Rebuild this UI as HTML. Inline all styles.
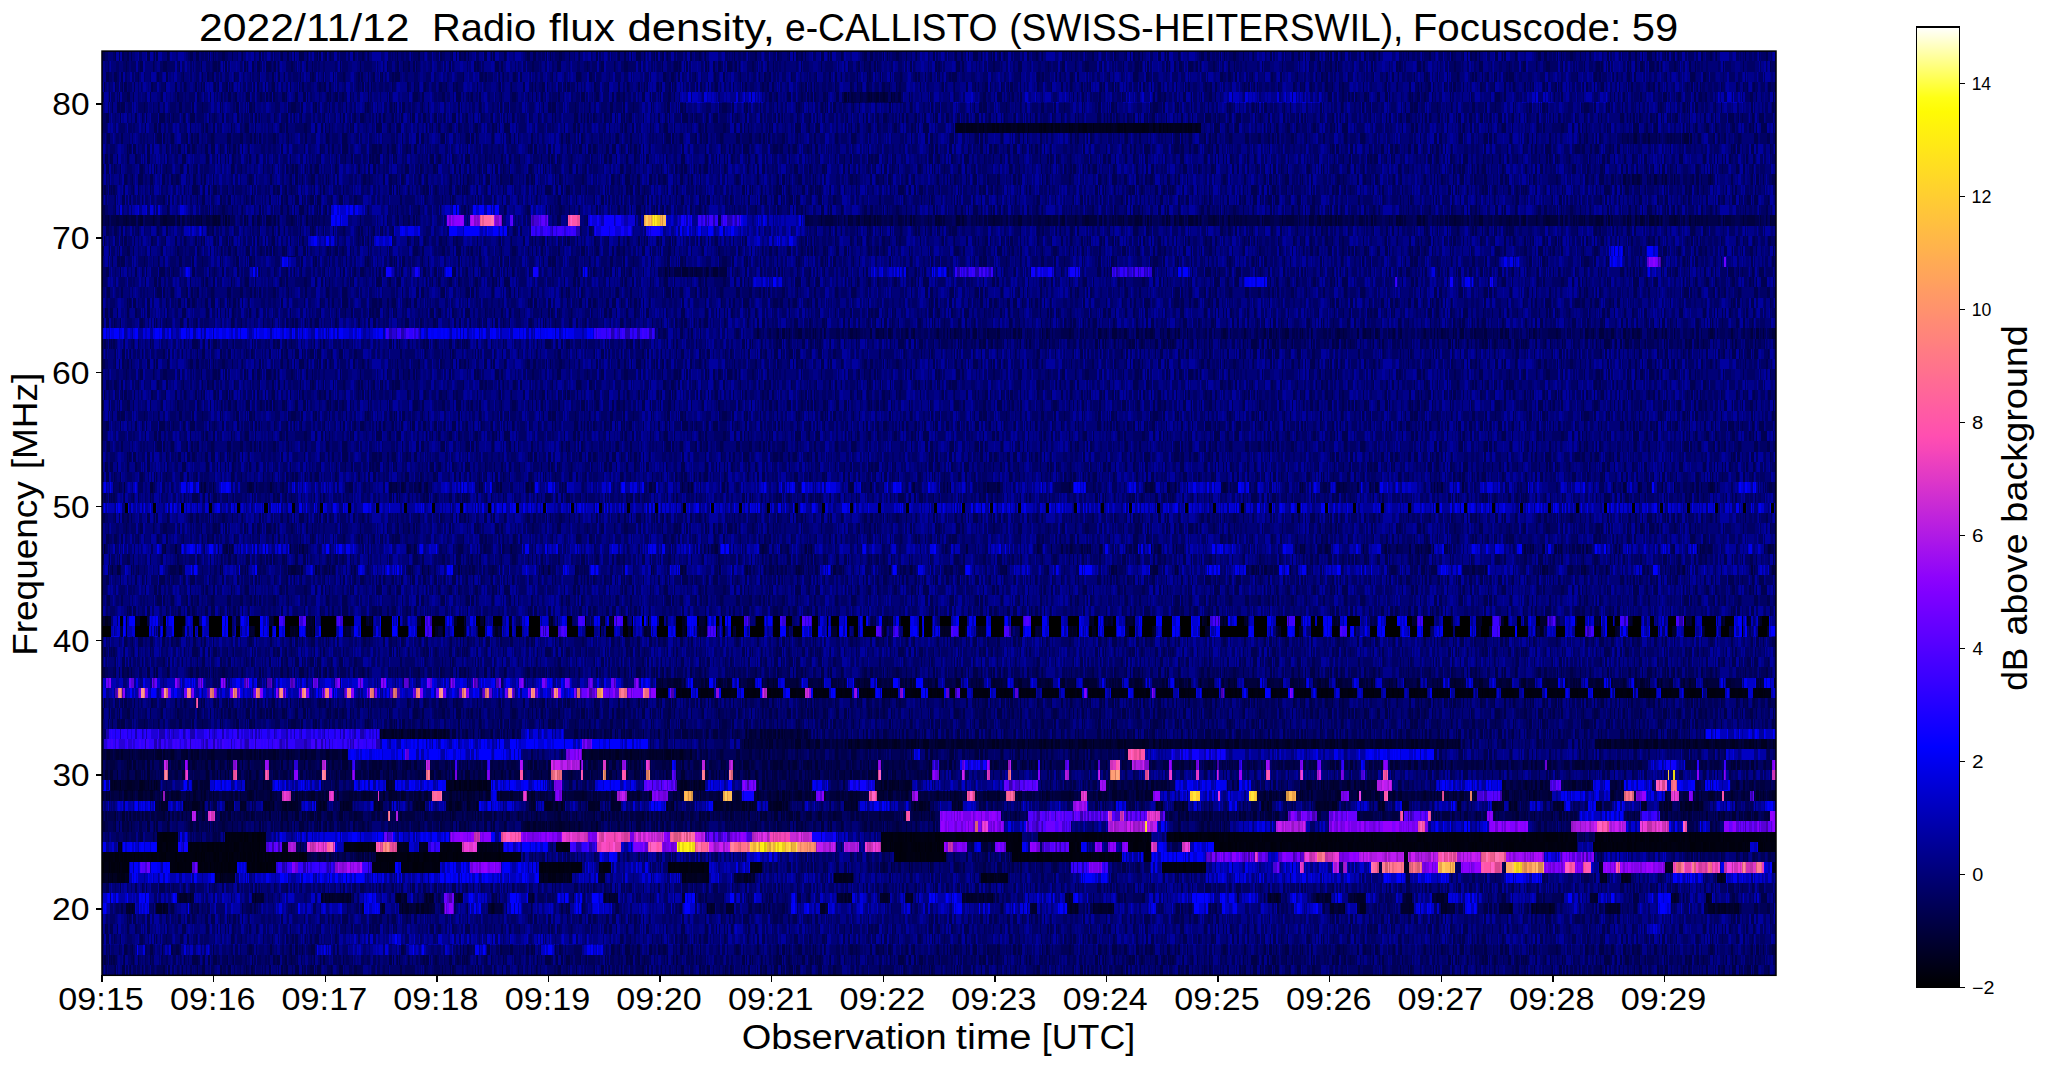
<!DOCTYPE html><html><head><meta charset="utf-8"><style>html,body{margin:0;padding:0;background:#fff;overflow:hidden}svg{display:block}text{font-family:"Liberation Sans",sans-serif}</style></head><body><svg width="2047" height="1067" viewBox="0 0 2047 1067" shape-rendering="crispEdges"><rect x="0" y="0" width="2047" height="1067" fill="#fff"/><defs><pattern id="d0" patternUnits="userSpaceOnUse" x="0" y="0" width="337" height="1067"><path fill="#000" fill-opacity="0.32" d="M16 0h2v1067h-2zM25 0h2v1067h-2zM31 0h1v1067h-1zM60 0h1v1067h-1zM81 0h2v1067h-2zM103 0h1v1067h-1zM104 0h1v1067h-1zM115 0h1v1067h-1zM119 0h1v1067h-1zM122 0h2v1067h-2zM127 0h2v1067h-2zM131 0h1v1067h-1zM147 0h3v1067h-3zM154 0h1v1067h-1zM156 0h2v1067h-2zM167 0h2v1067h-2zM190 0h1v1067h-1zM191 0h2v1067h-2zM196 0h2v1067h-2zM198 0h1v1067h-1zM209 0h1v1067h-1zM213 0h1v1067h-1zM222 0h3v1067h-3zM232 0h1v1067h-1zM242 0h1v1067h-1zM259 0h2v1067h-2zM281 0h2v1067h-2zM287 0h2v1067h-2zM294 0h1v1067h-1zM299 0h1v1067h-1zM300 0h2v1067h-2zM302 0h2v1067h-2zM307 0h1v1067h-1zM317 0h1v1067h-1zM319 0h2v1067h-2zM325 0h2v1067h-2zM330 0h1v1067h-1z"/><path fill="#000" fill-opacity="0.16" d="M0 0h2v1067h-2zM3 0h2v1067h-2zM5 0h2v1067h-2zM7 0h2v1067h-2zM11 0h2v1067h-2zM21 0h3v1067h-3zM24 0h1v1067h-1zM27 0h1v1067h-1zM30 0h1v1067h-1zM51 0h1v1067h-1zM52 0h1v1067h-1zM53 0h1v1067h-1zM55 0h1v1067h-1zM58 0h1v1067h-1zM64 0h2v1067h-2zM66 0h1v1067h-1zM69 0h1v1067h-1zM70 0h2v1067h-2zM74 0h1v1067h-1zM76 0h2v1067h-2zM78 0h3v1067h-3zM86 0h1v1067h-1zM91 0h1v1067h-1zM92 0h2v1067h-2zM94 0h1v1067h-1zM99 0h3v1067h-3zM105 0h1v1067h-1zM106 0h2v1067h-2zM113 0h1v1067h-1zM114 0h1v1067h-1zM124 0h2v1067h-2zM126 0h1v1067h-1zM139 0h3v1067h-3zM169 0h1v1067h-1zM188 0h2v1067h-2zM201 0h3v1067h-3zM205 0h3v1067h-3zM215 0h1v1067h-1zM218 0h3v1067h-3zM221 0h1v1067h-1zM225 0h3v1067h-3zM237 0h1v1067h-1zM241 0h1v1067h-1zM254 0h1v1067h-1zM262 0h2v1067h-2zM271 0h2v1067h-2zM274 0h1v1067h-1zM280 0h1v1067h-1zM291 0h1v1067h-1zM314 0h3v1067h-3zM323 0h2v1067h-2zM329 0h1v1067h-1zM331 0h3v1067h-3z"/></pattern><pattern id="l0" patternUnits="userSpaceOnUse" x="0" y="0" width="337" height="1067"><path fill="#212121" d="M2 0h1v1067h-1zM9 0h2v1067h-2zM20 0h1v1067h-1zM29 0h1v1067h-1zM47 0h1v1067h-1zM72 0h1v1067h-1zM87 0h1v1067h-1zM135 0h3v1067h-3zM142 0h2v1067h-2zM144 0h1v1067h-1zM145 0h1v1067h-1zM155 0h1v1067h-1zM172 0h3v1067h-3zM175 0h1v1067h-1zM184 0h2v1067h-2zM208 0h1v1067h-1zM238 0h2v1067h-2zM240 0h1v1067h-1zM248 0h3v1067h-3zM256 0h3v1067h-3zM264 0h1v1067h-1zM270 0h1v1067h-1zM279 0h1v1067h-1zM296 0h3v1067h-3zM318 0h1v1067h-1zM328 0h1v1067h-1z"/><path fill="#404040" d="M13 0h3v1067h-3zM35 0h3v1067h-3zM38 0h2v1067h-2zM40 0h2v1067h-2zM42 0h2v1067h-2zM48 0h3v1067h-3zM73 0h1v1067h-1zM88 0h2v1067h-2zM95 0h1v1067h-1zM102 0h1v1067h-1zM116 0h1v1067h-1zM117 0h1v1067h-1zM118 0h1v1067h-1zM120 0h2v1067h-2zM138 0h1v1067h-1zM146 0h1v1067h-1zM150 0h3v1067h-3zM158 0h1v1067h-1zM159 0h3v1067h-3zM170 0h2v1067h-2zM178 0h1v1067h-1zM179 0h1v1067h-1zM180 0h2v1067h-2zM182 0h2v1067h-2zM210 0h1v1067h-1zM246 0h2v1067h-2zM251 0h3v1067h-3zM261 0h1v1067h-1zM267 0h3v1067h-3zM273 0h1v1067h-1zM292 0h2v1067h-2zM295 0h1v1067h-1zM309 0h1v1067h-1zM312 0h2v1067h-2zM321 0h1v1067h-1zM322 0h1v1067h-1zM327 0h1v1067h-1zM334 0h3v1067h-3z"/></pattern><pattern id="d1" patternUnits="userSpaceOnUse" x="0" y="0" width="353" height="1067"><path fill="#000" fill-opacity="0.32" d="M36 0h2v1067h-2zM38 0h1v1067h-1zM40 0h1v1067h-1zM44 0h1v1067h-1zM46 0h1v1067h-1zM55 0h1v1067h-1zM70 0h2v1067h-2zM73 0h3v1067h-3zM82 0h2v1067h-2zM96 0h1v1067h-1zM97 0h2v1067h-2zM104 0h2v1067h-2zM109 0h1v1067h-1zM111 0h1v1067h-1zM113 0h2v1067h-2zM124 0h1v1067h-1zM133 0h1v1067h-1zM138 0h1v1067h-1zM150 0h1v1067h-1zM184 0h1v1067h-1zM192 0h3v1067h-3zM195 0h3v1067h-3zM203 0h2v1067h-2zM208 0h2v1067h-2zM213 0h2v1067h-2zM215 0h2v1067h-2zM227 0h1v1067h-1zM233 0h1v1067h-1zM252 0h1v1067h-1zM273 0h2v1067h-2zM277 0h3v1067h-3zM285 0h2v1067h-2zM291 0h1v1067h-1zM314 0h1v1067h-1zM320 0h1v1067h-1zM323 0h2v1067h-2zM343 0h1v1067h-1z"/><path fill="#000" fill-opacity="0.16" d="M8 0h2v1067h-2zM10 0h1v1067h-1zM14 0h1v1067h-1zM15 0h2v1067h-2zM20 0h1v1067h-1zM21 0h2v1067h-2zM25 0h1v1067h-1zM26 0h1v1067h-1zM43 0h1v1067h-1zM56 0h1v1067h-1zM59 0h1v1067h-1zM63 0h2v1067h-2zM67 0h3v1067h-3zM72 0h1v1067h-1zM77 0h1v1067h-1zM80 0h2v1067h-2zM84 0h2v1067h-2zM91 0h1v1067h-1zM102 0h2v1067h-2zM106 0h2v1067h-2zM110 0h1v1067h-1zM112 0h1v1067h-1zM115 0h2v1067h-2zM123 0h1v1067h-1zM131 0h2v1067h-2zM145 0h1v1067h-1zM152 0h2v1067h-2zM161 0h2v1067h-2zM166 0h2v1067h-2zM173 0h2v1067h-2zM175 0h1v1067h-1zM180 0h1v1067h-1zM188 0h1v1067h-1zM198 0h2v1067h-2zM218 0h2v1067h-2zM222 0h2v1067h-2zM224 0h3v1067h-3zM232 0h1v1067h-1zM235 0h2v1067h-2zM237 0h3v1067h-3zM240 0h1v1067h-1zM241 0h1v1067h-1zM245 0h2v1067h-2zM254 0h2v1067h-2zM257 0h2v1067h-2zM259 0h2v1067h-2zM265 0h2v1067h-2zM268 0h2v1067h-2zM275 0h1v1067h-1zM276 0h1v1067h-1zM282 0h3v1067h-3zM289 0h2v1067h-2zM292 0h2v1067h-2zM294 0h2v1067h-2zM297 0h1v1067h-1zM301 0h1v1067h-1zM311 0h1v1067h-1zM333 0h2v1067h-2zM335 0h2v1067h-2zM338 0h2v1067h-2zM340 0h1v1067h-1zM346 0h1v1067h-1zM347 0h2v1067h-2zM352 0h1v1067h-1z"/></pattern><pattern id="l1" patternUnits="userSpaceOnUse" x="0" y="0" width="353" height="1067"><path fill="#212121" d="M2 0h1v1067h-1zM4 0h2v1067h-2zM17 0h1v1067h-1zM23 0h2v1067h-2zM27 0h3v1067h-3zM34 0h2v1067h-2zM45 0h1v1067h-1zM50 0h2v1067h-2zM53 0h1v1067h-1zM57 0h2v1067h-2zM60 0h3v1067h-3zM66 0h1v1067h-1zM79 0h1v1067h-1zM86 0h1v1067h-1zM90 0h1v1067h-1zM99 0h2v1067h-2zM108 0h1v1067h-1zM117 0h1v1067h-1zM120 0h2v1067h-2zM141 0h1v1067h-1zM143 0h2v1067h-2zM148 0h2v1067h-2zM168 0h3v1067h-3zM172 0h1v1067h-1zM179 0h1v1067h-1zM183 0h1v1067h-1zM187 0h1v1067h-1zM189 0h2v1067h-2zM191 0h1v1067h-1zM220 0h2v1067h-2zM228 0h1v1067h-1zM234 0h1v1067h-1zM247 0h1v1067h-1zM253 0h1v1067h-1zM270 0h3v1067h-3zM287 0h1v1067h-1zM302 0h2v1067h-2zM312 0h1v1067h-1zM322 0h1v1067h-1zM330 0h2v1067h-2zM341 0h1v1067h-1zM342 0h1v1067h-1z"/><path fill="#404040" d="M0 0h1v1067h-1zM3 0h1v1067h-1zM6 0h2v1067h-2zM18 0h2v1067h-2zM39 0h1v1067h-1zM41 0h2v1067h-2zM52 0h1v1067h-1zM76 0h1v1067h-1zM78 0h1v1067h-1zM101 0h1v1067h-1zM118 0h2v1067h-2zM122 0h1v1067h-1zM125 0h3v1067h-3zM135 0h3v1067h-3zM154 0h2v1067h-2zM156 0h3v1067h-3zM160 0h1v1067h-1zM171 0h1v1067h-1zM176 0h2v1067h-2zM182 0h1v1067h-1zM200 0h2v1067h-2zM205 0h1v1067h-1zM206 0h2v1067h-2zM210 0h1v1067h-1zM250 0h2v1067h-2zM256 0h1v1067h-1zM280 0h2v1067h-2zM298 0h3v1067h-3zM305 0h3v1067h-3zM315 0h3v1067h-3zM329 0h1v1067h-1zM332 0h1v1067h-1z"/></pattern><pattern id="d2" patternUnits="userSpaceOnUse" x="0" y="0" width="389" height="1067"><path fill="#000" fill-opacity="0.32" d="M16 0h2v1067h-2zM18 0h2v1067h-2zM31 0h2v1067h-2zM44 0h3v1067h-3zM48 0h1v1067h-1zM65 0h2v1067h-2zM70 0h2v1067h-2zM81 0h1v1067h-1zM90 0h1v1067h-1zM97 0h1v1067h-1zM103 0h1v1067h-1zM106 0h3v1067h-3zM114 0h1v1067h-1zM120 0h1v1067h-1zM140 0h3v1067h-3zM154 0h1v1067h-1zM156 0h1v1067h-1zM166 0h1v1067h-1zM180 0h3v1067h-3zM187 0h1v1067h-1zM188 0h1v1067h-1zM196 0h1v1067h-1zM231 0h2v1067h-2zM233 0h1v1067h-1zM241 0h1v1067h-1zM263 0h1v1067h-1zM272 0h1v1067h-1zM286 0h2v1067h-2zM292 0h2v1067h-2zM295 0h2v1067h-2zM297 0h1v1067h-1zM305 0h1v1067h-1zM310 0h2v1067h-2zM315 0h2v1067h-2zM317 0h2v1067h-2zM335 0h2v1067h-2zM358 0h2v1067h-2zM368 0h2v1067h-2zM373 0h3v1067h-3z"/><path fill="#000" fill-opacity="0.16" d="M8 0h1v1067h-1zM12 0h2v1067h-2zM26 0h1v1067h-1zM27 0h1v1067h-1zM28 0h2v1067h-2zM33 0h2v1067h-2zM38 0h2v1067h-2zM47 0h1v1067h-1zM59 0h2v1067h-2zM75 0h3v1067h-3zM80 0h1v1067h-1zM88 0h1v1067h-1zM89 0h1v1067h-1zM91 0h1v1067h-1zM92 0h1v1067h-1zM94 0h2v1067h-2zM96 0h1v1067h-1zM111 0h2v1067h-2zM115 0h2v1067h-2zM127 0h3v1067h-3zM130 0h2v1067h-2zM139 0h1v1067h-1zM143 0h2v1067h-2zM148 0h1v1067h-1zM151 0h1v1067h-1zM160 0h1v1067h-1zM163 0h3v1067h-3zM167 0h1v1067h-1zM168 0h2v1067h-2zM170 0h2v1067h-2zM193 0h3v1067h-3zM197 0h1v1067h-1zM200 0h1v1067h-1zM201 0h2v1067h-2zM204 0h3v1067h-3zM207 0h2v1067h-2zM214 0h1v1067h-1zM221 0h1v1067h-1zM234 0h1v1067h-1zM237 0h2v1067h-2zM239 0h2v1067h-2zM245 0h2v1067h-2zM254 0h1v1067h-1zM267 0h2v1067h-2zM269 0h1v1067h-1zM278 0h1v1067h-1zM282 0h2v1067h-2zM288 0h1v1067h-1zM290 0h2v1067h-2zM307 0h1v1067h-1zM314 0h1v1067h-1zM321 0h1v1067h-1zM324 0h1v1067h-1zM330 0h1v1067h-1zM337 0h2v1067h-2zM364 0h1v1067h-1zM378 0h2v1067h-2zM383 0h2v1067h-2zM386 0h3v1067h-3z"/></pattern><pattern id="l2" patternUnits="userSpaceOnUse" x="0" y="0" width="389" height="1067"><path fill="#212121" d="M1 0h1v1067h-1zM20 0h2v1067h-2zM30 0h1v1067h-1zM35 0h1v1067h-1zM61 0h2v1067h-2zM67 0h3v1067h-3zM73 0h2v1067h-2zM82 0h2v1067h-2zM87 0h1v1067h-1zM101 0h2v1067h-2zM122 0h1v1067h-1zM123 0h2v1067h-2zM135 0h2v1067h-2zM137 0h1v1067h-1zM145 0h2v1067h-2zM147 0h1v1067h-1zM155 0h1v1067h-1zM158 0h2v1067h-2zM172 0h1v1067h-1zM189 0h2v1067h-2zM192 0h1v1067h-1zM199 0h1v1067h-1zM217 0h1v1067h-1zM218 0h2v1067h-2zM226 0h1v1067h-1zM228 0h3v1067h-3zM235 0h2v1067h-2zM247 0h2v1067h-2zM251 0h1v1067h-1zM252 0h2v1067h-2zM260 0h3v1067h-3zM308 0h1v1067h-1zM319 0h2v1067h-2zM322 0h2v1067h-2zM349 0h2v1067h-2zM362 0h2v1067h-2zM376 0h2v1067h-2z"/><path fill="#404040" d="M0 0h1v1067h-1zM3 0h1v1067h-1zM4 0h2v1067h-2zM6 0h2v1067h-2zM25 0h1v1067h-1zM49 0h1v1067h-1zM50 0h1v1067h-1zM51 0h2v1067h-2zM63 0h2v1067h-2zM72 0h1v1067h-1zM78 0h2v1067h-2zM93 0h1v1067h-1zM98 0h2v1067h-2zM100 0h1v1067h-1zM104 0h2v1067h-2zM109 0h2v1067h-2zM121 0h1v1067h-1zM138 0h1v1067h-1zM149 0h2v1067h-2zM152 0h2v1067h-2zM161 0h1v1067h-1zM173 0h2v1067h-2zM184 0h3v1067h-3zM198 0h1v1067h-1zM215 0h2v1067h-2zM222 0h2v1067h-2zM227 0h1v1067h-1zM258 0h2v1067h-2zM275 0h3v1067h-3zM279 0h1v1067h-1zM285 0h1v1067h-1zM301 0h1v1067h-1zM303 0h1v1067h-1zM331 0h1v1067h-1zM339 0h1v1067h-1zM340 0h3v1067h-3zM346 0h3v1067h-3zM354 0h2v1067h-2zM366 0h2v1067h-2zM370 0h3v1067h-3z"/></pattern><pattern id="d3" patternUnits="userSpaceOnUse" x="0" y="0" width="401" height="1067"><path fill="#000" fill-opacity="0.32" d="M5 0h2v1067h-2zM9 0h1v1067h-1zM13 0h3v1067h-3zM66 0h1v1067h-1zM127 0h1v1067h-1zM129 0h2v1067h-2zM133 0h1v1067h-1zM134 0h2v1067h-2zM147 0h3v1067h-3zM166 0h1v1067h-1zM178 0h3v1067h-3zM187 0h1v1067h-1zM188 0h2v1067h-2zM192 0h3v1067h-3zM205 0h3v1067h-3zM211 0h3v1067h-3zM214 0h1v1067h-1zM220 0h1v1067h-1zM227 0h1v1067h-1zM229 0h1v1067h-1zM233 0h1v1067h-1zM234 0h2v1067h-2zM238 0h1v1067h-1zM242 0h1v1067h-1zM248 0h1v1067h-1zM281 0h2v1067h-2zM304 0h1v1067h-1zM320 0h1v1067h-1zM328 0h1v1067h-1zM332 0h2v1067h-2zM342 0h1v1067h-1zM343 0h3v1067h-3zM346 0h2v1067h-2zM372 0h2v1067h-2zM374 0h3v1067h-3zM379 0h3v1067h-3zM387 0h2v1067h-2zM392 0h1v1067h-1zM393 0h2v1067h-2zM395 0h1v1067h-1z"/><path fill="#000" fill-opacity="0.16" d="M1 0h3v1067h-3zM4 0h1v1067h-1zM7 0h1v1067h-1zM8 0h1v1067h-1zM19 0h1v1067h-1zM24 0h1v1067h-1zM26 0h1v1067h-1zM29 0h1v1067h-1zM34 0h1v1067h-1zM35 0h1v1067h-1zM36 0h1v1067h-1zM37 0h1v1067h-1zM44 0h1v1067h-1zM45 0h2v1067h-2zM50 0h2v1067h-2zM58 0h1v1067h-1zM75 0h2v1067h-2zM78 0h1v1067h-1zM79 0h1v1067h-1zM82 0h1v1067h-1zM83 0h3v1067h-3zM86 0h1v1067h-1zM90 0h2v1067h-2zM97 0h2v1067h-2zM101 0h1v1067h-1zM102 0h1v1067h-1zM106 0h2v1067h-2zM110 0h3v1067h-3zM113 0h1v1067h-1zM114 0h1v1067h-1zM128 0h1v1067h-1zM131 0h1v1067h-1zM138 0h1v1067h-1zM142 0h2v1067h-2zM144 0h1v1067h-1zM152 0h2v1067h-2zM160 0h2v1067h-2zM167 0h1v1067h-1zM168 0h1v1067h-1zM171 0h1v1067h-1zM172 0h2v1067h-2zM175 0h1v1067h-1zM184 0h1v1067h-1zM195 0h2v1067h-2zM201 0h1v1067h-1zM221 0h3v1067h-3zM230 0h1v1067h-1zM239 0h1v1067h-1zM249 0h1v1067h-1zM261 0h1v1067h-1zM262 0h3v1067h-3zM268 0h2v1067h-2zM270 0h1v1067h-1zM273 0h3v1067h-3zM287 0h2v1067h-2zM293 0h1v1067h-1zM294 0h1v1067h-1zM295 0h3v1067h-3zM308 0h3v1067h-3zM321 0h2v1067h-2zM323 0h1v1067h-1zM324 0h1v1067h-1zM329 0h1v1067h-1zM338 0h2v1067h-2zM350 0h3v1067h-3zM361 0h3v1067h-3zM364 0h2v1067h-2zM369 0h3v1067h-3zM377 0h1v1067h-1zM378 0h1v1067h-1zM391 0h1v1067h-1z"/></pattern><pattern id="l3" patternUnits="userSpaceOnUse" x="0" y="0" width="401" height="1067"><path fill="#212121" d="M10 0h3v1067h-3zM16 0h3v1067h-3zM25 0h1v1067h-1zM30 0h1v1067h-1zM38 0h1v1067h-1zM39 0h3v1067h-3zM42 0h2v1067h-2zM47 0h1v1067h-1zM54 0h1v1067h-1zM63 0h1v1067h-1zM65 0h1v1067h-1zM72 0h1v1067h-1zM81 0h1v1067h-1zM105 0h1v1067h-1zM117 0h1v1067h-1zM121 0h3v1067h-3zM136 0h2v1067h-2zM162 0h1v1067h-1zM163 0h1v1067h-1zM164 0h2v1067h-2zM181 0h3v1067h-3zM197 0h1v1067h-1zM208 0h3v1067h-3zM245 0h1v1067h-1zM246 0h1v1067h-1zM251 0h3v1067h-3zM286 0h1v1067h-1zM305 0h1v1067h-1zM315 0h2v1067h-2zM319 0h1v1067h-1zM325 0h3v1067h-3zM330 0h1v1067h-1zM349 0h1v1067h-1zM354 0h1v1067h-1zM358 0h3v1067h-3z"/><path fill="#404040" d="M0 0h1v1067h-1zM23 0h1v1067h-1zM49 0h1v1067h-1zM55 0h3v1067h-3zM60 0h1v1067h-1zM67 0h2v1067h-2zM80 0h1v1067h-1zM103 0h2v1067h-2zM118 0h3v1067h-3zM132 0h1v1067h-1zM145 0h2v1067h-2zM150 0h2v1067h-2zM154 0h3v1067h-3zM157 0h2v1067h-2zM170 0h1v1067h-1zM185 0h1v1067h-1zM186 0h1v1067h-1zM215 0h1v1067h-1zM216 0h2v1067h-2zM225 0h2v1067h-2zM240 0h2v1067h-2zM243 0h2v1067h-2zM250 0h1v1067h-1zM280 0h1v1067h-1zM283 0h3v1067h-3zM289 0h3v1067h-3zM306 0h2v1067h-2zM317 0h2v1067h-2zM341 0h1v1067h-1zM355 0h3v1067h-3zM367 0h2v1067h-2zM398 0h2v1067h-2z"/></pattern><pattern id="d4" patternUnits="userSpaceOnUse" x="0" y="0" width="419" height="1067"><path fill="#000" fill-opacity="0.32" d="M7 0h1v1067h-1zM13 0h1v1067h-1zM19 0h2v1067h-2zM30 0h3v1067h-3zM39 0h2v1067h-2zM56 0h3v1067h-3zM73 0h2v1067h-2zM77 0h1v1067h-1zM80 0h1v1067h-1zM85 0h2v1067h-2zM87 0h3v1067h-3zM90 0h1v1067h-1zM145 0h1v1067h-1zM154 0h3v1067h-3zM159 0h2v1067h-2zM190 0h1v1067h-1zM203 0h1v1067h-1zM206 0h2v1067h-2zM213 0h2v1067h-2zM231 0h1v1067h-1zM245 0h1v1067h-1zM246 0h3v1067h-3zM255 0h1v1067h-1zM280 0h2v1067h-2zM286 0h1v1067h-1zM287 0h1v1067h-1zM304 0h3v1067h-3zM315 0h2v1067h-2zM321 0h2v1067h-2zM325 0h1v1067h-1zM329 0h1v1067h-1zM350 0h1v1067h-1zM353 0h1v1067h-1zM376 0h1v1067h-1zM377 0h3v1067h-3zM380 0h2v1067h-2zM389 0h2v1067h-2zM397 0h3v1067h-3zM400 0h1v1067h-1z"/><path fill="#000" fill-opacity="0.16" d="M10 0h1v1067h-1zM11 0h1v1067h-1zM17 0h1v1067h-1zM21 0h1v1067h-1zM28 0h2v1067h-2zM41 0h2v1067h-2zM45 0h3v1067h-3zM48 0h2v1067h-2zM54 0h1v1067h-1zM55 0h1v1067h-1zM60 0h2v1067h-2zM68 0h1v1067h-1zM69 0h2v1067h-2zM75 0h2v1067h-2zM97 0h1v1067h-1zM100 0h1v1067h-1zM101 0h3v1067h-3zM104 0h3v1067h-3zM115 0h1v1067h-1zM119 0h3v1067h-3zM122 0h1v1067h-1zM123 0h2v1067h-2zM128 0h3v1067h-3zM131 0h1v1067h-1zM133 0h2v1067h-2zM158 0h1v1067h-1zM164 0h2v1067h-2zM168 0h1v1067h-1zM169 0h3v1067h-3zM180 0h1v1067h-1zM184 0h3v1067h-3zM201 0h2v1067h-2zM205 0h1v1067h-1zM217 0h2v1067h-2zM220 0h2v1067h-2zM234 0h1v1067h-1zM240 0h2v1067h-2zM244 0h1v1067h-1zM268 0h1v1067h-1zM272 0h1v1067h-1zM279 0h1v1067h-1zM282 0h3v1067h-3zM295 0h2v1067h-2zM297 0h2v1067h-2zM299 0h3v1067h-3zM302 0h2v1067h-2zM307 0h3v1067h-3zM310 0h1v1067h-1zM332 0h1v1067h-1zM342 0h2v1067h-2zM347 0h2v1067h-2zM351 0h2v1067h-2zM358 0h1v1067h-1zM366 0h1v1067h-1zM372 0h1v1067h-1zM387 0h1v1067h-1zM388 0h1v1067h-1zM396 0h1v1067h-1zM406 0h1v1067h-1zM417 0h2v1067h-2z"/></pattern><pattern id="l4" patternUnits="userSpaceOnUse" x="0" y="0" width="419" height="1067"><path fill="#212121" d="M0 0h3v1067h-3zM6 0h1v1067h-1zM14 0h3v1067h-3zM22 0h1v1067h-1zM23 0h2v1067h-2zM35 0h1v1067h-1zM38 0h1v1067h-1zM50 0h1v1067h-1zM52 0h2v1067h-2zM62 0h1v1067h-1zM78 0h2v1067h-2zM83 0h2v1067h-2zM93 0h2v1067h-2zM98 0h1v1067h-1zM110 0h1v1067h-1zM143 0h2v1067h-2zM157 0h1v1067h-1zM161 0h3v1067h-3zM166 0h2v1067h-2zM175 0h1v1067h-1zM176 0h1v1067h-1zM191 0h2v1067h-2zM193 0h2v1067h-2zM196 0h2v1067h-2zM199 0h2v1067h-2zM204 0h1v1067h-1zM211 0h2v1067h-2zM224 0h3v1067h-3zM227 0h1v1067h-1zM229 0h2v1067h-2zM235 0h2v1067h-2zM249 0h2v1067h-2zM256 0h2v1067h-2zM258 0h3v1067h-3zM263 0h1v1067h-1zM266 0h2v1067h-2zM273 0h2v1067h-2zM277 0h2v1067h-2zM285 0h1v1067h-1zM317 0h1v1067h-1zM323 0h1v1067h-1zM335 0h2v1067h-2zM344 0h2v1067h-2zM349 0h1v1067h-1zM360 0h3v1067h-3zM369 0h1v1067h-1zM370 0h2v1067h-2zM383 0h2v1067h-2zM385 0h2v1067h-2zM415 0h2v1067h-2z"/><path fill="#404040" d="M5 0h1v1067h-1zM9 0h1v1067h-1zM36 0h1v1067h-1zM63 0h2v1067h-2zM66 0h1v1067h-1zM67 0h1v1067h-1zM81 0h2v1067h-2zM91 0h2v1067h-2zM95 0h2v1067h-2zM108 0h2v1067h-2zM111 0h2v1067h-2zM116 0h2v1067h-2zM127 0h1v1067h-1zM139 0h2v1067h-2zM146 0h3v1067h-3zM173 0h1v1067h-1zM174 0h1v1067h-1zM177 0h2v1067h-2zM187 0h3v1067h-3zM215 0h2v1067h-2zM222 0h2v1067h-2zM237 0h1v1067h-1zM238 0h2v1067h-2zM254 0h1v1067h-1zM275 0h2v1067h-2zM311 0h1v1067h-1zM312 0h3v1067h-3zM318 0h3v1067h-3zM324 0h1v1067h-1zM354 0h1v1067h-1zM355 0h2v1067h-2zM375 0h1v1067h-1zM382 0h1v1067h-1zM395 0h1v1067h-1zM401 0h3v1067h-3zM411 0h2v1067h-2z"/></pattern><pattern id="d5" patternUnits="userSpaceOnUse" x="0" y="0" width="431" height="1067"><path fill="#000" fill-opacity="0.32" d="M27 0h2v1067h-2zM48 0h2v1067h-2zM69 0h2v1067h-2zM77 0h1v1067h-1zM112 0h1v1067h-1zM117 0h3v1067h-3zM121 0h1v1067h-1zM122 0h3v1067h-3zM144 0h1v1067h-1zM158 0h1v1067h-1zM179 0h1v1067h-1zM180 0h2v1067h-2zM192 0h2v1067h-2zM202 0h1v1067h-1zM220 0h1v1067h-1zM236 0h3v1067h-3zM249 0h3v1067h-3zM254 0h1v1067h-1zM288 0h1v1067h-1zM291 0h2v1067h-2zM293 0h3v1067h-3zM301 0h2v1067h-2zM313 0h1v1067h-1zM315 0h2v1067h-2zM329 0h1v1067h-1zM346 0h1v1067h-1zM365 0h1v1067h-1zM367 0h2v1067h-2zM390 0h2v1067h-2zM394 0h1v1067h-1zM396 0h1v1067h-1zM402 0h3v1067h-3zM422 0h1v1067h-1zM428 0h1v1067h-1z"/><path fill="#000" fill-opacity="0.16" d="M13 0h2v1067h-2zM30 0h1v1067h-1zM38 0h1v1067h-1zM41 0h3v1067h-3zM50 0h1v1067h-1zM61 0h2v1067h-2zM66 0h2v1067h-2zM73 0h2v1067h-2zM75 0h1v1067h-1zM76 0h1v1067h-1zM79 0h1v1067h-1zM80 0h2v1067h-2zM82 0h1v1067h-1zM83 0h2v1067h-2zM88 0h3v1067h-3zM98 0h1v1067h-1zM99 0h2v1067h-2zM101 0h2v1067h-2zM108 0h1v1067h-1zM120 0h1v1067h-1zM128 0h2v1067h-2zM130 0h1v1067h-1zM131 0h1v1067h-1zM138 0h2v1067h-2zM140 0h2v1067h-2zM142 0h2v1067h-2zM145 0h3v1067h-3zM153 0h1v1067h-1zM159 0h1v1067h-1zM163 0h2v1067h-2zM170 0h1v1067h-1zM171 0h1v1067h-1zM172 0h2v1067h-2zM174 0h2v1067h-2zM185 0h3v1067h-3zM188 0h3v1067h-3zM197 0h2v1067h-2zM199 0h2v1067h-2zM201 0h1v1067h-1zM203 0h2v1067h-2zM205 0h3v1067h-3zM222 0h1v1067h-1zM233 0h2v1067h-2zM245 0h1v1067h-1zM247 0h1v1067h-1zM252 0h1v1067h-1zM253 0h1v1067h-1zM275 0h3v1067h-3zM278 0h2v1067h-2zM289 0h2v1067h-2zM296 0h3v1067h-3zM299 0h1v1067h-1zM314 0h1v1067h-1zM318 0h1v1067h-1zM319 0h1v1067h-1zM324 0h3v1067h-3zM332 0h3v1067h-3zM338 0h1v1067h-1zM339 0h2v1067h-2zM342 0h1v1067h-1zM350 0h2v1067h-2zM354 0h2v1067h-2zM366 0h1v1067h-1zM369 0h2v1067h-2zM372 0h1v1067h-1zM377 0h1v1067h-1zM384 0h2v1067h-2zM386 0h1v1067h-1zM389 0h1v1067h-1zM392 0h1v1067h-1zM399 0h1v1067h-1zM400 0h1v1067h-1zM408 0h3v1067h-3zM412 0h3v1067h-3zM420 0h2v1067h-2z"/></pattern><pattern id="l5" patternUnits="userSpaceOnUse" x="0" y="0" width="431" height="1067"><path fill="#212121" d="M7 0h1v1067h-1zM15 0h3v1067h-3zM20 0h2v1067h-2zM25 0h2v1067h-2zM31 0h3v1067h-3zM36 0h2v1067h-2zM40 0h1v1067h-1zM44 0h2v1067h-2zM46 0h1v1067h-1zM51 0h1v1067h-1zM104 0h1v1067h-1zM113 0h1v1067h-1zM114 0h3v1067h-3zM125 0h1v1067h-1zM137 0h1v1067h-1zM148 0h1v1067h-1zM152 0h1v1067h-1zM160 0h3v1067h-3zM191 0h1v1067h-1zM196 0h1v1067h-1zM221 0h1v1067h-1zM223 0h2v1067h-2zM227 0h3v1067h-3zM243 0h2v1067h-2zM255 0h1v1067h-1zM256 0h1v1067h-1zM261 0h2v1067h-2zM269 0h2v1067h-2zM280 0h2v1067h-2zM282 0h2v1067h-2zM300 0h1v1067h-1zM310 0h1v1067h-1zM312 0h1v1067h-1zM317 0h1v1067h-1zM328 0h1v1067h-1zM330 0h2v1067h-2zM335 0h3v1067h-3zM343 0h3v1067h-3zM347 0h2v1067h-2zM352 0h2v1067h-2zM357 0h3v1067h-3zM362 0h1v1067h-1zM363 0h1v1067h-1zM375 0h1v1067h-1zM378 0h3v1067h-3zM387 0h2v1067h-2zM411 0h1v1067h-1zM417 0h3v1067h-3zM425 0h2v1067h-2zM427 0h1v1067h-1zM429 0h2v1067h-2z"/><path fill="#404040" d="M0 0h3v1067h-3zM9 0h2v1067h-2zM11 0h2v1067h-2zM18 0h1v1067h-1zM29 0h1v1067h-1zM54 0h1v1067h-1zM55 0h2v1067h-2zM68 0h1v1067h-1zM72 0h1v1067h-1zM78 0h1v1067h-1zM91 0h3v1067h-3zM95 0h1v1067h-1zM105 0h3v1067h-3zM109 0h1v1067h-1zM132 0h1v1067h-1zM134 0h2v1067h-2zM165 0h3v1067h-3zM194 0h1v1067h-1zM195 0h1v1067h-1zM211 0h1v1067h-1zM212 0h2v1067h-2zM217 0h3v1067h-3zM225 0h2v1067h-2zM239 0h1v1067h-1zM246 0h1v1067h-1zM248 0h1v1067h-1zM266 0h3v1067h-3zM287 0h1v1067h-1zM303 0h3v1067h-3zM311 0h1v1067h-1zM320 0h2v1067h-2zM356 0h1v1067h-1zM360 0h2v1067h-2zM373 0h2v1067h-2zM376 0h1v1067h-1zM382 0h2v1067h-2zM397 0h2v1067h-2zM401 0h1v1067h-1z"/></pattern><pattern id="d6" patternUnits="userSpaceOnUse" x="0" y="0" width="443" height="1067"><path fill="#000" fill-opacity="0.32" d="M3 0h1v1067h-1zM10 0h1v1067h-1zM13 0h2v1067h-2zM34 0h1v1067h-1zM56 0h2v1067h-2zM68 0h1v1067h-1zM80 0h2v1067h-2zM89 0h1v1067h-1zM92 0h1v1067h-1zM99 0h3v1067h-3zM104 0h1v1067h-1zM115 0h1v1067h-1zM122 0h1v1067h-1zM124 0h1v1067h-1zM125 0h2v1067h-2zM134 0h1v1067h-1zM151 0h2v1067h-2zM165 0h1v1067h-1zM175 0h2v1067h-2zM184 0h2v1067h-2zM195 0h1v1067h-1zM196 0h1v1067h-1zM201 0h1v1067h-1zM204 0h1v1067h-1zM214 0h2v1067h-2zM218 0h1v1067h-1zM226 0h1v1067h-1zM227 0h1v1067h-1zM229 0h1v1067h-1zM232 0h1v1067h-1zM254 0h1v1067h-1zM257 0h2v1067h-2zM265 0h1v1067h-1zM272 0h3v1067h-3zM290 0h1v1067h-1zM299 0h1v1067h-1zM302 0h2v1067h-2zM319 0h2v1067h-2zM324 0h2v1067h-2zM329 0h2v1067h-2zM358 0h1v1067h-1zM362 0h2v1067h-2zM368 0h1v1067h-1zM371 0h1v1067h-1zM392 0h1v1067h-1zM407 0h2v1067h-2zM414 0h1v1067h-1zM418 0h1v1067h-1zM424 0h2v1067h-2zM439 0h3v1067h-3z"/><path fill="#000" fill-opacity="0.16" d="M0 0h3v1067h-3zM11 0h2v1067h-2zM15 0h2v1067h-2zM17 0h3v1067h-3zM41 0h2v1067h-2zM55 0h1v1067h-1zM59 0h2v1067h-2zM67 0h1v1067h-1zM86 0h3v1067h-3zM96 0h2v1067h-2zM98 0h1v1067h-1zM109 0h1v1067h-1zM116 0h3v1067h-3zM120 0h2v1067h-2zM128 0h2v1067h-2zM130 0h2v1067h-2zM138 0h1v1067h-1zM141 0h1v1067h-1zM153 0h2v1067h-2zM155 0h2v1067h-2zM161 0h2v1067h-2zM163 0h1v1067h-1zM164 0h1v1067h-1zM180 0h2v1067h-2zM186 0h1v1067h-1zM198 0h1v1067h-1zM203 0h1v1067h-1zM213 0h1v1067h-1zM217 0h1v1067h-1zM222 0h2v1067h-2zM224 0h2v1067h-2zM231 0h1v1067h-1zM240 0h1v1067h-1zM243 0h1v1067h-1zM244 0h1v1067h-1zM245 0h1v1067h-1zM248 0h3v1067h-3zM251 0h1v1067h-1zM253 0h1v1067h-1zM261 0h1v1067h-1zM268 0h2v1067h-2zM271 0h1v1067h-1zM277 0h1v1067h-1zM281 0h2v1067h-2zM286 0h1v1067h-1zM287 0h1v1067h-1zM297 0h1v1067h-1zM307 0h2v1067h-2zM309 0h2v1067h-2zM317 0h2v1067h-2zM321 0h3v1067h-3zM337 0h1v1067h-1zM338 0h1v1067h-1zM344 0h2v1067h-2zM356 0h2v1067h-2zM359 0h2v1067h-2zM365 0h1v1067h-1zM367 0h1v1067h-1zM373 0h1v1067h-1zM374 0h2v1067h-2zM379 0h3v1067h-3zM382 0h1v1067h-1zM385 0h1v1067h-1zM386 0h1v1067h-1zM387 0h2v1067h-2zM393 0h3v1067h-3zM409 0h2v1067h-2zM415 0h1v1067h-1zM416 0h2v1067h-2zM423 0h1v1067h-1zM426 0h2v1067h-2zM428 0h1v1067h-1zM432 0h2v1067h-2zM434 0h2v1067h-2zM442 0h1v1067h-1z"/></pattern><pattern id="l6" patternUnits="userSpaceOnUse" x="0" y="0" width="443" height="1067"><path fill="#212121" d="M6 0h1v1067h-1zM7 0h3v1067h-3zM20 0h1v1067h-1zM24 0h3v1067h-3zM32 0h2v1067h-2zM35 0h2v1067h-2zM48 0h3v1067h-3zM51 0h2v1067h-2zM62 0h2v1067h-2zM64 0h3v1067h-3zM74 0h3v1067h-3zM77 0h2v1067h-2zM79 0h1v1067h-1zM107 0h1v1067h-1zM123 0h1v1067h-1zM132 0h2v1067h-2zM135 0h3v1067h-3zM139 0h2v1067h-2zM146 0h2v1067h-2zM149 0h2v1067h-2zM170 0h1v1067h-1zM171 0h2v1067h-2zM173 0h2v1067h-2zM177 0h3v1067h-3zM182 0h1v1067h-1zM190 0h3v1067h-3zM197 0h1v1067h-1zM206 0h1v1067h-1zM209 0h1v1067h-1zM241 0h2v1067h-2zM275 0h2v1067h-2zM278 0h1v1067h-1zM283 0h3v1067h-3zM291 0h3v1067h-3zM314 0h3v1067h-3zM326 0h2v1067h-2zM328 0h1v1067h-1zM339 0h3v1067h-3zM369 0h2v1067h-2zM391 0h1v1067h-1zM396 0h1v1067h-1zM400 0h3v1067h-3zM403 0h1v1067h-1zM404 0h1v1067h-1zM405 0h2v1067h-2zM411 0h3v1067h-3zM419 0h1v1067h-1zM429 0h1v1067h-1zM430 0h1v1067h-1zM436 0h2v1067h-2z"/><path fill="#404040" d="M21 0h1v1067h-1zM22 0h2v1067h-2zM27 0h2v1067h-2zM39 0h1v1067h-1zM58 0h1v1067h-1zM82 0h3v1067h-3zM85 0h1v1067h-1zM102 0h2v1067h-2zM113 0h2v1067h-2zM119 0h1v1067h-1zM143 0h1v1067h-1zM144 0h2v1067h-2zM157 0h2v1067h-2zM166 0h2v1067h-2zM168 0h2v1067h-2zM205 0h1v1067h-1zM207 0h2v1067h-2zM210 0h3v1067h-3zM219 0h3v1067h-3zM228 0h1v1067h-1zM234 0h1v1067h-1zM235 0h1v1067h-1zM236 0h1v1067h-1zM238 0h2v1067h-2zM246 0h1v1067h-1zM252 0h1v1067h-1zM255 0h1v1067h-1zM256 0h1v1067h-1zM263 0h2v1067h-2zM266 0h2v1067h-2zM279 0h2v1067h-2zM288 0h2v1067h-2zM298 0h1v1067h-1zM334 0h1v1067h-1zM336 0h1v1067h-1zM346 0h1v1067h-1zM347 0h3v1067h-3zM353 0h1v1067h-1zM364 0h1v1067h-1zM397 0h3v1067h-3zM420 0h3v1067h-3z"/></pattern><pattern id="d7" patternUnits="userSpaceOnUse" x="0" y="0" width="461" height="1067"><path fill="#000" fill-opacity="0.32" d="M13 0h2v1067h-2zM16 0h2v1067h-2zM34 0h3v1067h-3zM37 0h1v1067h-1zM40 0h2v1067h-2zM71 0h2v1067h-2zM96 0h1v1067h-1zM97 0h3v1067h-3zM126 0h1v1067h-1zM140 0h3v1067h-3zM153 0h1v1067h-1zM163 0h2v1067h-2zM165 0h2v1067h-2zM179 0h1v1067h-1zM201 0h1v1067h-1zM213 0h3v1067h-3zM216 0h1v1067h-1zM218 0h2v1067h-2zM225 0h1v1067h-1zM226 0h1v1067h-1zM244 0h2v1067h-2zM247 0h1v1067h-1zM252 0h2v1067h-2zM257 0h2v1067h-2zM259 0h1v1067h-1zM266 0h3v1067h-3zM269 0h2v1067h-2zM274 0h2v1067h-2zM278 0h1v1067h-1zM291 0h2v1067h-2zM306 0h2v1067h-2zM312 0h1v1067h-1zM340 0h1v1067h-1zM360 0h1v1067h-1zM387 0h1v1067h-1zM397 0h2v1067h-2zM403 0h1v1067h-1zM408 0h2v1067h-2zM413 0h2v1067h-2zM416 0h1v1067h-1zM449 0h1v1067h-1zM450 0h1v1067h-1z"/><path fill="#000" fill-opacity="0.16" d="M6 0h1v1067h-1zM15 0h1v1067h-1zM18 0h2v1067h-2zM21 0h2v1067h-2zM54 0h1v1067h-1zM57 0h1v1067h-1zM62 0h3v1067h-3zM66 0h1v1067h-1zM67 0h3v1067h-3zM70 0h1v1067h-1zM73 0h3v1067h-3zM76 0h2v1067h-2zM79 0h1v1067h-1zM84 0h2v1067h-2zM91 0h1v1067h-1zM92 0h1v1067h-1zM108 0h1v1067h-1zM116 0h2v1067h-2zM118 0h1v1067h-1zM123 0h3v1067h-3zM127 0h2v1067h-2zM131 0h2v1067h-2zM133 0h3v1067h-3zM138 0h2v1067h-2zM154 0h1v1067h-1zM160 0h3v1067h-3zM167 0h1v1067h-1zM168 0h2v1067h-2zM170 0h2v1067h-2zM172 0h3v1067h-3zM177 0h1v1067h-1zM178 0h1v1067h-1zM182 0h1v1067h-1zM183 0h1v1067h-1zM190 0h2v1067h-2zM193 0h1v1067h-1zM196 0h3v1067h-3zM199 0h1v1067h-1zM206 0h1v1067h-1zM207 0h1v1067h-1zM208 0h1v1067h-1zM209 0h1v1067h-1zM212 0h1v1067h-1zM217 0h1v1067h-1zM223 0h1v1067h-1zM228 0h1v1067h-1zM229 0h1v1067h-1zM240 0h2v1067h-2zM260 0h2v1067h-2zM271 0h1v1067h-1zM273 0h1v1067h-1zM286 0h1v1067h-1zM287 0h1v1067h-1zM288 0h3v1067h-3zM293 0h2v1067h-2zM296 0h1v1067h-1zM300 0h2v1067h-2zM314 0h3v1067h-3zM318 0h2v1067h-2zM323 0h2v1067h-2zM335 0h2v1067h-2zM342 0h3v1067h-3zM345 0h2v1067h-2zM347 0h1v1067h-1zM364 0h1v1067h-1zM365 0h2v1067h-2zM367 0h2v1067h-2zM369 0h3v1067h-3zM377 0h1v1067h-1zM383 0h1v1067h-1zM388 0h2v1067h-2zM390 0h2v1067h-2zM395 0h2v1067h-2zM404 0h2v1067h-2zM406 0h2v1067h-2zM417 0h2v1067h-2zM419 0h1v1067h-1zM430 0h2v1067h-2zM437 0h2v1067h-2zM439 0h2v1067h-2zM444 0h2v1067h-2zM452 0h2v1067h-2z"/></pattern><pattern id="l7" patternUnits="userSpaceOnUse" x="0" y="0" width="461" height="1067"><path fill="#212121" d="M2 0h1v1067h-1zM3 0h1v1067h-1zM4 0h2v1067h-2zM7 0h1v1067h-1zM20 0h1v1067h-1zM23 0h3v1067h-3zM26 0h2v1067h-2zM28 0h2v1067h-2zM33 0h1v1067h-1zM51 0h3v1067h-3zM55 0h1v1067h-1zM56 0h1v1067h-1zM60 0h1v1067h-1zM81 0h3v1067h-3zM89 0h2v1067h-2zM100 0h3v1067h-3zM103 0h2v1067h-2zM109 0h1v1067h-1zM157 0h3v1067h-3zM189 0h1v1067h-1zM192 0h1v1067h-1zM194 0h1v1067h-1zM202 0h3v1067h-3zM205 0h1v1067h-1zM231 0h3v1067h-3zM234 0h2v1067h-2zM237 0h3v1067h-3zM248 0h1v1067h-1zM256 0h1v1067h-1zM276 0h1v1067h-1zM282 0h3v1067h-3zM285 0h1v1067h-1zM299 0h1v1067h-1zM304 0h2v1067h-2zM341 0h1v1067h-1zM352 0h2v1067h-2zM354 0h3v1067h-3zM378 0h3v1067h-3zM384 0h1v1067h-1zM392 0h3v1067h-3zM399 0h1v1067h-1zM415 0h1v1067h-1zM421 0h2v1067h-2zM426 0h2v1067h-2zM434 0h3v1067h-3zM447 0h1v1067h-1zM448 0h1v1067h-1zM455 0h2v1067h-2zM457 0h3v1067h-3z"/><path fill="#404040" d="M0 0h2v1067h-2zM10 0h3v1067h-3zM30 0h3v1067h-3zM45 0h2v1067h-2zM47 0h2v1067h-2zM61 0h1v1067h-1zM65 0h1v1067h-1zM86 0h2v1067h-2zM110 0h1v1067h-1zM136 0h2v1067h-2zM143 0h2v1067h-2zM175 0h2v1067h-2zM180 0h1v1067h-1zM181 0h1v1067h-1zM185 0h2v1067h-2zM221 0h1v1067h-1zM222 0h1v1067h-1zM224 0h1v1067h-1zM227 0h1v1067h-1zM230 0h1v1067h-1zM236 0h1v1067h-1zM243 0h1v1067h-1zM249 0h3v1067h-3zM262 0h1v1067h-1zM265 0h1v1067h-1zM280 0h2v1067h-2zM297 0h1v1067h-1zM302 0h2v1067h-2zM338 0h2v1067h-2zM376 0h1v1067h-1zM381 0h2v1067h-2zM385 0h1v1067h-1zM386 0h1v1067h-1zM432 0h2v1067h-2zM443 0h1v1067h-1zM446 0h1v1067h-1zM451 0h1v1067h-1zM460 0h1v1067h-1z"/></pattern><pattern id="d8" patternUnits="userSpaceOnUse" x="0" y="0" width="479" height="1067"><path fill="#000" fill-opacity="0.32" d="M15 0h1v1067h-1zM23 0h1v1067h-1zM39 0h1v1067h-1zM57 0h1v1067h-1zM79 0h3v1067h-3zM97 0h1v1067h-1zM115 0h1v1067h-1zM122 0h3v1067h-3zM130 0h1v1067h-1zM142 0h1v1067h-1zM163 0h2v1067h-2zM168 0h2v1067h-2zM182 0h1v1067h-1zM197 0h1v1067h-1zM202 0h3v1067h-3zM220 0h1v1067h-1zM221 0h1v1067h-1zM228 0h3v1067h-3zM246 0h1v1067h-1zM251 0h2v1067h-2zM269 0h2v1067h-2zM281 0h2v1067h-2zM286 0h2v1067h-2zM295 0h3v1067h-3zM298 0h1v1067h-1zM302 0h1v1067h-1zM310 0h1v1067h-1zM311 0h3v1067h-3zM317 0h1v1067h-1zM318 0h3v1067h-3zM331 0h1v1067h-1zM339 0h2v1067h-2zM341 0h2v1067h-2zM354 0h3v1067h-3zM400 0h1v1067h-1zM401 0h1v1067h-1zM425 0h1v1067h-1zM442 0h1v1067h-1zM450 0h1v1067h-1zM452 0h2v1067h-2zM475 0h1v1067h-1zM478 0h1v1067h-1z"/><path fill="#000" fill-opacity="0.16" d="M1 0h2v1067h-2zM5 0h2v1067h-2zM7 0h1v1067h-1zM8 0h1v1067h-1zM9 0h1v1067h-1zM10 0h2v1067h-2zM12 0h1v1067h-1zM16 0h1v1067h-1zM27 0h2v1067h-2zM29 0h2v1067h-2zM43 0h1v1067h-1zM48 0h1v1067h-1zM52 0h1v1067h-1zM58 0h1v1067h-1zM61 0h1v1067h-1zM75 0h2v1067h-2zM78 0h1v1067h-1zM87 0h1v1067h-1zM88 0h1v1067h-1zM90 0h1v1067h-1zM106 0h1v1067h-1zM114 0h1v1067h-1zM126 0h2v1067h-2zM129 0h1v1067h-1zM133 0h2v1067h-2zM135 0h1v1067h-1zM137 0h3v1067h-3zM145 0h3v1067h-3zM151 0h1v1067h-1zM152 0h2v1067h-2zM157 0h2v1067h-2zM159 0h1v1067h-1zM160 0h3v1067h-3zM172 0h2v1067h-2zM177 0h2v1067h-2zM186 0h1v1067h-1zM190 0h2v1067h-2zM211 0h2v1067h-2zM213 0h1v1067h-1zM223 0h1v1067h-1zM224 0h2v1067h-2zM234 0h1v1067h-1zM240 0h1v1067h-1zM244 0h1v1067h-1zM247 0h2v1067h-2zM253 0h2v1067h-2zM262 0h1v1067h-1zM265 0h1v1067h-1zM278 0h1v1067h-1zM284 0h2v1067h-2zM292 0h1v1067h-1zM304 0h2v1067h-2zM307 0h3v1067h-3zM315 0h1v1067h-1zM327 0h2v1067h-2zM329 0h2v1067h-2zM332 0h1v1067h-1zM349 0h2v1067h-2zM351 0h1v1067h-1zM357 0h2v1067h-2zM359 0h2v1067h-2zM361 0h2v1067h-2zM372 0h2v1067h-2zM374 0h1v1067h-1zM377 0h1v1067h-1zM378 0h1v1067h-1zM379 0h1v1067h-1zM383 0h2v1067h-2zM388 0h1v1067h-1zM405 0h3v1067h-3zM408 0h3v1067h-3zM411 0h2v1067h-2zM413 0h2v1067h-2zM424 0h1v1067h-1zM426 0h2v1067h-2zM434 0h2v1067h-2zM436 0h2v1067h-2zM438 0h2v1067h-2zM445 0h1v1067h-1zM454 0h2v1067h-2zM462 0h1v1067h-1zM467 0h1v1067h-1zM472 0h1v1067h-1z"/></pattern><pattern id="l8" patternUnits="userSpaceOnUse" x="0" y="0" width="479" height="1067"><path fill="#212121" d="M0 0h1v1067h-1zM20 0h3v1067h-3zM32 0h2v1067h-2zM37 0h1v1067h-1zM49 0h2v1067h-2zM53 0h2v1067h-2zM59 0h2v1067h-2zM62 0h1v1067h-1zM63 0h3v1067h-3zM82 0h2v1067h-2zM89 0h1v1067h-1zM96 0h1v1067h-1zM98 0h2v1067h-2zM107 0h1v1067h-1zM120 0h2v1067h-2zM131 0h2v1067h-2zM136 0h1v1067h-1zM140 0h1v1067h-1zM141 0h1v1067h-1zM155 0h1v1067h-1zM175 0h2v1067h-2zM183 0h3v1067h-3zM187 0h1v1067h-1zM188 0h2v1067h-2zM192 0h1v1067h-1zM194 0h1v1067h-1zM198 0h1v1067h-1zM205 0h3v1067h-3zM215 0h2v1067h-2zM226 0h1v1067h-1zM232 0h1v1067h-1zM233 0h1v1067h-1zM235 0h2v1067h-2zM241 0h2v1067h-2zM250 0h1v1067h-1zM261 0h1v1067h-1zM263 0h1v1067h-1zM266 0h2v1067h-2zM268 0h1v1067h-1zM272 0h3v1067h-3zM275 0h1v1067h-1zM288 0h1v1067h-1zM289 0h3v1067h-3zM293 0h2v1067h-2zM316 0h1v1067h-1zM321 0h1v1067h-1zM324 0h3v1067h-3zM336 0h1v1067h-1zM345 0h3v1067h-3zM348 0h1v1067h-1zM368 0h2v1067h-2zM375 0h1v1067h-1zM380 0h2v1067h-2zM415 0h2v1067h-2zM419 0h1v1067h-1zM430 0h2v1067h-2zM451 0h1v1067h-1zM456 0h3v1067h-3zM459 0h3v1067h-3zM465 0h1v1067h-1zM474 0h1v1067h-1z"/><path fill="#404040" d="M3 0h2v1067h-2zM13 0h2v1067h-2zM18 0h2v1067h-2zM24 0h3v1067h-3zM31 0h1v1067h-1zM34 0h3v1067h-3zM44 0h2v1067h-2zM51 0h1v1067h-1zM66 0h2v1067h-2zM91 0h2v1067h-2zM100 0h2v1067h-2zM104 0h1v1067h-1zM116 0h1v1067h-1zM118 0h2v1067h-2zM125 0h1v1067h-1zM128 0h1v1067h-1zM144 0h1v1067h-1zM150 0h1v1067h-1zM167 0h1v1067h-1zM170 0h2v1067h-2zM174 0h1v1067h-1zM180 0h1v1067h-1zM210 0h1v1067h-1zM217 0h3v1067h-3zM231 0h1v1067h-1zM255 0h1v1067h-1zM271 0h1v1067h-1zM277 0h1v1067h-1zM279 0h2v1067h-2zM299 0h1v1067h-1zM300 0h2v1067h-2zM306 0h1v1067h-1zM314 0h1v1067h-1zM322 0h2v1067h-2zM333 0h1v1067h-1zM334 0h1v1067h-1zM335 0h1v1067h-1zM343 0h1v1067h-1zM363 0h3v1067h-3zM366 0h2v1067h-2zM370 0h1v1067h-1zM376 0h1v1067h-1zM389 0h1v1067h-1zM421 0h1v1067h-1zM423 0h1v1067h-1zM464 0h1v1067h-1zM476 0h1v1067h-1z"/></pattern><pattern id="d9" patternUnits="userSpaceOnUse" x="0" y="0" width="487" height="1067"><path fill="#000" fill-opacity="0.32" d="M0 0h3v1067h-3zM13 0h2v1067h-2zM23 0h2v1067h-2zM25 0h1v1067h-1zM39 0h3v1067h-3zM44 0h2v1067h-2zM47 0h1v1067h-1zM68 0h1v1067h-1zM72 0h2v1067h-2zM95 0h2v1067h-2zM124 0h3v1067h-3zM132 0h1v1067h-1zM138 0h2v1067h-2zM140 0h3v1067h-3zM150 0h3v1067h-3zM162 0h3v1067h-3zM171 0h2v1067h-2zM176 0h1v1067h-1zM177 0h2v1067h-2zM193 0h3v1067h-3zM201 0h1v1067h-1zM204 0h2v1067h-2zM213 0h1v1067h-1zM249 0h3v1067h-3zM270 0h2v1067h-2zM290 0h2v1067h-2zM295 0h2v1067h-2zM297 0h1v1067h-1zM302 0h1v1067h-1zM311 0h2v1067h-2zM313 0h2v1067h-2zM326 0h1v1067h-1zM328 0h1v1067h-1zM337 0h1v1067h-1zM363 0h1v1067h-1zM364 0h2v1067h-2zM369 0h1v1067h-1zM383 0h1v1067h-1zM384 0h1v1067h-1zM389 0h3v1067h-3zM396 0h1v1067h-1zM401 0h1v1067h-1zM402 0h2v1067h-2zM419 0h2v1067h-2zM426 0h2v1067h-2zM450 0h2v1067h-2zM460 0h1v1067h-1zM463 0h1v1067h-1zM467 0h2v1067h-2zM479 0h1v1067h-1zM486 0h1v1067h-1z"/><path fill="#000" fill-opacity="0.16" d="M9 0h1v1067h-1zM10 0h2v1067h-2zM15 0h3v1067h-3zM18 0h1v1067h-1zM19 0h3v1067h-3zM32 0h1v1067h-1zM36 0h1v1067h-1zM46 0h1v1067h-1zM53 0h1v1067h-1zM74 0h1v1067h-1zM75 0h1v1067h-1zM78 0h1v1067h-1zM87 0h3v1067h-3zM90 0h3v1067h-3zM93 0h1v1067h-1zM94 0h1v1067h-1zM97 0h3v1067h-3zM106 0h1v1067h-1zM109 0h1v1067h-1zM119 0h1v1067h-1zM127 0h1v1067h-1zM130 0h2v1067h-2zM145 0h1v1067h-1zM146 0h1v1067h-1zM167 0h1v1067h-1zM168 0h1v1067h-1zM173 0h2v1067h-2zM175 0h1v1067h-1zM179 0h2v1067h-2zM186 0h1v1067h-1zM189 0h1v1067h-1zM231 0h2v1067h-2zM235 0h1v1067h-1zM236 0h2v1067h-2zM240 0h1v1067h-1zM247 0h2v1067h-2zM252 0h2v1067h-2zM256 0h1v1067h-1zM282 0h2v1067h-2zM289 0h1v1067h-1zM299 0h1v1067h-1zM308 0h3v1067h-3zM318 0h1v1067h-1zM319 0h2v1067h-2zM322 0h2v1067h-2zM333 0h2v1067h-2zM338 0h1v1067h-1zM349 0h1v1067h-1zM350 0h2v1067h-2zM352 0h1v1067h-1zM355 0h2v1067h-2zM361 0h2v1067h-2zM366 0h2v1067h-2zM368 0h1v1067h-1zM370 0h3v1067h-3zM392 0h1v1067h-1zM393 0h2v1067h-2zM395 0h1v1067h-1zM404 0h2v1067h-2zM414 0h2v1067h-2zM418 0h1v1067h-1zM424 0h2v1067h-2zM449 0h1v1067h-1zM456 0h2v1067h-2zM469 0h1v1067h-1zM470 0h2v1067h-2zM473 0h2v1067h-2zM481 0h2v1067h-2z"/></pattern><pattern id="l9" patternUnits="userSpaceOnUse" x="0" y="0" width="487" height="1067"><path fill="#212121" d="M6 0h1v1067h-1zM7 0h2v1067h-2zM12 0h1v1067h-1zM31 0h1v1067h-1zM37 0h1v1067h-1zM38 0h1v1067h-1zM52 0h1v1067h-1zM71 0h1v1067h-1zM76 0h2v1067h-2zM79 0h2v1067h-2zM100 0h3v1067h-3zM114 0h2v1067h-2zM116 0h2v1067h-2zM118 0h1v1067h-1zM136 0h2v1067h-2zM157 0h2v1067h-2zM169 0h2v1067h-2zM190 0h3v1067h-3zM198 0h2v1067h-2zM206 0h2v1067h-2zM214 0h2v1067h-2zM226 0h3v1067h-3zM241 0h3v1067h-3zM244 0h2v1067h-2zM246 0h1v1067h-1zM257 0h2v1067h-2zM264 0h3v1067h-3zM274 0h2v1067h-2zM284 0h1v1067h-1zM285 0h1v1067h-1zM292 0h1v1067h-1zM298 0h1v1067h-1zM315 0h1v1067h-1zM316 0h2v1067h-2zM324 0h1v1067h-1zM331 0h2v1067h-2zM342 0h1v1067h-1zM353 0h1v1067h-1zM357 0h1v1067h-1zM359 0h2v1067h-2zM376 0h1v1067h-1zM379 0h2v1067h-2zM381 0h1v1067h-1zM382 0h1v1067h-1zM428 0h2v1067h-2zM430 0h1v1067h-1zM434 0h3v1067h-3zM445 0h2v1067h-2zM455 0h1v1067h-1zM458 0h2v1067h-2zM461 0h2v1067h-2zM475 0h3v1067h-3zM478 0h1v1067h-1z"/><path fill="#404040" d="M3 0h1v1067h-1zM48 0h2v1067h-2zM50 0h1v1067h-1zM58 0h1v1067h-1zM61 0h2v1067h-2zM63 0h2v1067h-2zM67 0h1v1067h-1zM104 0h2v1067h-2zM110 0h1v1067h-1zM122 0h1v1067h-1zM123 0h1v1067h-1zM135 0h1v1067h-1zM155 0h2v1067h-2zM160 0h2v1067h-2zM181 0h2v1067h-2zM183 0h3v1067h-3zM208 0h1v1067h-1zM212 0h1v1067h-1zM219 0h2v1067h-2zM221 0h1v1067h-1zM233 0h2v1067h-2zM238 0h1v1067h-1zM239 0h1v1067h-1zM254 0h2v1067h-2zM277 0h2v1067h-2zM279 0h1v1067h-1zM294 0h1v1067h-1zM305 0h1v1067h-1zM335 0h2v1067h-2zM339 0h3v1067h-3zM385 0h3v1067h-3zM400 0h1v1067h-1zM406 0h1v1067h-1zM407 0h1v1067h-1zM408 0h1v1067h-1zM413 0h1v1067h-1zM422 0h2v1067h-2zM441 0h2v1067h-2zM483 0h2v1067h-2z"/></pattern><pattern id="d10" patternUnits="userSpaceOnUse" x="0" y="0" width="499" height="1067"><path fill="#000" fill-opacity="0.32" d="M2 0h2v1067h-2zM10 0h2v1067h-2zM20 0h1v1067h-1zM42 0h1v1067h-1zM49 0h2v1067h-2zM52 0h2v1067h-2zM58 0h1v1067h-1zM60 0h1v1067h-1zM72 0h1v1067h-1zM92 0h1v1067h-1zM105 0h3v1067h-3zM110 0h1v1067h-1zM111 0h2v1067h-2zM117 0h1v1067h-1zM127 0h2v1067h-2zM135 0h2v1067h-2zM147 0h3v1067h-3zM167 0h1v1067h-1zM182 0h2v1067h-2zM184 0h2v1067h-2zM206 0h3v1067h-3zM217 0h1v1067h-1zM220 0h1v1067h-1zM225 0h1v1067h-1zM228 0h1v1067h-1zM232 0h2v1067h-2zM249 0h2v1067h-2zM256 0h2v1067h-2zM290 0h1v1067h-1zM320 0h1v1067h-1zM336 0h1v1067h-1zM345 0h1v1067h-1zM351 0h2v1067h-2zM369 0h1v1067h-1zM370 0h1v1067h-1zM372 0h2v1067h-2zM376 0h1v1067h-1zM377 0h3v1067h-3zM388 0h1v1067h-1zM393 0h1v1067h-1zM396 0h1v1067h-1zM430 0h3v1067h-3zM433 0h1v1067h-1zM438 0h1v1067h-1zM439 0h2v1067h-2zM452 0h2v1067h-2zM465 0h1v1067h-1zM466 0h1v1067h-1zM467 0h3v1067h-3zM485 0h1v1067h-1zM494 0h1v1067h-1z"/><path fill="#000" fill-opacity="0.16" d="M6 0h1v1067h-1zM15 0h2v1067h-2zM17 0h3v1067h-3zM25 0h1v1067h-1zM34 0h1v1067h-1zM35 0h2v1067h-2zM37 0h3v1067h-3zM54 0h2v1067h-2zM59 0h1v1067h-1zM61 0h2v1067h-2zM69 0h3v1067h-3zM73 0h1v1067h-1zM86 0h1v1067h-1zM87 0h2v1067h-2zM89 0h2v1067h-2zM93 0h1v1067h-1zM98 0h1v1067h-1zM102 0h1v1067h-1zM137 0h1v1067h-1zM138 0h2v1067h-2zM140 0h1v1067h-1zM144 0h1v1067h-1zM164 0h1v1067h-1zM168 0h1v1067h-1zM175 0h1v1067h-1zM176 0h2v1067h-2zM212 0h3v1067h-3zM234 0h1v1067h-1zM235 0h1v1067h-1zM238 0h3v1067h-3zM246 0h2v1067h-2zM258 0h1v1067h-1zM263 0h3v1067h-3zM267 0h2v1067h-2zM273 0h1v1067h-1zM275 0h1v1067h-1zM276 0h2v1067h-2zM283 0h1v1067h-1zM284 0h3v1067h-3zM300 0h2v1067h-2zM302 0h1v1067h-1zM306 0h1v1067h-1zM309 0h1v1067h-1zM312 0h1v1067h-1zM316 0h1v1067h-1zM317 0h3v1067h-3zM329 0h1v1067h-1zM340 0h2v1067h-2zM342 0h3v1067h-3zM354 0h1v1067h-1zM355 0h3v1067h-3zM358 0h3v1067h-3zM363 0h2v1067h-2zM365 0h1v1067h-1zM371 0h1v1067h-1zM374 0h2v1067h-2zM383 0h1v1067h-1zM386 0h1v1067h-1zM387 0h1v1067h-1zM394 0h2v1067h-2zM402 0h2v1067h-2zM405 0h2v1067h-2zM418 0h2v1067h-2zM422 0h1v1067h-1zM426 0h2v1067h-2zM436 0h2v1067h-2zM445 0h2v1067h-2zM449 0h1v1067h-1zM454 0h2v1067h-2zM456 0h1v1067h-1zM461 0h2v1067h-2zM473 0h2v1067h-2zM478 0h1v1067h-1zM479 0h1v1067h-1zM480 0h1v1067h-1zM486 0h2v1067h-2zM489 0h3v1067h-3z"/></pattern><pattern id="l10" patternUnits="userSpaceOnUse" x="0" y="0" width="499" height="1067"><path fill="#212121" d="M9 0h1v1067h-1zM13 0h2v1067h-2zM26 0h2v1067h-2zM33 0h1v1067h-1zM51 0h1v1067h-1zM63 0h1v1067h-1zM64 0h1v1067h-1zM65 0h1v1067h-1zM77 0h2v1067h-2zM80 0h3v1067h-3zM99 0h1v1067h-1zM103 0h2v1067h-2zM113 0h1v1067h-1zM114 0h1v1067h-1zM115 0h2v1067h-2zM124 0h1v1067h-1zM130 0h1v1067h-1zM131 0h1v1067h-1zM132 0h3v1067h-3zM145 0h1v1067h-1zM150 0h1v1067h-1zM153 0h2v1067h-2zM158 0h1v1067h-1zM162 0h2v1067h-2zM172 0h2v1067h-2zM178 0h1v1067h-1zM179 0h1v1067h-1zM180 0h2v1067h-2zM186 0h2v1067h-2zM190 0h1v1067h-1zM191 0h1v1067h-1zM200 0h3v1067h-3zM203 0h2v1067h-2zM215 0h2v1067h-2zM221 0h1v1067h-1zM222 0h1v1067h-1zM223 0h2v1067h-2zM226 0h2v1067h-2zM231 0h1v1067h-1zM248 0h1v1067h-1zM252 0h2v1067h-2zM254 0h1v1067h-1zM255 0h1v1067h-1zM259 0h1v1067h-1zM269 0h1v1067h-1zM270 0h2v1067h-2zM278 0h1v1067h-1zM289 0h1v1067h-1zM291 0h1v1067h-1zM296 0h2v1067h-2zM307 0h2v1067h-2zM311 0h1v1067h-1zM315 0h1v1067h-1zM324 0h1v1067h-1zM333 0h1v1067h-1zM361 0h2v1067h-2zM389 0h2v1067h-2zM397 0h2v1067h-2zM399 0h1v1067h-1zM400 0h2v1067h-2zM412 0h3v1067h-3zM435 0h1v1067h-1zM443 0h2v1067h-2zM459 0h1v1067h-1zM460 0h1v1067h-1zM470 0h2v1067h-2zM472 0h1v1067h-1zM475 0h3v1067h-3z"/><path fill="#404040" d="M7 0h2v1067h-2zM28 0h3v1067h-3zM56 0h2v1067h-2zM91 0h1v1067h-1zM101 0h1v1067h-1zM118 0h3v1067h-3zM141 0h1v1067h-1zM143 0h1v1067h-1zM146 0h1v1067h-1zM156 0h2v1067h-2zM159 0h1v1067h-1zM165 0h2v1067h-2zM188 0h2v1067h-2zM193 0h1v1067h-1zM210 0h2v1067h-2zM218 0h1v1067h-1zM219 0h1v1067h-1zM229 0h2v1067h-2zM241 0h3v1067h-3zM260 0h3v1067h-3zM266 0h1v1067h-1zM272 0h1v1067h-1zM279 0h1v1067h-1zM288 0h1v1067h-1zM298 0h2v1067h-2zM303 0h3v1067h-3zM321 0h3v1067h-3zM330 0h1v1067h-1zM339 0h1v1067h-1zM353 0h1v1067h-1zM368 0h1v1067h-1zM380 0h3v1067h-3zM392 0h1v1067h-1zM407 0h2v1067h-2zM409 0h1v1067h-1zM428 0h1v1067h-1zM434 0h1v1067h-1zM447 0h2v1067h-2zM450 0h2v1067h-2zM463 0h2v1067h-2z"/></pattern><pattern id="d11" patternUnits="userSpaceOnUse" x="0" y="0" width="509" height="1067"><path fill="#000" fill-opacity="0.32" d="M0 0h2v1067h-2zM5 0h1v1067h-1zM9 0h1v1067h-1zM22 0h2v1067h-2zM52 0h2v1067h-2zM57 0h1v1067h-1zM59 0h2v1067h-2zM69 0h1v1067h-1zM72 0h2v1067h-2zM107 0h1v1067h-1zM108 0h1v1067h-1zM109 0h1v1067h-1zM121 0h2v1067h-2zM157 0h2v1067h-2zM159 0h3v1067h-3zM163 0h2v1067h-2zM171 0h3v1067h-3zM186 0h2v1067h-2zM191 0h2v1067h-2zM197 0h2v1067h-2zM211 0h3v1067h-3zM227 0h2v1067h-2zM229 0h2v1067h-2zM240 0h3v1067h-3zM250 0h2v1067h-2zM254 0h2v1067h-2zM259 0h1v1067h-1zM260 0h1v1067h-1zM273 0h2v1067h-2zM275 0h1v1067h-1zM288 0h1v1067h-1zM305 0h2v1067h-2zM326 0h3v1067h-3zM342 0h2v1067h-2zM344 0h3v1067h-3zM402 0h1v1067h-1zM416 0h3v1067h-3zM421 0h3v1067h-3zM441 0h1v1067h-1zM442 0h3v1067h-3zM466 0h1v1067h-1zM467 0h3v1067h-3zM471 0h1v1067h-1zM472 0h2v1067h-2zM476 0h1v1067h-1zM492 0h2v1067h-2z"/><path fill="#000" fill-opacity="0.16" d="M28 0h2v1067h-2zM33 0h1v1067h-1zM34 0h1v1067h-1zM58 0h1v1067h-1zM65 0h1v1067h-1zM66 0h1v1067h-1zM74 0h2v1067h-2zM82 0h2v1067h-2zM90 0h3v1067h-3zM93 0h1v1067h-1zM95 0h1v1067h-1zM100 0h1v1067h-1zM101 0h1v1067h-1zM106 0h1v1067h-1zM116 0h3v1067h-3zM129 0h1v1067h-1zM132 0h1v1067h-1zM140 0h1v1067h-1zM141 0h1v1067h-1zM143 0h2v1067h-2zM147 0h1v1067h-1zM153 0h1v1067h-1zM155 0h2v1067h-2zM167 0h1v1067h-1zM170 0h1v1067h-1zM181 0h3v1067h-3zM184 0h2v1067h-2zM194 0h3v1067h-3zM202 0h1v1067h-1zM207 0h3v1067h-3zM210 0h1v1067h-1zM214 0h1v1067h-1zM233 0h2v1067h-2zM235 0h2v1067h-2zM237 0h3v1067h-3zM246 0h2v1067h-2zM248 0h1v1067h-1zM249 0h1v1067h-1zM257 0h1v1067h-1zM263 0h1v1067h-1zM264 0h2v1067h-2zM268 0h3v1067h-3zM271 0h2v1067h-2zM277 0h2v1067h-2zM286 0h2v1067h-2zM291 0h1v1067h-1zM300 0h3v1067h-3zM311 0h2v1067h-2zM313 0h2v1067h-2zM315 0h1v1067h-1zM329 0h1v1067h-1zM332 0h1v1067h-1zM333 0h3v1067h-3zM336 0h2v1067h-2zM347 0h1v1067h-1zM356 0h1v1067h-1zM357 0h2v1067h-2zM360 0h2v1067h-2zM369 0h3v1067h-3zM382 0h1v1067h-1zM391 0h2v1067h-2zM393 0h2v1067h-2zM396 0h2v1067h-2zM406 0h1v1067h-1zM407 0h2v1067h-2zM427 0h2v1067h-2zM440 0h1v1067h-1zM446 0h1v1067h-1zM453 0h3v1067h-3zM460 0h1v1067h-1zM465 0h1v1067h-1zM477 0h2v1067h-2zM491 0h1v1067h-1zM503 0h1v1067h-1zM506 0h3v1067h-3z"/></pattern><pattern id="l11" patternUnits="userSpaceOnUse" x="0" y="0" width="509" height="1067"><path fill="#212121" d="M2 0h3v1067h-3zM6 0h1v1067h-1zM7 0h1v1067h-1zM12 0h2v1067h-2zM19 0h3v1067h-3zM27 0h1v1067h-1zM30 0h3v1067h-3zM36 0h2v1067h-2zM38 0h2v1067h-2zM41 0h1v1067h-1zM77 0h2v1067h-2zM79 0h1v1067h-1zM89 0h1v1067h-1zM94 0h1v1067h-1zM102 0h1v1067h-1zM105 0h1v1067h-1zM114 0h1v1067h-1zM130 0h1v1067h-1zM131 0h1v1067h-1zM133 0h2v1067h-2zM136 0h2v1067h-2zM175 0h2v1067h-2zM189 0h1v1067h-1zM199 0h2v1067h-2zM206 0h1v1067h-1zM258 0h1v1067h-1zM262 0h1v1067h-1zM279 0h3v1067h-3zM284 0h2v1067h-2zM295 0h3v1067h-3zM323 0h2v1067h-2zM340 0h2v1067h-2zM351 0h3v1067h-3zM362 0h3v1067h-3zM375 0h1v1067h-1zM395 0h1v1067h-1zM398 0h3v1067h-3zM403 0h2v1067h-2zM410 0h2v1067h-2zM429 0h1v1067h-1zM430 0h2v1067h-2zM435 0h3v1067h-3zM439 0h1v1067h-1zM456 0h2v1067h-2zM459 0h1v1067h-1zM474 0h2v1067h-2zM479 0h1v1067h-1zM480 0h1v1067h-1zM481 0h2v1067h-2zM483 0h2v1067h-2zM486 0h2v1067h-2zM488 0h2v1067h-2zM490 0h1v1067h-1zM500 0h1v1067h-1z"/><path fill="#404040" d="M8 0h1v1067h-1zM40 0h1v1067h-1zM42 0h3v1067h-3zM47 0h2v1067h-2zM49 0h1v1067h-1zM67 0h1v1067h-1zM70 0h2v1067h-2zM113 0h1v1067h-1zM135 0h1v1067h-1zM154 0h1v1067h-1zM162 0h1v1067h-1zM177 0h2v1067h-2zM179 0h2v1067h-2zM188 0h1v1067h-1zM298 0h2v1067h-2zM316 0h1v1067h-1zM317 0h3v1067h-3zM359 0h1v1067h-1zM368 0h1v1067h-1zM377 0h1v1067h-1zM380 0h1v1067h-1zM381 0h1v1067h-1zM401 0h1v1067h-1zM409 0h1v1067h-1zM412 0h1v1067h-1zM413 0h3v1067h-3zM419 0h2v1067h-2zM432 0h3v1067h-3zM445 0h1v1067h-1zM449 0h2v1067h-2zM451 0h2v1067h-2zM470 0h1v1067h-1zM485 0h1v1067h-1zM495 0h3v1067h-3zM498 0h2v1067h-2zM502 0h1v1067h-1zM504 0h1v1067h-1zM505 0h1v1067h-1z"/></pattern><pattern id="d12" patternUnits="userSpaceOnUse" x="0" y="0" width="523" height="1067"><path fill="#000" fill-opacity="0.32" d="M6 0h1v1067h-1zM15 0h1v1067h-1zM29 0h1v1067h-1zM32 0h1v1067h-1zM51 0h3v1067h-3zM54 0h1v1067h-1zM58 0h1v1067h-1zM61 0h1v1067h-1zM64 0h2v1067h-2zM70 0h2v1067h-2zM81 0h2v1067h-2zM87 0h1v1067h-1zM88 0h1v1067h-1zM92 0h1v1067h-1zM98 0h1v1067h-1zM101 0h1v1067h-1zM106 0h3v1067h-3zM120 0h1v1067h-1zM135 0h2v1067h-2zM142 0h1v1067h-1zM146 0h1v1067h-1zM159 0h3v1067h-3zM162 0h3v1067h-3zM169 0h1v1067h-1zM173 0h1v1067h-1zM183 0h2v1067h-2zM190 0h2v1067h-2zM192 0h3v1067h-3zM209 0h1v1067h-1zM214 0h1v1067h-1zM222 0h2v1067h-2zM237 0h2v1067h-2zM252 0h1v1067h-1zM255 0h2v1067h-2zM259 0h1v1067h-1zM274 0h1v1067h-1zM286 0h2v1067h-2zM294 0h1v1067h-1zM301 0h1v1067h-1zM324 0h1v1067h-1zM340 0h1v1067h-1zM343 0h2v1067h-2zM354 0h2v1067h-2zM360 0h3v1067h-3zM363 0h1v1067h-1zM376 0h1v1067h-1zM379 0h2v1067h-2zM383 0h1v1067h-1zM384 0h1v1067h-1zM392 0h1v1067h-1zM393 0h1v1067h-1zM401 0h2v1067h-2zM410 0h1v1067h-1zM412 0h3v1067h-3zM423 0h2v1067h-2zM425 0h1v1067h-1zM434 0h3v1067h-3zM444 0h1v1067h-1zM452 0h2v1067h-2zM454 0h2v1067h-2zM466 0h2v1067h-2zM473 0h1v1067h-1zM481 0h1v1067h-1zM491 0h1v1067h-1zM492 0h1v1067h-1zM507 0h1v1067h-1zM512 0h2v1067h-2z"/><path fill="#000" fill-opacity="0.16" d="M0 0h2v1067h-2zM7 0h1v1067h-1zM8 0h2v1067h-2zM16 0h1v1067h-1zM17 0h1v1067h-1zM21 0h2v1067h-2zM23 0h1v1067h-1zM36 0h2v1067h-2zM67 0h2v1067h-2zM72 0h2v1067h-2zM77 0h1v1067h-1zM78 0h1v1067h-1zM83 0h2v1067h-2zM85 0h1v1067h-1zM94 0h1v1067h-1zM99 0h1v1067h-1zM100 0h1v1067h-1zM103 0h3v1067h-3zM115 0h1v1067h-1zM127 0h1v1067h-1zM131 0h1v1067h-1zM143 0h1v1067h-1zM151 0h3v1067h-3zM154 0h2v1067h-2zM156 0h2v1067h-2zM167 0h1v1067h-1zM168 0h1v1067h-1zM171 0h2v1067h-2zM174 0h2v1067h-2zM176 0h3v1067h-3zM185 0h1v1067h-1zM197 0h3v1067h-3zM200 0h2v1067h-2zM202 0h2v1067h-2zM212 0h2v1067h-2zM215 0h2v1067h-2zM226 0h3v1067h-3zM232 0h1v1067h-1zM241 0h2v1067h-2zM244 0h3v1067h-3zM247 0h2v1067h-2zM250 0h2v1067h-2zM258 0h1v1067h-1zM261 0h1v1067h-1zM267 0h3v1067h-3zM275 0h2v1067h-2zM281 0h3v1067h-3zM284 0h2v1067h-2zM290 0h2v1067h-2zM299 0h2v1067h-2zM306 0h2v1067h-2zM308 0h3v1067h-3zM313 0h2v1067h-2zM318 0h3v1067h-3zM322 0h1v1067h-1zM323 0h1v1067h-1zM328 0h1v1067h-1zM334 0h2v1067h-2zM349 0h1v1067h-1zM350 0h1v1067h-1zM352 0h1v1067h-1zM353 0h1v1067h-1zM364 0h2v1067h-2zM369 0h1v1067h-1zM370 0h1v1067h-1zM372 0h2v1067h-2zM385 0h1v1067h-1zM391 0h1v1067h-1zM395 0h2v1067h-2zM399 0h1v1067h-1zM418 0h1v1067h-1zM419 0h2v1067h-2zM428 0h1v1067h-1zM429 0h1v1067h-1zM438 0h1v1067h-1zM440 0h2v1067h-2zM443 0h1v1067h-1zM445 0h1v1067h-1zM458 0h2v1067h-2zM462 0h2v1067h-2zM465 0h1v1067h-1zM478 0h1v1067h-1zM482 0h3v1067h-3zM490 0h1v1067h-1zM497 0h1v1067h-1zM498 0h2v1067h-2zM501 0h1v1067h-1zM503 0h2v1067h-2zM514 0h1v1067h-1zM517 0h2v1067h-2zM520 0h3v1067h-3z"/></pattern><pattern id="l12" patternUnits="userSpaceOnUse" x="0" y="0" width="523" height="1067"><path fill="#212121" d="M10 0h2v1067h-2zM12 0h3v1067h-3zM20 0h1v1067h-1zM25 0h2v1067h-2zM27 0h2v1067h-2zM38 0h1v1067h-1zM56 0h1v1067h-1zM66 0h1v1067h-1zM69 0h1v1067h-1zM79 0h2v1067h-2zM93 0h1v1067h-1zM102 0h1v1067h-1zM109 0h1v1067h-1zM119 0h1v1067h-1zM122 0h2v1067h-2zM129 0h2v1067h-2zM132 0h3v1067h-3zM137 0h1v1067h-1zM138 0h1v1067h-1zM140 0h2v1067h-2zM147 0h3v1067h-3zM170 0h1v1067h-1zM195 0h1v1067h-1zM204 0h1v1067h-1zM219 0h3v1067h-3zM233 0h1v1067h-1zM240 0h1v1067h-1zM243 0h1v1067h-1zM249 0h1v1067h-1zM254 0h1v1067h-1zM257 0h1v1067h-1zM260 0h1v1067h-1zM271 0h1v1067h-1zM272 0h2v1067h-2zM288 0h1v1067h-1zM295 0h1v1067h-1zM297 0h1v1067h-1zM302 0h3v1067h-3zM311 0h2v1067h-2zM315 0h1v1067h-1zM316 0h1v1067h-1zM321 0h1v1067h-1zM325 0h3v1067h-3zM337 0h2v1067h-2zM339 0h1v1067h-1zM341 0h2v1067h-2zM359 0h1v1067h-1zM371 0h1v1067h-1zM374 0h1v1067h-1zM375 0h1v1067h-1zM377 0h1v1067h-1zM381 0h2v1067h-2zM394 0h1v1067h-1zM397 0h2v1067h-2zM400 0h1v1067h-1zM403 0h1v1067h-1zM409 0h1v1067h-1zM411 0h1v1067h-1zM421 0h2v1067h-2zM442 0h1v1067h-1zM450 0h2v1067h-2zM468 0h1v1067h-1zM469 0h1v1067h-1zM471 0h2v1067h-2zM474 0h1v1067h-1zM489 0h1v1067h-1zM505 0h2v1067h-2zM508 0h1v1067h-1zM510 0h2v1067h-2zM515 0h2v1067h-2z"/><path fill="#404040" d="M4 0h1v1067h-1zM5 0h1v1067h-1zM19 0h1v1067h-1zM39 0h1v1067h-1zM89 0h2v1067h-2zM91 0h1v1067h-1zM95 0h1v1067h-1zM96 0h2v1067h-2zM111 0h1v1067h-1zM121 0h1v1067h-1zM124 0h3v1067h-3zM139 0h1v1067h-1zM145 0h1v1067h-1zM150 0h1v1067h-1zM158 0h1v1067h-1zM180 0h1v1067h-1zM186 0h2v1067h-2zM207 0h2v1067h-2zM224 0h2v1067h-2zM234 0h3v1067h-3zM253 0h1v1067h-1zM279 0h2v1067h-2zM289 0h1v1067h-1zM292 0h1v1067h-1zM298 0h1v1067h-1zM329 0h1v1067h-1zM336 0h1v1067h-1zM345 0h2v1067h-2zM351 0h1v1067h-1zM404 0h3v1067h-3zM415 0h3v1067h-3zM430 0h2v1067h-2zM437 0h1v1067h-1zM446 0h1v1067h-1zM449 0h1v1067h-1zM456 0h2v1067h-2zM460 0h2v1067h-2zM475 0h3v1067h-3zM479 0h1v1067h-1zM493 0h2v1067h-2zM500 0h1v1067h-1zM502 0h1v1067h-1z"/></pattern><pattern id="d13" patternUnits="userSpaceOnUse" x="0" y="0" width="541" height="1067"><path fill="#000" fill-opacity="0.32" d="M0 0h2v1067h-2zM17 0h2v1067h-2zM40 0h1v1067h-1zM41 0h1v1067h-1zM42 0h2v1067h-2zM55 0h3v1067h-3zM71 0h2v1067h-2zM76 0h3v1067h-3zM82 0h2v1067h-2zM101 0h3v1067h-3zM109 0h1v1067h-1zM119 0h1v1067h-1zM127 0h3v1067h-3zM133 0h1v1067h-1zM150 0h1v1067h-1zM161 0h2v1067h-2zM177 0h1v1067h-1zM178 0h1v1067h-1zM197 0h2v1067h-2zM210 0h1v1067h-1zM221 0h1v1067h-1zM228 0h3v1067h-3zM235 0h2v1067h-2zM246 0h3v1067h-3zM249 0h1v1067h-1zM260 0h2v1067h-2zM266 0h2v1067h-2zM270 0h2v1067h-2zM273 0h2v1067h-2zM282 0h3v1067h-3zM286 0h1v1067h-1zM295 0h3v1067h-3zM303 0h3v1067h-3zM307 0h1v1067h-1zM327 0h2v1067h-2zM330 0h1v1067h-1zM335 0h3v1067h-3zM342 0h2v1067h-2zM350 0h1v1067h-1zM368 0h1v1067h-1zM389 0h1v1067h-1zM413 0h3v1067h-3zM416 0h2v1067h-2zM422 0h2v1067h-2zM442 0h3v1067h-3zM456 0h2v1067h-2zM458 0h3v1067h-3zM468 0h1v1067h-1zM471 0h2v1067h-2zM479 0h2v1067h-2zM501 0h1v1067h-1zM512 0h1v1067h-1zM513 0h3v1067h-3zM528 0h1v1067h-1zM532 0h1v1067h-1zM536 0h1v1067h-1z"/><path fill="#000" fill-opacity="0.16" d="M4 0h1v1067h-1zM8 0h2v1067h-2zM11 0h3v1067h-3zM14 0h2v1067h-2zM22 0h1v1067h-1zM30 0h2v1067h-2zM35 0h3v1067h-3zM38 0h1v1067h-1zM45 0h2v1067h-2zM51 0h1v1067h-1zM53 0h1v1067h-1zM54 0h1v1067h-1zM62 0h1v1067h-1zM63 0h2v1067h-2zM65 0h3v1067h-3zM75 0h1v1067h-1zM79 0h3v1067h-3zM87 0h3v1067h-3zM92 0h3v1067h-3zM97 0h1v1067h-1zM111 0h3v1067h-3zM114 0h1v1067h-1zM117 0h1v1067h-1zM122 0h2v1067h-2zM124 0h3v1067h-3zM138 0h1v1067h-1zM145 0h2v1067h-2zM160 0h1v1067h-1zM175 0h1v1067h-1zM179 0h2v1067h-2zM181 0h1v1067h-1zM182 0h1v1067h-1zM185 0h1v1067h-1zM189 0h3v1067h-3zM192 0h3v1067h-3zM199 0h2v1067h-2zM204 0h1v1067h-1zM214 0h1v1067h-1zM217 0h1v1067h-1zM222 0h1v1067h-1zM224 0h2v1067h-2zM233 0h1v1067h-1zM234 0h1v1067h-1zM252 0h2v1067h-2zM254 0h1v1067h-1zM257 0h2v1067h-2zM259 0h1v1067h-1zM262 0h1v1067h-1zM263 0h2v1067h-2zM269 0h1v1067h-1zM275 0h2v1067h-2zM277 0h1v1067h-1zM285 0h1v1067h-1zM310 0h2v1067h-2zM319 0h1v1067h-1zM326 0h1v1067h-1zM329 0h1v1067h-1zM333 0h2v1067h-2zM339 0h3v1067h-3zM344 0h3v1067h-3zM353 0h1v1067h-1zM357 0h1v1067h-1zM358 0h2v1067h-2zM370 0h1v1067h-1zM371 0h1v1067h-1zM380 0h1v1067h-1zM387 0h1v1067h-1zM390 0h2v1067h-2zM408 0h1v1067h-1zM418 0h2v1067h-2zM434 0h3v1067h-3zM438 0h2v1067h-2zM440 0h2v1067h-2zM447 0h3v1067h-3zM453 0h1v1067h-1zM463 0h1v1067h-1zM466 0h2v1067h-2zM470 0h1v1067h-1zM476 0h2v1067h-2zM488 0h1v1067h-1zM489 0h1v1067h-1zM495 0h1v1067h-1zM499 0h1v1067h-1zM500 0h1v1067h-1zM510 0h2v1067h-2zM516 0h2v1067h-2z"/></pattern><pattern id="l13" patternUnits="userSpaceOnUse" x="0" y="0" width="541" height="1067"><path fill="#212121" d="M6 0h2v1067h-2zM23 0h1v1067h-1zM25 0h3v1067h-3zM39 0h1v1067h-1zM44 0h1v1067h-1zM52 0h1v1067h-1zM59 0h1v1067h-1zM69 0h2v1067h-2zM73 0h2v1067h-2zM90 0h2v1067h-2zM96 0h1v1067h-1zM98 0h3v1067h-3zM108 0h1v1067h-1zM115 0h2v1067h-2zM118 0h1v1067h-1zM134 0h3v1067h-3zM137 0h1v1067h-1zM141 0h1v1067h-1zM151 0h3v1067h-3zM154 0h3v1067h-3zM167 0h3v1067h-3zM171 0h1v1067h-1zM172 0h1v1067h-1zM202 0h1v1067h-1zM215 0h1v1067h-1zM218 0h1v1067h-1zM223 0h1v1067h-1zM237 0h2v1067h-2zM241 0h1v1067h-1zM244 0h1v1067h-1zM251 0h1v1067h-1zM256 0h1v1067h-1zM265 0h1v1067h-1zM287 0h1v1067h-1zM288 0h1v1067h-1zM291 0h2v1067h-2zM298 0h3v1067h-3zM301 0h2v1067h-2zM308 0h2v1067h-2zM315 0h3v1067h-3zM318 0h1v1067h-1zM322 0h3v1067h-3zM338 0h1v1067h-1zM354 0h3v1067h-3zM363 0h2v1067h-2zM365 0h1v1067h-1zM366 0h2v1067h-2zM369 0h1v1067h-1zM372 0h2v1067h-2zM378 0h2v1067h-2zM381 0h1v1067h-1zM382 0h2v1067h-2zM384 0h3v1067h-3zM400 0h2v1067h-2zM424 0h1v1067h-1zM425 0h1v1067h-1zM426 0h3v1067h-3zM429 0h1v1067h-1zM450 0h3v1067h-3zM461 0h2v1067h-2zM464 0h2v1067h-2zM478 0h1v1067h-1zM481 0h3v1067h-3zM504 0h1v1067h-1zM505 0h2v1067h-2zM507 0h1v1067h-1zM508 0h1v1067h-1zM509 0h1v1067h-1zM518 0h1v1067h-1zM519 0h2v1067h-2zM531 0h1v1067h-1zM533 0h2v1067h-2zM535 0h1v1067h-1z"/><path fill="#404040" d="M5 0h1v1067h-1zM24 0h1v1067h-1zM28 0h1v1067h-1zM29 0h1v1067h-1zM47 0h1v1067h-1zM60 0h2v1067h-2zM68 0h1v1067h-1zM95 0h1v1067h-1zM104 0h2v1067h-2zM106 0h2v1067h-2zM110 0h1v1067h-1zM120 0h2v1067h-2zM147 0h3v1067h-3zM163 0h3v1067h-3zM195 0h2v1067h-2zM203 0h1v1067h-1zM208 0h2v1067h-2zM211 0h3v1067h-3zM250 0h1v1067h-1zM255 0h1v1067h-1zM272 0h1v1067h-1zM289 0h2v1067h-2zM306 0h1v1067h-1zM347 0h3v1067h-3zM360 0h2v1067h-2zM362 0h1v1067h-1zM388 0h1v1067h-1zM393 0h2v1067h-2zM395 0h3v1067h-3zM409 0h3v1067h-3zM430 0h2v1067h-2zM454 0h2v1067h-2zM484 0h3v1067h-3zM494 0h1v1067h-1zM524 0h1v1067h-1zM539 0h1v1067h-1z"/></pattern><pattern id="d14" patternUnits="userSpaceOnUse" x="0" y="0" width="557" height="1067"><path fill="#000" fill-opacity="0.32" d="M19 0h3v1067h-3zM22 0h2v1067h-2zM32 0h3v1067h-3zM106 0h3v1067h-3zM114 0h3v1067h-3zM121 0h2v1067h-2zM138 0h1v1067h-1zM157 0h1v1067h-1zM158 0h1v1067h-1zM166 0h1v1067h-1zM167 0h1v1067h-1zM183 0h1v1067h-1zM202 0h1v1067h-1zM207 0h2v1067h-2zM212 0h2v1067h-2zM234 0h1v1067h-1zM259 0h1v1067h-1zM272 0h2v1067h-2zM278 0h2v1067h-2zM284 0h1v1067h-1zM300 0h1v1067h-1zM310 0h1v1067h-1zM312 0h2v1067h-2zM323 0h1v1067h-1zM333 0h1v1067h-1zM343 0h2v1067h-2zM358 0h2v1067h-2zM361 0h2v1067h-2zM368 0h1v1067h-1zM373 0h2v1067h-2zM380 0h1v1067h-1zM382 0h1v1067h-1zM392 0h2v1067h-2zM395 0h2v1067h-2zM397 0h3v1067h-3zM463 0h1v1067h-1zM480 0h3v1067h-3zM485 0h2v1067h-2zM499 0h1v1067h-1zM503 0h1v1067h-1zM513 0h3v1067h-3zM520 0h2v1067h-2zM552 0h1v1067h-1z"/><path fill="#000" fill-opacity="0.16" d="M7 0h2v1067h-2zM24 0h1v1067h-1zM35 0h3v1067h-3zM39 0h2v1067h-2zM41 0h2v1067h-2zM43 0h1v1067h-1zM52 0h1v1067h-1zM58 0h3v1067h-3zM61 0h3v1067h-3zM67 0h2v1067h-2zM69 0h2v1067h-2zM74 0h1v1067h-1zM88 0h2v1067h-2zM90 0h2v1067h-2zM93 0h1v1067h-1zM109 0h3v1067h-3zM117 0h2v1067h-2zM125 0h2v1067h-2zM132 0h2v1067h-2zM135 0h1v1067h-1zM136 0h2v1067h-2zM144 0h1v1067h-1zM150 0h1v1067h-1zM159 0h3v1067h-3zM181 0h2v1067h-2zM190 0h1v1067h-1zM191 0h1v1067h-1zM196 0h3v1067h-3zM209 0h3v1067h-3zM216 0h2v1067h-2zM218 0h1v1067h-1zM220 0h2v1067h-2zM225 0h1v1067h-1zM226 0h1v1067h-1zM227 0h2v1067h-2zM235 0h1v1067h-1zM236 0h3v1067h-3zM243 0h1v1067h-1zM250 0h1v1067h-1zM252 0h2v1067h-2zM257 0h2v1067h-2zM266 0h2v1067h-2zM268 0h1v1067h-1zM288 0h3v1067h-3zM293 0h3v1067h-3zM296 0h2v1067h-2zM311 0h1v1067h-1zM314 0h1v1067h-1zM315 0h1v1067h-1zM318 0h1v1067h-1zM325 0h1v1067h-1zM337 0h2v1067h-2zM339 0h2v1067h-2zM341 0h2v1067h-2zM345 0h1v1067h-1zM356 0h1v1067h-1zM357 0h1v1067h-1zM371 0h2v1067h-2zM381 0h1v1067h-1zM385 0h1v1067h-1zM389 0h1v1067h-1zM390 0h2v1067h-2zM394 0h1v1067h-1zM405 0h3v1067h-3zM414 0h2v1067h-2zM416 0h2v1067h-2zM426 0h3v1067h-3zM429 0h2v1067h-2zM434 0h2v1067h-2zM447 0h2v1067h-2zM457 0h3v1067h-3zM460 0h3v1067h-3zM479 0h1v1067h-1zM483 0h2v1067h-2zM488 0h3v1067h-3zM491 0h2v1067h-2zM498 0h1v1067h-1zM502 0h1v1067h-1zM507 0h2v1067h-2zM516 0h2v1067h-2zM530 0h1v1067h-1zM535 0h2v1067h-2zM540 0h3v1067h-3zM550 0h2v1067h-2zM556 0h1v1067h-1z"/></pattern><pattern id="l14" patternUnits="userSpaceOnUse" x="0" y="0" width="557" height="1067"><path fill="#212121" d="M0 0h1v1067h-1zM5 0h2v1067h-2zM13 0h1v1067h-1zM16 0h3v1067h-3zM45 0h2v1067h-2zM47 0h1v1067h-1zM48 0h1v1067h-1zM64 0h2v1067h-2zM66 0h1v1067h-1zM71 0h1v1067h-1zM77 0h3v1067h-3zM80 0h3v1067h-3zM99 0h1v1067h-1zM102 0h2v1067h-2zM104 0h2v1067h-2zM119 0h2v1067h-2zM134 0h1v1067h-1zM162 0h1v1067h-1zM168 0h1v1067h-1zM171 0h2v1067h-2zM189 0h1v1067h-1zM192 0h2v1067h-2zM199 0h1v1067h-1zM206 0h1v1067h-1zM214 0h2v1067h-2zM219 0h1v1067h-1zM222 0h1v1067h-1zM223 0h2v1067h-2zM229 0h1v1067h-1zM230 0h2v1067h-2zM233 0h1v1067h-1zM241 0h2v1067h-2zM245 0h2v1067h-2zM251 0h1v1067h-1zM261 0h1v1067h-1zM262 0h1v1067h-1zM263 0h3v1067h-3zM274 0h1v1067h-1zM277 0h1v1067h-1zM280 0h3v1067h-3zM285 0h1v1067h-1zM286 0h2v1067h-2zM301 0h1v1067h-1zM307 0h3v1067h-3zM319 0h2v1067h-2zM350 0h1v1067h-1zM366 0h2v1067h-2zM369 0h1v1067h-1zM375 0h2v1067h-2zM383 0h2v1067h-2zM402 0h1v1067h-1zM420 0h3v1067h-3zM439 0h2v1067h-2zM445 0h2v1067h-2zM454 0h1v1067h-1zM464 0h2v1067h-2zM466 0h2v1067h-2zM475 0h3v1067h-3zM493 0h1v1067h-1zM500 0h2v1067h-2zM509 0h1v1067h-1zM510 0h2v1067h-2zM522 0h3v1067h-3zM525 0h3v1067h-3zM534 0h1v1067h-1zM538 0h2v1067h-2zM543 0h2v1067h-2zM545 0h1v1067h-1zM553 0h3v1067h-3z"/><path fill="#404040" d="M1 0h2v1067h-2zM3 0h2v1067h-2zM11 0h1v1067h-1zM14 0h2v1067h-2zM30 0h2v1067h-2zM38 0h1v1067h-1zM56 0h2v1067h-2zM72 0h2v1067h-2zM75 0h1v1067h-1zM86 0h1v1067h-1zM92 0h1v1067h-1zM94 0h3v1067h-3zM97 0h2v1067h-2zM123 0h1v1067h-1zM124 0h1v1067h-1zM130 0h2v1067h-2zM141 0h3v1067h-3zM151 0h2v1067h-2zM153 0h3v1067h-3zM163 0h3v1067h-3zM174 0h3v1067h-3zM200 0h1v1067h-1zM232 0h1v1067h-1zM239 0h2v1067h-2zM260 0h1v1067h-1zM276 0h1v1067h-1zM304 0h2v1067h-2zM316 0h1v1067h-1zM317 0h1v1067h-1zM324 0h1v1067h-1zM330 0h3v1067h-3zM334 0h1v1067h-1zM336 0h1v1067h-1zM351 0h3v1067h-3zM379 0h1v1067h-1zM387 0h2v1067h-2zM431 0h2v1067h-2zM433 0h1v1067h-1zM441 0h2v1067h-2zM452 0h2v1067h-2zM468 0h1v1067h-1zM473 0h2v1067h-2zM478 0h1v1067h-1zM497 0h1v1067h-1zM518 0h2v1067h-2zM528 0h1v1067h-1zM531 0h1v1067h-1zM546 0h1v1067h-1z"/></pattern></defs><filter id="hb" x="0" y="0" width="1" height="1" filterUnits="objectBoundingBox" color-interpolation-filters="sRGB"><feGaussianBlur stdDeviation="0.6 0"/></filter><g filter="url(#hb)"><path fill="#000078" d="M102.0 51.1h1674.0v10.3h-1674.0zM102.0 61.4h1674.0v10.3h-1674.0zM102.0 71.6h1674.0v10.3h-1674.0zM102.0 81.9h1674.0v10.3h-1674.0zM102.0 92.2h578.0v10.3h-578.0zM764.0 92.2h78.0v10.3h-78.0zM903.0 92.2h52.0v10.3h-52.0zM980.0 92.2h45.0v10.3h-45.0zM1071.0 92.2h52.0v10.3h-52.0zM1152.0 92.2h72.0v10.3h-72.0zM1322.0 92.2h200.0v10.3h-200.0zM1554.0 92.2h27.0v10.3h-27.0zM1608.0 92.2h108.0v10.3h-108.0zM1743.0 92.2h33.0v10.3h-33.0zM102.0 102.4h1674.0v10.3h-1674.0zM102.0 112.7h1674.0v10.3h-1674.0zM102.0 123.0h853.0v10.3h-853.0zM1201.0 123.0h575.0v10.3h-575.0zM102.0 133.3h1519.0v10.3h-1519.0zM1692.0 133.3h84.0v10.3h-84.0zM102.0 143.5h1674.0v10.3h-1674.0zM102.0 153.8h1674.0v10.3h-1674.0zM102.0 164.1h1674.0v10.3h-1674.0zM102.0 174.3h1513.0v10.3h-1513.0zM1711.0 174.3h65.0v10.3h-65.0zM102.0 184.6h1674.0v10.3h-1674.0zM102.0 194.9h1674.0v10.3h-1674.0zM102.0 205.1h17.0v10.3h-17.0zM160.0 205.1h20.0v10.3h-20.0zM200.0 205.1h131.0v10.3h-131.0zM365.0 205.1h76.0v10.3h-76.0zM461.0 205.1h12.0v10.3h-12.0zM499.0 205.1h32.0v10.3h-32.0zM545.0 205.1h1231.0v10.3h-1231.0zM348.0 215.4h99.0v10.3h-99.0zM464.0 215.4h6.0v10.3h-6.0zM502.0 215.4h8.0v10.3h-8.0zM513.0 215.4h18.0v10.3h-18.0zM548.0 215.4h20.0v10.3h-20.0zM580.0 215.4h8.0v10.3h-8.0zM635.0 215.4h9.0v10.3h-9.0zM692.0 215.4h6.0v10.3h-6.0zM718.0 215.4h3.0v10.3h-3.0zM102.0 225.7h81.0v10.3h-81.0zM206.0 225.7h188.0v10.3h-188.0zM420.0 225.7h29.0v10.3h-29.0zM507.0 225.7h24.0v10.3h-24.0zM580.0 225.7h14.0v10.3h-14.0zM632.0 225.7h14.0v10.3h-14.0zM805.0 225.7h971.0v10.3h-971.0zM102.0 235.9h206.0v10.3h-206.0zM334.0 235.9h40.0v10.3h-40.0zM392.0 235.9h355.0v10.3h-355.0zM796.0 235.9h980.0v10.3h-980.0zM102.0 246.2h1507.0v10.3h-1507.0zM1623.0 246.2h24.0v10.3h-24.0zM1658.0 246.2h118.0v10.3h-118.0zM102.0 256.5h180.0v10.3h-180.0zM296.0 256.5h1203.0v10.3h-1203.0zM1519.0 256.5h90.0v10.3h-90.0zM1623.0 256.5h24.0v10.3h-24.0zM1661.0 256.5h63.0v10.3h-63.0zM1726.0 256.5h50.0v10.3h-50.0zM102.0 266.7h81.0v10.3h-81.0zM192.0 266.7h58.0v10.3h-58.0zM258.0 266.7h128.0v10.3h-128.0zM394.0 266.7h18.0v10.3h-18.0zM420.0 266.7h24.0v10.3h-24.0zM452.0 266.7h81.0v10.3h-81.0zM539.0 266.7h44.0v10.3h-44.0zM588.0 266.7h72.0v10.3h-72.0zM727.0 266.7h144.0v10.3h-144.0zM906.0 266.7h26.0v10.3h-26.0zM947.0 266.7h8.0v10.3h-8.0zM993.0 266.7h38.0v10.3h-38.0zM1054.0 266.7h14.0v10.3h-14.0zM1080.0 266.7h32.0v10.3h-32.0zM1152.0 266.7h26.0v10.3h-26.0zM1190.0 266.7h239.0v10.3h-239.0zM1435.0 266.7h212.0v10.3h-212.0zM1658.0 266.7h118.0v10.3h-118.0zM102.0 277.0h651.0v10.3h-651.0zM782.0 277.0h462.0v10.3h-462.0zM1267.0 277.0h128.0v10.3h-128.0zM1397.0 277.0h53.0v10.3h-53.0zM1453.0 277.0h9.0v10.3h-9.0zM1473.0 277.0h17.0v10.3h-17.0zM1493.0 277.0h283.0v10.3h-283.0zM102.0 287.3h1674.0v10.3h-1674.0zM102.0 297.6h1674.0v10.3h-1674.0zM102.0 307.8h1674.0v10.3h-1674.0zM102.0 318.1h1674.0v10.3h-1674.0zM655.0 328.4h98.0v10.3h-98.0zM102.0 338.6h838.0v10.3h-838.0zM102.0 348.9h1674.0v10.3h-1674.0zM102.0 359.2h1674.0v10.3h-1674.0zM102.0 369.4h1674.0v10.3h-1674.0zM102.0 379.7h1674.0v10.3h-1674.0zM102.0 390.0h1674.0v10.3h-1674.0zM102.0 400.2h1674.0v10.3h-1674.0zM102.0 410.5h1674.0v10.3h-1674.0zM102.0 420.8h1674.0v10.3h-1674.0zM102.0 431.0h1674.0v10.3h-1674.0zM102.0 441.3h1674.0v10.3h-1674.0zM102.0 451.6h1674.0v10.3h-1674.0zM102.0 461.9h1674.0v10.3h-1674.0zM102.0 472.1h1674.0v10.3h-1674.0zM102.0 492.7h1674.0v10.3h-1674.0zM102.0 513.2h1674.0v10.3h-1674.0zM102.0 523.5h1674.0v10.3h-1674.0zM102.0 533.7h1674.0v10.3h-1674.0zM102.0 554.3h1674.0v10.3h-1674.0zM102.0 574.8h1674.0v10.3h-1674.0zM102.0 585.1h1674.0v10.3h-1674.0zM102.0 595.4h1674.0v10.3h-1674.0zM102.0 605.6h1674.0v10.3h-1674.0zM102.0 636.4h1674.0v10.3h-1674.0zM102.0 646.7h1674.0v10.3h-1674.0zM102.0 657.0h1674.0v10.3h-1674.0zM102.0 728.8h4.0v10.3h-4.0zM102.0 739.1h2.0v10.3h-2.0zM648.0 739.1h94.0v10.3h-94.0zM1434.0 749.4h292.0v10.3h-292.0zM1766.0 749.4h10.0v10.3h-10.0zM940.0 769.9h22.0v10.3h-22.0zM965.0 769.9h22.0v10.3h-22.0zM990.0 769.9h18.0v10.3h-18.0zM1011.0 769.9h27.0v10.3h-27.0zM1040.0 769.9h25.0v10.3h-25.0zM1069.0 769.9h29.0v10.3h-29.0zM1100.0 769.9h10.0v10.3h-10.0zM1120.0 769.9h25.0v10.3h-25.0zM1149.0 769.9h20.0v10.3h-20.0zM1172.0 769.9h24.0v10.3h-24.0zM1199.0 769.9h18.0v10.3h-18.0zM1219.0 769.9h20.0v10.3h-20.0zM1242.0 769.9h24.0v10.3h-24.0zM1270.0 769.9h30.0v10.3h-30.0zM1303.0 769.9h14.0v10.3h-14.0zM1321.0 769.9h20.0v10.3h-20.0zM1344.0 769.9h17.0v10.3h-17.0zM1365.0 769.9h18.0v10.3h-18.0zM1388.0 769.9h280.0v10.3h-280.0zM1669.0 769.9h4.0v10.3h-4.0zM1675.0 769.9h22.0v10.3h-22.0zM1699.0 769.9h25.0v10.3h-25.0zM1726.0 769.9h46.0v10.3h-46.0zM160.0 780.2h20.0v10.3h-20.0zM547.0 780.2h7.0v10.3h-7.0zM636.0 780.2h8.0v10.3h-8.0zM732.0 780.2h10.0v10.3h-10.0zM1151.0 831.5h16.0v10.3h-16.0zM548.0 841.8h8.0v10.3h-8.0zM836.0 841.8h8.0v10.3h-8.0zM859.0 841.8h6.0v10.3h-6.0zM1028.0 841.8h2.0v10.3h-2.0zM1040.0 841.8h2.0v10.3h-2.0zM1087.0 841.8h8.0v10.3h-8.0zM1102.0 841.8h6.0v10.3h-6.0zM1116.0 841.8h6.0v10.3h-6.0zM521.0 852.1h78.0v10.3h-78.0zM617.0 852.1h129.0v10.3h-129.0zM777.0 852.1h117.0v10.3h-117.0zM648.0 862.3h20.0v10.3h-20.0zM762.0 862.3h118.0v10.3h-118.0zM1339.0 862.3h4.0v10.3h-4.0zM853.0 872.6h128.0v10.3h-128.0zM1008.0 872.6h73.0v10.3h-73.0zM1108.0 872.6h43.0v10.3h-43.0zM1162.0 872.6h44.0v10.3h-44.0zM1449.0 872.6h57.0v10.3h-57.0zM1542.0 872.6h58.0v10.3h-58.0zM1631.0 872.6h42.0v10.3h-42.0zM1703.0 872.6h14.0v10.3h-14.0zM102.0 882.9h1674.0v10.3h-1674.0zM102.0 913.7h1674.0v10.3h-1674.0zM102.0 924.0h632.0v10.3h-632.0zM740.0 924.0h905.0v10.3h-905.0zM1660.0 924.0h116.0v10.3h-116.0zM102.0 934.2h248.0v10.3h-248.0zM603.0 934.2h1173.0v10.3h-1173.0z"/><path fill="#0000a5" d="M680.0 92.2h84.0v10.3h-84.0zM1224.0 92.2h98.0v10.3h-98.0zM1522.0 92.2h32.0v10.3h-32.0zM119.0 205.1h41.0v10.3h-41.0zM180.0 205.1h20.0v10.3h-20.0zM111.0 615.9h9.0v10.3h-9.0zM185.0 615.9h8.0v10.3h-8.0zM232.0 615.9h4.0v10.3h-4.0zM315.0 615.9h6.0v10.3h-6.0zM400.0 615.9h3.0v10.3h-3.0zM408.0 615.9h9.0v10.3h-9.0zM485.0 615.9h8.0v10.3h-8.0zM502.0 615.9h7.0v10.3h-7.0zM512.0 615.9h4.0v10.3h-4.0zM668.0 615.9h8.0v10.3h-8.0zM719.0 615.9h3.0v10.3h-3.0zM818.0 615.9h9.0v10.3h-9.0zM828.0 615.9h3.0v10.3h-3.0zM932.0 615.9h8.0v10.3h-8.0zM1061.0 615.9h7.0v10.3h-7.0zM1116.0 615.9h9.0v10.3h-9.0zM1248.0 615.9h6.0v10.3h-6.0zM1360.0 615.9h10.0v10.3h-10.0zM1434.0 615.9h9.0v10.3h-9.0zM1453.0 615.9h7.0v10.3h-7.0zM1470.0 615.9h6.0v10.3h-6.0zM1508.0 615.9h9.0v10.3h-9.0zM1521.0 615.9h3.0v10.3h-3.0zM1613.0 615.9h2.0v10.3h-2.0zM1641.0 615.9h9.0v10.3h-9.0zM1658.0 615.9h10.0v10.3h-10.0zM1695.0 615.9h7.0v10.3h-7.0zM1716.0 615.9h5.0v10.3h-5.0zM1751.0 615.9h7.0v10.3h-7.0zM1769.0 615.9h7.0v10.3h-7.0zM149.0 626.2h9.0v10.3h-9.0zM185.0 626.2h8.0v10.3h-8.0zM232.0 626.2h4.0v10.3h-4.0zM445.0 626.2h9.0v10.3h-9.0zM466.0 626.2h10.0v10.3h-10.0zM512.0 626.2h4.0v10.3h-4.0zM522.0 626.2h7.0v10.3h-7.0zM578.0 626.2h7.0v10.3h-7.0zM594.0 626.2h6.0v10.3h-6.0zM614.0 626.2h9.0v10.3h-9.0zM633.0 626.2h9.0v10.3h-9.0zM719.0 626.2h3.0v10.3h-3.0zM725.0 626.2h6.0v10.3h-6.0zM764.0 626.2h9.0v10.3h-9.0zM828.0 626.2h3.0v10.3h-3.0zM1267.0 626.2h9.0v10.3h-9.0zM1303.0 626.2h8.0v10.3h-8.0zM1453.0 626.2h2.0v10.3h-2.0zM1528.0 626.2h8.0v10.3h-8.0zM1658.0 626.2h10.0v10.3h-10.0zM1676.0 626.2h8.0v10.3h-8.0zM1716.0 626.2h5.0v10.3h-5.0zM1751.0 626.2h7.0v10.3h-7.0zM1145.0 749.4h26.0v10.3h-26.0zM102.0 800.7h29.0v10.3h-29.0zM168.0 800.7h15.0v10.3h-15.0zM217.0 800.7h8.0v10.3h-8.0zM234.0 800.7h6.0v10.3h-6.0zM257.0 800.7h6.0v10.3h-6.0zM301.0 800.7h11.0v10.3h-11.0zM361.0 800.7h13.0v10.3h-13.0zM391.0 800.7h14.0v10.3h-14.0zM425.0 800.7h21.0v10.3h-21.0zM500.0 800.7h21.0v10.3h-21.0zM536.0 800.7h8.0v10.3h-8.0zM565.0 800.7h13.0v10.3h-13.0zM621.0 800.7h28.0v10.3h-28.0zM695.0 800.7h14.0v10.3h-14.0zM757.0 800.7h11.0v10.3h-11.0zM804.0 800.7h17.0v10.3h-17.0zM858.0 800.7h12.0v10.3h-12.0zM889.0 800.7h22.0v10.3h-22.0zM938.0 800.7h14.0v10.3h-14.0zM1023.0 800.7h9.0v10.3h-9.0zM1049.0 800.7h12.0v10.3h-12.0zM1150.0 800.7h6.0v10.3h-6.0zM1163.0 800.7h11.0v10.3h-11.0zM1188.0 800.7h13.0v10.3h-13.0zM1218.0 800.7h5.0v10.3h-5.0zM1272.0 800.7h11.0v10.3h-11.0zM1296.0 800.7h6.0v10.3h-6.0zM1350.0 800.7h19.0v10.3h-19.0zM1434.0 800.7h14.0v10.3h-14.0zM1475.0 800.7h17.0v10.3h-17.0zM1504.0 800.7h5.0v10.3h-5.0zM1530.0 800.7h13.0v10.3h-13.0zM1629.0 800.7h12.0v10.3h-12.0zM1647.0 800.7h12.0v10.3h-12.0zM1716.0 800.7h19.0v10.3h-19.0zM1754.0 800.7h12.0v10.3h-12.0zM1775.0 800.7h1.0v10.3h-1.0zM605.0 872.6h77.0v10.3h-77.0zM1645.0 924.0h15.0v10.3h-15.0zM184.0 944.5h26.0v10.3h-26.0zM348.0 944.5h51.0v10.3h-51.0z"/><path fill="#00004b" d="M842.0 92.2h61.0v10.3h-61.0zM102.0 215.4h133.0v10.3h-133.0zM805.0 215.4h971.0v10.3h-971.0zM660.0 266.7h67.0v10.3h-67.0zM102.0 759.7h62.0v10.3h-62.0zM168.0 759.7h17.0v10.3h-17.0zM188.0 759.7h45.0v10.3h-45.0zM237.0 759.7h28.0v10.3h-28.0zM269.0 759.7h25.0v10.3h-25.0zM298.0 759.7h24.0v10.3h-24.0zM326.0 759.7h26.0v10.3h-26.0zM355.0 759.7h71.0v10.3h-71.0zM430.0 759.7h25.0v10.3h-25.0zM457.0 759.7h30.0v10.3h-30.0zM490.0 759.7h30.0v10.3h-30.0zM523.0 759.7h28.0v10.3h-28.0zM580.0 759.7h1.0v10.3h-1.0zM583.0 759.7h20.0v10.3h-20.0zM606.0 759.7h16.0v10.3h-16.0zM626.0 759.7h20.0v10.3h-20.0zM650.0 759.7h22.0v10.3h-22.0zM676.0 759.7h26.0v10.3h-26.0zM705.0 759.7h24.0v10.3h-24.0zM733.0 759.7h145.0v10.3h-145.0zM881.0 759.7h51.0v10.3h-51.0zM939.0 759.7h21.0v10.3h-21.0zM990.0 759.7h18.0v10.3h-18.0zM1011.0 759.7h27.0v10.3h-27.0zM1040.0 759.7h25.0v10.3h-25.0zM1069.0 759.7h29.0v10.3h-29.0zM1100.0 759.7h10.0v10.3h-10.0zM1120.0 759.7h12.0v10.3h-12.0zM1149.0 759.7h20.0v10.3h-20.0zM1172.0 759.7h24.0v10.3h-24.0zM1199.0 759.7h18.0v10.3h-18.0zM1219.0 759.7h20.0v10.3h-20.0zM1242.0 759.7h24.0v10.3h-24.0zM1270.0 759.7h30.0v10.3h-30.0zM1303.0 759.7h14.0v10.3h-14.0zM1321.0 759.7h20.0v10.3h-20.0zM1344.0 759.7h17.0v10.3h-17.0zM1365.0 759.7h18.0v10.3h-18.0zM1388.0 759.7h157.0v10.3h-157.0zM1547.0 759.7h101.0v10.3h-101.0zM1685.0 759.7h12.0v10.3h-12.0zM1699.0 759.7h25.0v10.3h-25.0zM1726.0 759.7h46.0v10.3h-46.0zM102.0 769.9h62.0v10.3h-62.0zM168.0 769.9h17.0v10.3h-17.0zM188.0 769.9h45.0v10.3h-45.0zM237.0 769.9h28.0v10.3h-28.0zM269.0 769.9h25.0v10.3h-25.0zM298.0 769.9h24.0v10.3h-24.0zM326.0 769.9h26.0v10.3h-26.0zM355.0 769.9h71.0v10.3h-71.0zM430.0 769.9h25.0v10.3h-25.0zM457.0 769.9h30.0v10.3h-30.0zM490.0 769.9h30.0v10.3h-30.0zM523.0 769.9h28.0v10.3h-28.0zM562.0 769.9h19.0v10.3h-19.0zM583.0 769.9h20.0v10.3h-20.0zM606.0 769.9h16.0v10.3h-16.0zM626.0 769.9h20.0v10.3h-20.0zM650.0 769.9h22.0v10.3h-22.0zM676.0 769.9h26.0v10.3h-26.0zM705.0 769.9h24.0v10.3h-24.0zM733.0 769.9h145.0v10.3h-145.0zM881.0 769.9h51.0v10.3h-51.0zM939.0 769.9h1.0v10.3h-1.0zM756.0 780.2h56.0v10.3h-56.0zM1730.0 780.2h46.0v10.3h-46.0zM102.0 811.0h90.0v10.3h-90.0zM196.0 811.0h12.0v10.3h-12.0zM215.0 811.0h173.0v10.3h-173.0zM390.0 811.0h6.0v10.3h-6.0zM398.0 811.0h508.0v10.3h-508.0zM910.0 811.0h30.0v10.3h-30.0zM1001.0 811.0h27.0v10.3h-27.0zM1165.0 811.0h123.0v10.3h-123.0zM1317.0 811.0h12.0v10.3h-12.0zM1357.0 811.0h43.0v10.3h-43.0zM1403.0 811.0h1.0v10.3h-1.0zM1431.0 811.0h56.0v10.3h-56.0zM1493.0 811.0h86.0v10.3h-86.0zM1624.0 811.0h16.0v10.3h-16.0zM1660.0 811.0h110.0v10.3h-110.0zM307.0 852.1h69.0v10.3h-69.0z"/><path fill="#000096" d="M955.0 92.2h25.0v10.3h-25.0zM1025.0 92.2h46.0v10.3h-46.0zM1123.0 92.2h29.0v10.3h-29.0zM1581.0 92.2h27.0v10.3h-27.0zM1716.0 92.2h27.0v10.3h-27.0zM743.0 225.7h62.0v10.3h-62.0zM912.0 780.2h92.0v10.3h-92.0zM1306.0 821.3h23.0v10.3h-23.0zM836.0 831.5h45.0v10.3h-45.0zM1190.0 841.8h4.0v10.3h-4.0zM1602.0 852.1h66.0v10.3h-66.0zM136.0 893.1h3.0v10.3h-3.0zM149.0 893.1h22.0v10.3h-22.0zM194.0 893.1h58.0v10.3h-58.0zM294.0 893.1h27.0v10.3h-27.0zM359.0 893.1h5.0v10.3h-5.0zM382.0 893.1h13.0v10.3h-13.0zM407.0 893.1h6.0v10.3h-6.0zM481.0 893.1h10.0v10.3h-10.0zM504.0 893.1h3.0v10.3h-3.0zM586.0 893.1h6.0v10.3h-6.0zM618.0 893.1h16.0v10.3h-16.0zM657.0 893.1h25.0v10.3h-25.0zM735.0 893.1h11.0v10.3h-11.0zM811.0 893.1h26.0v10.3h-26.0zM867.0 893.1h13.0v10.3h-13.0zM890.0 893.1h15.0v10.3h-15.0zM913.0 893.1h10.0v10.3h-10.0zM949.0 893.1h3.0v10.3h-3.0zM1023.0 893.1h14.0v10.3h-14.0zM1054.0 893.1h11.0v10.3h-11.0zM1103.0 893.1h13.0v10.3h-13.0zM1145.0 893.1h33.0v10.3h-33.0zM1366.0 893.1h13.0v10.3h-13.0zM1396.0 893.1h7.0v10.3h-7.0zM1412.0 893.1h20.0v10.3h-20.0zM1477.0 893.1h5.0v10.3h-5.0zM1510.0 893.1h26.0v10.3h-26.0zM1574.0 893.1h16.0v10.3h-16.0zM1615.0 893.1h9.0v10.3h-9.0zM1689.0 893.1h17.0v10.3h-17.0zM1712.0 893.1h17.0v10.3h-17.0zM1743.0 893.1h16.0v10.3h-16.0zM135.0 903.4h4.0v10.3h-4.0zM259.0 903.4h15.0v10.3h-15.0zM282.0 903.4h7.0v10.3h-7.0zM385.0 903.4h14.0v10.3h-14.0zM458.0 903.4h9.0v10.3h-9.0zM521.0 903.4h1.0v10.3h-1.0zM532.0 903.4h21.0v10.3h-21.0zM570.0 903.4h4.0v10.3h-4.0zM588.0 903.4h4.0v10.3h-4.0zM625.0 903.4h50.0v10.3h-50.0zM695.0 903.4h12.0v10.3h-12.0zM734.0 903.4h14.0v10.3h-14.0zM797.0 903.4h7.0v10.3h-7.0zM839.0 903.4h14.0v10.3h-14.0zM863.0 903.4h22.0v10.3h-22.0zM923.0 903.4h29.0v10.3h-29.0zM962.0 903.4h13.0v10.3h-13.0zM1006.0 903.4h8.0v10.3h-8.0zM1037.0 903.4h21.0v10.3h-21.0zM1114.0 903.4h35.0v10.3h-35.0zM1164.0 903.4h12.0v10.3h-12.0zM1237.0 903.4h23.0v10.3h-23.0zM1270.0 903.4h7.0v10.3h-7.0zM1288.0 903.4h6.0v10.3h-6.0zM1302.0 903.4h3.0v10.3h-3.0zM1431.0 903.4h10.0v10.3h-10.0zM1572.0 903.4h16.0v10.3h-16.0zM1638.0 903.4h19.0v10.3h-19.0zM1677.0 903.4h27.0v10.3h-27.0zM350.0 934.2h45.0v10.3h-45.0zM401.0 934.2h202.0v10.3h-202.0z"/><path fill="#00001e" d="M955.0 123.0h246.0v10.3h-246.0zM446.0 780.2h45.0v10.3h-45.0zM118.0 841.8h4.0v10.3h-4.0zM282.0 841.8h6.0v10.3h-6.0zM397.0 841.8h12.0v10.3h-12.0zM419.0 841.8h9.0v10.3h-9.0zM477.0 841.8h26.0v10.3h-26.0zM1404.0 862.3h5.0v10.3h-5.0zM1599.0 862.3h4.0v10.3h-4.0zM1665.0 862.3h8.0v10.3h-8.0zM1772.0 862.3h4.0v10.3h-4.0zM102.0 872.6h27.0v10.3h-27.0zM215.0 872.6h20.0v10.3h-20.0zM539.0 872.6h33.0v10.3h-33.0zM682.0 872.6h27.0v10.3h-27.0zM834.0 872.6h19.0v10.3h-19.0zM981.0 872.6h27.0v10.3h-27.0zM1600.0 872.6h7.0v10.3h-7.0zM1621.0 872.6h10.0v10.3h-10.0zM1717.0 872.6h9.0v10.3h-9.0z"/><path fill="#00005a" d="M1621.0 133.3h71.0v10.3h-71.0zM1615.0 174.3h96.0v10.3h-96.0zM753.0 328.4h1023.0v10.3h-1023.0zM113.0 482.4h12.0v10.3h-12.0zM150.0 482.4h7.0v10.3h-7.0zM199.0 482.4h17.0v10.3h-17.0zM241.0 482.4h47.0v10.3h-47.0zM345.0 482.4h8.0v10.3h-8.0zM389.0 482.4h43.0v10.3h-43.0zM475.0 482.4h10.0v10.3h-10.0zM492.0 482.4h10.0v10.3h-10.0zM525.0 482.4h9.0v10.3h-9.0zM562.0 482.4h5.0v10.3h-5.0zM644.0 482.4h12.0v10.3h-12.0zM682.0 482.4h12.0v10.3h-12.0zM721.0 482.4h8.0v10.3h-8.0zM848.0 482.4h6.0v10.3h-6.0zM861.0 482.4h13.0v10.3h-13.0zM912.0 482.4h10.0v10.3h-10.0zM940.0 482.4h11.0v10.3h-11.0zM977.0 482.4h26.0v10.3h-26.0zM1053.0 482.4h20.0v10.3h-20.0zM1086.0 482.4h12.0v10.3h-12.0zM1143.0 482.4h13.0v10.3h-13.0zM1167.0 482.4h10.0v10.3h-10.0zM1221.0 482.4h17.0v10.3h-17.0zM1249.0 482.4h8.0v10.3h-8.0zM1299.0 482.4h7.0v10.3h-7.0zM1320.0 482.4h10.0v10.3h-10.0zM1336.0 482.4h25.0v10.3h-25.0zM1369.0 482.4h10.0v10.3h-10.0zM1431.0 482.4h12.0v10.3h-12.0zM1462.0 482.4h6.0v10.3h-6.0zM1517.0 482.4h11.0v10.3h-11.0zM1613.0 482.4h14.0v10.3h-14.0zM1638.0 482.4h14.0v10.3h-14.0zM1657.0 482.4h6.0v10.3h-6.0zM1674.0 482.4h46.0v10.3h-46.0zM1765.0 482.4h7.0v10.3h-7.0zM102.0 544.0h6.0v10.3h-6.0zM162.0 544.0h19.0v10.3h-19.0zM223.0 544.0h11.0v10.3h-11.0zM289.0 544.0h19.0v10.3h-19.0zM406.0 544.0h11.0v10.3h-11.0zM458.0 544.0h12.0v10.3h-12.0zM480.0 544.0h13.0v10.3h-13.0zM502.0 544.0h20.0v10.3h-20.0zM704.0 544.0h16.0v10.3h-16.0zM759.0 544.0h8.0v10.3h-8.0zM780.0 544.0h12.0v10.3h-12.0zM804.0 544.0h10.0v10.3h-10.0zM944.0 544.0h7.0v10.3h-7.0zM960.0 544.0h12.0v10.3h-12.0zM1033.0 544.0h9.0v10.3h-9.0zM1051.0 544.0h52.0v10.3h-52.0zM1125.0 544.0h13.0v10.3h-13.0zM1151.0 544.0h11.0v10.3h-11.0zM1173.0 544.0h12.0v10.3h-12.0zM1295.0 544.0h14.0v10.3h-14.0zM1317.0 544.0h14.0v10.3h-14.0zM1361.0 544.0h8.0v10.3h-8.0zM1381.0 544.0h53.0v10.3h-53.0zM1444.0 544.0h6.0v10.3h-6.0zM1522.0 544.0h23.0v10.3h-23.0zM1554.0 544.0h40.0v10.3h-40.0zM1613.0 544.0h10.0v10.3h-10.0zM1670.0 544.0h5.0v10.3h-5.0zM1697.0 544.0h16.0v10.3h-16.0zM1764.0 544.0h10.0v10.3h-10.0zM108.0 564.5h13.0v10.3h-13.0zM131.0 564.5h8.0v10.3h-8.0zM165.0 564.5h20.0v10.3h-20.0zM210.0 564.5h13.0v10.3h-13.0zM240.0 564.5h9.0v10.3h-9.0zM257.0 564.5h12.0v10.3h-12.0zM281.0 564.5h25.0v10.3h-25.0zM315.0 564.5h21.0v10.3h-21.0zM351.0 564.5h7.0v10.3h-7.0zM406.0 564.5h7.0v10.3h-7.0zM422.0 564.5h14.0v10.3h-14.0zM453.0 564.5h25.0v10.3h-25.0zM483.0 564.5h14.0v10.3h-14.0zM536.0 564.5h14.0v10.3h-14.0zM575.0 564.5h14.0v10.3h-14.0zM651.0 564.5h6.0v10.3h-6.0zM680.0 564.5h7.0v10.3h-7.0zM714.0 564.5h7.0v10.3h-7.0zM745.0 564.5h10.0v10.3h-10.0zM764.0 564.5h56.0v10.3h-56.0zM831.0 564.5h13.0v10.3h-13.0zM865.0 564.5h8.0v10.3h-8.0zM878.0 564.5h14.0v10.3h-14.0zM897.0 564.5h21.0v10.3h-21.0zM944.0 564.5h21.0v10.3h-21.0zM996.0 564.5h11.0v10.3h-11.0zM1044.0 564.5h5.0v10.3h-5.0zM1073.0 564.5h6.0v10.3h-6.0zM1108.0 564.5h18.0v10.3h-18.0zM1150.0 564.5h8.0v10.3h-8.0zM1172.0 564.5h6.0v10.3h-6.0zM1220.0 564.5h6.0v10.3h-6.0zM1246.0 564.5h33.0v10.3h-33.0zM1289.0 564.5h9.0v10.3h-9.0zM1307.0 564.5h6.0v10.3h-6.0zM1387.0 564.5h13.0v10.3h-13.0zM1421.0 564.5h16.0v10.3h-16.0zM1462.0 564.5h26.0v10.3h-26.0zM1518.0 564.5h8.0v10.3h-8.0zM1532.0 564.5h24.0v10.3h-24.0zM1567.0 564.5h19.0v10.3h-19.0zM1595.0 564.5h13.0v10.3h-13.0zM1642.0 564.5h11.0v10.3h-11.0zM1665.0 564.5h20.0v10.3h-20.0zM1749.0 564.5h9.0v10.3h-9.0zM1769.0 564.5h7.0v10.3h-7.0zM450.0 728.8h71.0v10.3h-71.0zM564.0 728.8h182.0v10.3h-182.0zM692.0 749.4h222.0v10.3h-222.0zM920.0 749.4h208.0v10.3h-208.0zM321.0 780.2h33.0v10.3h-33.0zM828.0 780.2h20.0v10.3h-20.0zM1227.0 780.2h12.0v10.3h-12.0zM1652.0 780.2h4.0v10.3h-4.0zM1695.0 780.2h10.0v10.3h-10.0zM102.0 821.3h419.0v10.3h-419.0zM599.0 821.3h341.0v10.3h-341.0zM1169.0 821.3h61.0v10.3h-61.0zM1275.0 821.3h1.0v10.3h-1.0zM1687.0 821.3h13.0v10.3h-13.0zM1710.0 821.3h14.0v10.3h-14.0zM1577.0 831.5h18.0v10.3h-18.0zM296.0 841.8h11.0v10.3h-11.0zM967.0 841.8h7.0v10.3h-7.0zM1167.0 841.8h15.0v10.3h-15.0zM880.0 862.3h60.0v10.3h-60.0zM1455.0 862.3h6.0v10.3h-6.0zM1502.0 862.3h4.0v10.3h-4.0z"/><path fill="#0000f0" d="M331.0 205.1h34.0v10.3h-34.0zM473.0 205.1h26.0v10.3h-26.0zM394.0 225.7h26.0v10.3h-26.0zM1609.0 256.5h14.0v10.3h-14.0zM444.0 266.7h8.0v10.3h-8.0zM932.0 266.7h15.0v10.3h-15.0zM1178.0 266.7h12.0v10.3h-12.0zM1244.0 277.0h23.0v10.3h-23.0zM1462.0 277.0h11.0v10.3h-11.0zM420.0 328.4h174.0v10.3h-174.0zM127.0 615.9h8.0v10.3h-8.0zM166.0 615.9h8.0v10.3h-8.0zM202.0 615.9h7.0v10.3h-7.0zM222.0 615.9h6.0v10.3h-6.0zM354.0 615.9h7.0v10.3h-7.0zM392.0 615.9h6.0v10.3h-6.0zM594.0 615.9h6.0v10.3h-6.0zM633.0 615.9h9.0v10.3h-9.0zM651.0 615.9h6.0v10.3h-6.0zM687.0 615.9h10.0v10.3h-10.0zM725.0 615.9h6.0v10.3h-6.0zM839.0 615.9h8.0v10.3h-8.0zM951.0 615.9h8.0v10.3h-8.0zM986.0 615.9h5.0v10.3h-5.0zM1042.0 615.9h7.0v10.3h-7.0zM1156.0 615.9h6.0v10.3h-6.0zM1172.0 615.9h8.0v10.3h-8.0zM1228.0 615.9h9.0v10.3h-9.0zM1323.0 615.9h9.0v10.3h-9.0zM1340.0 615.9h7.0v10.3h-7.0zM1397.0 615.9h10.0v10.3h-10.0zM1565.0 615.9h10.0v10.3h-10.0zM1601.0 615.9h6.0v10.3h-6.0zM1734.0 615.9h8.0v10.3h-8.0zM260.0 626.2h9.0v10.3h-9.0zM279.0 626.2h6.0v10.3h-6.0zM299.0 626.2h7.0v10.3h-7.0zM315.0 626.2h6.0v10.3h-6.0zM354.0 626.2h7.0v10.3h-7.0zM668.0 626.2h8.0v10.3h-8.0zM780.0 626.2h6.0v10.3h-6.0zM802.0 626.2h10.0v10.3h-10.0zM818.0 626.2h9.0v10.3h-9.0zM839.0 626.2h8.0v10.3h-8.0zM910.0 626.2h9.0v10.3h-9.0zM986.0 626.2h5.0v10.3h-5.0zM1023.0 626.2h8.0v10.3h-8.0zM1042.0 626.2h7.0v10.3h-7.0zM1061.0 626.2h7.0v10.3h-7.0zM1172.0 626.2h8.0v10.3h-8.0zM1191.0 626.2h9.0v10.3h-9.0zM1210.0 626.2h10.0v10.3h-10.0zM1248.0 626.2h6.0v10.3h-6.0zM1287.0 626.2h8.0v10.3h-8.0zM1323.0 626.2h9.0v10.3h-9.0zM1377.0 626.2h8.0v10.3h-8.0zM1400.0 626.2h7.0v10.3h-7.0zM1417.0 626.2h6.0v10.3h-6.0zM1434.0 626.2h9.0v10.3h-9.0zM1515.0 626.2h2.0v10.3h-2.0zM1620.0 626.2h8.0v10.3h-8.0zM1734.0 626.2h8.0v10.3h-8.0zM1769.0 626.2h7.0v10.3h-7.0zM1744.0 677.5h12.0v10.3h-12.0zM1764.0 677.5h10.0v10.3h-10.0zM668.0 687.8h2.0v10.3h-2.0zM674.0 687.8h2.0v10.3h-2.0zM691.0 687.8h7.0v10.3h-7.0zM714.0 687.8h2.0v10.3h-2.0zM719.0 687.8h2.0v10.3h-2.0zM737.0 687.8h7.0v10.3h-7.0zM760.0 687.8h2.0v10.3h-2.0zM783.0 687.8h7.0v10.3h-7.0zM811.0 687.8h2.0v10.3h-2.0zM829.0 687.8h7.0v10.3h-7.0zM852.0 687.8h2.0v10.3h-2.0zM857.0 687.8h2.0v10.3h-2.0zM875.0 687.8h7.0v10.3h-7.0zM898.0 687.8h2.0v10.3h-2.0zM903.0 687.8h2.0v10.3h-2.0zM921.0 687.8h7.0v10.3h-7.0zM348.0 749.4h57.0v10.3h-57.0zM409.0 749.4h112.0v10.3h-112.0zM914.0 749.4h6.0v10.3h-6.0zM1359.0 749.4h75.0v10.3h-75.0zM395.0 780.2h51.0v10.3h-51.0zM491.0 780.2h56.0v10.3h-56.0zM595.0 780.2h41.0v10.3h-41.0zM812.0 780.2h16.0v10.3h-16.0zM1175.0 780.2h52.0v10.3h-52.0zM1593.0 780.2h17.0v10.3h-17.0zM1624.0 780.2h28.0v10.3h-28.0zM1667.0 780.2h4.0v10.3h-4.0zM1677.0 780.2h18.0v10.3h-18.0zM122.0 841.8h35.0v10.3h-35.0zM521.0 841.8h27.0v10.3h-27.0zM129.0 862.3h11.0v10.3h-11.0zM150.0 862.3h20.0v10.3h-20.0zM440.0 862.3h30.0v10.3h-30.0zM501.0 862.3h20.0v10.3h-20.0zM1081.0 872.6h27.0v10.3h-27.0zM1673.0 872.6h30.0v10.3h-30.0zM102.0 893.1h8.0v10.3h-8.0zM139.0 893.1h10.0v10.3h-10.0zM468.0 893.1h13.0v10.3h-13.0zM507.0 893.1h14.0v10.3h-14.0zM574.0 893.1h8.0v10.3h-8.0zM685.0 893.1h10.0v10.3h-10.0zM791.0 893.1h6.0v10.3h-6.0zM952.0 893.1h10.0v10.3h-10.0zM1222.0 893.1h15.0v10.3h-15.0zM1658.0 893.1h13.0v10.3h-13.0zM102.0 903.4h8.0v10.3h-8.0zM139.0 903.4h10.0v10.3h-10.0zM468.0 903.4h13.0v10.3h-13.0zM507.0 903.4h14.0v10.3h-14.0zM574.0 903.4h8.0v10.3h-8.0zM685.0 903.4h10.0v10.3h-10.0zM791.0 903.4h6.0v10.3h-6.0zM952.0 903.4h10.0v10.3h-10.0zM1222.0 903.4h15.0v10.3h-15.0zM1658.0 903.4h13.0v10.3h-13.0z"/><path fill="#0000c3" d="M441.0 205.1h20.0v10.3h-20.0zM531.0 205.1h14.0v10.3h-14.0zM660.0 225.7h83.0v10.3h-83.0zM753.0 277.0h29.0v10.3h-29.0zM102.0 687.8h13.0v10.3h-13.0zM125.0 687.8h13.0v10.3h-13.0zM148.0 687.8h13.0v10.3h-13.0zM171.0 687.8h13.0v10.3h-13.0zM194.0 687.8h13.0v10.3h-13.0zM217.0 687.8h13.0v10.3h-13.0zM240.0 687.8h13.0v10.3h-13.0zM263.0 687.8h13.0v10.3h-13.0zM286.0 687.8h13.0v10.3h-13.0zM309.0 687.8h13.0v10.3h-13.0zM332.0 687.8h12.0v10.3h-12.0zM354.0 687.8h13.0v10.3h-13.0zM377.0 687.8h13.0v10.3h-13.0zM400.0 687.8h13.0v10.3h-13.0zM423.0 687.8h13.0v10.3h-13.0zM446.0 687.8h13.0v10.3h-13.0zM469.0 687.8h13.0v10.3h-13.0zM492.0 687.8h13.0v10.3h-13.0zM515.0 687.8h13.0v10.3h-13.0zM538.0 687.8h13.0v10.3h-13.0zM561.0 687.8h13.0v10.3h-13.0zM944.0 687.8h2.0v10.3h-2.0zM949.0 687.8h1.0v10.3h-1.0zM967.0 687.8h6.0v10.3h-6.0zM990.0 687.8h6.0v10.3h-6.0zM1013.0 687.8h2.0v10.3h-2.0zM1018.0 687.8h1.0v10.3h-1.0zM1036.0 687.8h6.0v10.3h-6.0zM1059.0 687.8h6.0v10.3h-6.0zM1082.0 687.8h2.0v10.3h-2.0zM1087.0 687.8h1.0v10.3h-1.0zM1105.0 687.8h6.0v10.3h-6.0zM1128.0 687.8h6.0v10.3h-6.0zM1150.0 687.8h2.0v10.3h-2.0zM1155.0 687.8h1.0v10.3h-1.0zM1173.0 687.8h6.0v10.3h-6.0zM1196.0 687.8h6.0v10.3h-6.0zM1219.0 687.8h2.0v10.3h-2.0zM1224.0 687.8h1.0v10.3h-1.0zM1242.0 687.8h6.0v10.3h-6.0zM1265.0 687.8h6.0v10.3h-6.0zM1288.0 687.8h2.0v10.3h-2.0zM1293.0 687.8h1.0v10.3h-1.0zM1311.0 687.8h6.0v10.3h-6.0zM1334.0 687.8h6.0v10.3h-6.0zM1357.0 687.8h2.0v10.3h-2.0zM521.0 728.8h43.0v10.3h-43.0zM1726.0 749.4h40.0v10.3h-40.0zM180.0 780.2h12.0v10.3h-12.0zM1428.0 821.3h61.0v10.3h-61.0zM111.0 893.1h25.0v10.3h-25.0zM171.0 893.1h6.0v10.3h-6.0zM280.0 893.1h14.0v10.3h-14.0zM380.0 893.1h2.0v10.3h-2.0zM463.0 893.1h5.0v10.3h-5.0zM521.0 893.1h7.0v10.3h-7.0zM557.0 893.1h12.0v10.3h-12.0zM724.0 893.1h11.0v10.3h-11.0zM754.0 893.1h8.0v10.3h-8.0zM852.0 893.1h15.0v10.3h-15.0zM923.0 893.1h26.0v10.3h-26.0zM1037.0 893.1h17.0v10.3h-17.0zM1073.0 893.1h15.0v10.3h-15.0zM1178.0 893.1h16.0v10.3h-16.0zM1208.0 893.1h14.0v10.3h-14.0zM1242.0 893.1h16.0v10.3h-16.0zM1287.0 893.1h7.0v10.3h-7.0zM1302.0 893.1h5.0v10.3h-5.0zM1331.0 893.1h17.0v10.3h-17.0zM1448.0 893.1h17.0v10.3h-17.0zM1564.0 893.1h10.0v10.3h-10.0zM1598.0 893.1h17.0v10.3h-17.0zM1645.0 893.1h13.0v10.3h-13.0zM181.0 903.4h8.0v10.3h-8.0zM210.0 903.4h6.0v10.3h-6.0zM225.0 903.4h17.0v10.3h-17.0zM274.0 903.4h8.0v10.3h-8.0zM298.0 903.4h15.0v10.3h-15.0zM321.0 903.4h26.0v10.3h-26.0zM603.0 903.4h9.0v10.3h-9.0zM682.0 903.4h3.0v10.3h-3.0zM804.0 903.4h16.0v10.3h-16.0zM828.0 903.4h11.0v10.3h-11.0zM853.0 903.4h10.0v10.3h-10.0zM901.0 903.4h9.0v10.3h-9.0zM975.0 903.4h15.0v10.3h-15.0zM1014.0 903.4h16.0v10.3h-16.0zM1058.0 903.4h9.0v10.3h-9.0zM1149.0 903.4h7.0v10.3h-7.0zM1260.0 903.4h10.0v10.3h-10.0zM1305.0 903.4h17.0v10.3h-17.0zM1345.0 903.4h12.0v10.3h-12.0zM1414.0 903.4h17.0v10.3h-17.0zM1774.0 903.4h2.0v10.3h-2.0zM734.0 924.0h6.0v10.3h-6.0zM409.0 944.5h19.0v10.3h-19.0zM541.0 944.5h13.0v10.3h-13.0z"/><path fill="#000069" d="M235.0 215.4h96.0v10.3h-96.0zM940.0 338.6h836.0v10.3h-836.0zM147.0 615.9h2.0v10.3h-2.0zM158.0 615.9h5.0v10.3h-5.0zM199.0 615.9h3.0v10.3h-3.0zM403.0 615.9h5.0v10.3h-5.0zM516.0 615.9h6.0v10.3h-6.0zM553.0 615.9h5.0v10.3h-5.0zM572.0 615.9h6.0v10.3h-6.0zM586.0 615.9h8.0v10.3h-8.0zM627.0 615.9h5.0v10.3h-5.0zM649.0 615.9h2.0v10.3h-2.0zM657.0 615.9h2.0v10.3h-2.0zM664.0 615.9h4.0v10.3h-4.0zM750.0 615.9h6.0v10.3h-6.0zM792.0 615.9h8.0v10.3h-8.0zM870.0 615.9h6.0v10.3h-6.0zM1125.0 615.9h1.0v10.3h-1.0zM1301.0 615.9h2.0v10.3h-2.0zM1370.0 615.9h7.0v10.3h-7.0zM1556.0 615.9h9.0v10.3h-9.0zM1654.0 615.9h4.0v10.3h-4.0zM120.0 626.2h1.0v10.3h-1.0zM351.0 626.2h3.0v10.3h-3.0zM476.0 626.2h2.0v10.3h-2.0zM585.0 626.2h1.0v10.3h-1.0zM601.0 626.2h5.0v10.3h-5.0zM642.0 626.2h2.0v10.3h-2.0zM717.0 626.2h2.0v10.3h-2.0zM722.0 626.2h1.0v10.3h-1.0zM789.0 626.2h4.0v10.3h-4.0zM849.0 626.2h5.0v10.3h-5.0zM886.0 626.2h7.0v10.3h-7.0zM899.0 626.2h4.0v10.3h-4.0zM1011.0 626.2h9.0v10.3h-9.0zM1354.0 626.2h6.0v10.3h-6.0zM1430.0 626.2h4.0v10.3h-4.0zM1544.0 626.2h3.0v10.3h-3.0zM1747.0 626.2h4.0v10.3h-4.0zM102.0 667.2h1674.0v10.3h-1674.0zM102.0 698.0h94.0v10.3h-94.0zM198.0 698.0h1578.0v10.3h-1578.0zM102.0 708.3h1674.0v10.3h-1674.0zM102.0 718.6h1674.0v10.3h-1674.0zM808.0 728.8h897.0v10.3h-897.0zM1460.0 739.1h135.0v10.3h-135.0zM521.0 749.4h45.0v10.3h-45.0zM562.0 780.2h33.0v10.3h-33.0zM1038.0 780.2h62.0v10.3h-62.0zM1251.0 780.2h49.0v10.3h-49.0zM1392.0 780.2h44.0v10.3h-44.0zM204.0 800.7h13.0v10.3h-13.0zM246.0 800.7h11.0v10.3h-11.0zM274.0 800.7h6.0v10.3h-6.0zM327.0 800.7h13.0v10.3h-13.0zM352.0 800.7h9.0v10.3h-9.0zM383.0 800.7h8.0v10.3h-8.0zM405.0 800.7h8.0v10.3h-8.0zM462.0 800.7h5.0v10.3h-5.0zM521.0 800.7h8.0v10.3h-8.0zM578.0 800.7h10.0v10.3h-10.0zM600.0 800.7h11.0v10.3h-11.0zM674.0 800.7h21.0v10.3h-21.0zM788.0 800.7h16.0v10.3h-16.0zM821.0 800.7h23.0v10.3h-23.0zM930.0 800.7h8.0v10.3h-8.0zM976.0 800.7h47.0v10.3h-47.0zM1032.0 800.7h17.0v10.3h-17.0zM1061.0 800.7h12.0v10.3h-12.0zM1088.0 800.7h28.0v10.3h-28.0zM1126.0 800.7h24.0v10.3h-24.0zM1201.0 800.7h17.0v10.3h-17.0zM1223.0 800.7h6.0v10.3h-6.0zM1237.0 800.7h24.0v10.3h-24.0zM1283.0 800.7h13.0v10.3h-13.0zM1302.0 800.7h13.0v10.3h-13.0zM1337.0 800.7h13.0v10.3h-13.0zM1369.0 800.7h9.0v10.3h-9.0zM1385.0 800.7h10.0v10.3h-10.0zM1409.0 800.7h25.0v10.3h-25.0zM1461.0 800.7h14.0v10.3h-14.0zM1517.0 800.7h13.0v10.3h-13.0zM1543.0 800.7h10.0v10.3h-10.0zM1570.0 800.7h18.0v10.3h-18.0zM1602.0 800.7h12.0v10.3h-12.0zM1672.0 800.7h8.0v10.3h-8.0zM1703.0 800.7h13.0v10.3h-13.0zM1735.0 800.7h19.0v10.3h-19.0zM1528.0 821.3h43.0v10.3h-43.0zM102.0 831.5h55.0v10.3h-55.0zM188.0 831.5h37.0v10.3h-37.0zM1022.0 831.5h16.0v10.3h-16.0zM946.0 852.1h66.0v10.3h-66.0zM1594.0 852.1h8.0v10.3h-8.0zM1668.0 852.1h108.0v10.3h-108.0zM940.0 862.3h131.0v10.3h-131.0zM1108.0 862.3h43.0v10.3h-43.0zM110.0 893.1h1.0v10.3h-1.0zM264.0 893.1h16.0v10.3h-16.0zM351.0 893.1h8.0v10.3h-8.0zM413.0 893.1h11.0v10.3h-11.0zM434.0 893.1h10.0v10.3h-10.0zM491.0 893.1h13.0v10.3h-13.0zM534.0 893.1h23.0v10.3h-23.0zM569.0 893.1h5.0v10.3h-5.0zM582.0 893.1h4.0v10.3h-4.0zM603.0 893.1h1.0v10.3h-1.0zM634.0 893.1h23.0v10.3h-23.0zM696.0 893.1h28.0v10.3h-28.0zM746.0 893.1h8.0v10.3h-8.0zM762.0 893.1h29.0v10.3h-29.0zM797.0 893.1h14.0v10.3h-14.0zM993.0 893.1h30.0v10.3h-30.0zM1088.0 893.1h15.0v10.3h-15.0zM1116.0 893.1h29.0v10.3h-29.0zM1237.0 893.1h5.0v10.3h-5.0zM1258.0 893.1h10.0v10.3h-10.0zM1281.0 893.1h6.0v10.3h-6.0zM1307.0 893.1h9.0v10.3h-9.0zM1379.0 893.1h17.0v10.3h-17.0zM1482.0 893.1h28.0v10.3h-28.0zM1536.0 893.1h28.0v10.3h-28.0zM1624.0 893.1h21.0v10.3h-21.0zM1679.0 893.1h10.0v10.3h-10.0zM1729.0 893.1h14.0v10.3h-14.0zM1759.0 893.1h17.0v10.3h-17.0zM110.0 903.4h16.0v10.3h-16.0zM149.0 903.4h7.0v10.3h-7.0zM168.0 903.4h13.0v10.3h-13.0zM189.0 903.4h21.0v10.3h-21.0zM216.0 903.4h9.0v10.3h-9.0zM242.0 903.4h17.0v10.3h-17.0zM289.0 903.4h9.0v10.3h-9.0zM313.0 903.4h8.0v10.3h-8.0zM347.0 903.4h15.0v10.3h-15.0zM435.0 903.4h9.0v10.3h-9.0zM454.0 903.4h4.0v10.3h-4.0zM467.0 903.4h1.0v10.3h-1.0zM481.0 903.4h7.0v10.3h-7.0zM503.0 903.4h4.0v10.3h-4.0zM522.0 903.4h10.0v10.3h-10.0zM553.0 903.4h17.0v10.3h-17.0zM582.0 903.4h6.0v10.3h-6.0zM612.0 903.4h13.0v10.3h-13.0zM675.0 903.4h7.0v10.3h-7.0zM715.0 903.4h11.0v10.3h-11.0zM748.0 903.4h43.0v10.3h-43.0zM885.0 903.4h16.0v10.3h-16.0zM910.0 903.4h13.0v10.3h-13.0zM990.0 903.4h16.0v10.3h-16.0zM1078.0 903.4h15.0v10.3h-15.0zM1156.0 903.4h8.0v10.3h-8.0zM1176.0 903.4h18.0v10.3h-18.0zM1208.0 903.4h14.0v10.3h-14.0zM1277.0 903.4h11.0v10.3h-11.0zM1322.0 903.4h8.0v10.3h-8.0zM1366.0 903.4h35.0v10.3h-35.0zM1455.0 903.4h10.0v10.3h-10.0zM1477.0 903.4h22.0v10.3h-22.0zM1513.0 903.4h18.0v10.3h-18.0zM1555.0 903.4h17.0v10.3h-17.0zM1588.0 903.4h17.0v10.3h-17.0zM1620.0 903.4h18.0v10.3h-18.0zM1657.0 903.4h1.0v10.3h-1.0zM1671.0 903.4h6.0v10.3h-6.0zM1739.0 903.4h35.0v10.3h-35.0zM102.0 944.5h35.0v10.3h-35.0zM145.0 944.5h18.0v10.3h-18.0zM171.0 944.5h13.0v10.3h-13.0zM210.0 944.5h107.0v10.3h-107.0zM331.0 944.5h17.0v10.3h-17.0zM399.0 944.5h10.0v10.3h-10.0zM428.0 944.5h17.0v10.3h-17.0zM453.0 944.5h22.0v10.3h-22.0zM487.0 944.5h54.0v10.3h-54.0zM554.0 944.5h28.0v10.3h-28.0zM603.0 944.5h1173.0v10.3h-1173.0zM102.0 954.8h1674.0v10.3h-1674.0zM102.0 965.0h1674.0v10.3h-1674.0z"/><path fill="#0000ff" d="M331.0 215.4h17.0v10.3h-17.0zM449.0 225.7h58.0v10.3h-58.0zM583.0 266.7h5.0v10.3h-5.0zM521.0 739.1h61.0v10.3h-61.0zM592.0 739.1h56.0v10.3h-56.0zM672.0 759.7h4.0v10.3h-4.0zM1361.0 759.7h4.0v10.3h-4.0zM1151.0 852.1h55.0v10.3h-55.0zM1194.0 893.1h14.0v10.3h-14.0zM1194.0 903.4h14.0v10.3h-14.0z"/><path fill="#8100ff" d="M447.0 215.4h17.0v10.3h-17.0zM566.0 749.4h16.0v10.3h-16.0zM185.0 759.7h3.0v10.3h-3.0zM987.0 759.7h3.0v10.3h-3.0zM1169.0 759.7h3.0v10.3h-3.0zM1196.0 759.7h3.0v10.3h-3.0zM1300.0 759.7h3.0v10.3h-3.0zM1383.0 759.7h5.0v10.3h-5.0zM1545.0 759.7h2.0v10.3h-2.0zM1772.0 759.7h4.0v10.3h-4.0zM294.0 769.9h4.0v10.3h-4.0zM352.0 769.9h3.0v10.3h-3.0zM455.0 769.9h2.0v10.3h-2.0zM487.0 769.9h3.0v10.3h-3.0zM932.0 769.9h7.0v10.3h-7.0zM1038.0 769.9h2.0v10.3h-2.0zM1239.0 769.9h3.0v10.3h-3.0zM1341.0 769.9h3.0v10.3h-3.0zM1697.0 769.9h2.0v10.3h-2.0zM1724.0 769.9h2.0v10.3h-2.0zM554.0 780.2h8.0v10.3h-8.0zM555.0 790.5h7.0v10.3h-7.0zM652.0 790.5h16.0v10.3h-16.0zM1153.0 790.5h7.0v10.3h-7.0zM1341.0 790.5h8.0v10.3h-8.0zM1636.0 790.5h10.0v10.3h-10.0zM1689.0 790.5h4.0v10.3h-4.0zM940.0 811.0h61.0v10.3h-61.0zM1487.0 811.0h6.0v10.3h-6.0zM1770.0 811.0h6.0v10.3h-6.0zM940.0 821.3h35.0v10.3h-35.0zM978.0 821.3h4.0v10.3h-4.0zM988.0 821.3h16.0v10.3h-16.0zM1329.0 821.3h89.0v10.3h-89.0zM1425.0 821.3h3.0v10.3h-3.0zM1489.0 821.3h39.0v10.3h-39.0zM450.0 831.5h24.0v10.3h-24.0zM480.0 831.5h11.0v10.3h-11.0zM521.0 831.5h41.0v10.3h-41.0zM588.0 831.5h9.0v10.3h-9.0zM630.0 831.5h4.0v10.3h-4.0zM664.0 831.5h6.0v10.3h-6.0zM730.0 831.5h16.0v10.3h-16.0zM662.0 841.8h15.0v10.3h-15.0zM944.0 841.8h4.0v10.3h-4.0zM953.0 841.8h14.0v10.3h-14.0zM1030.0 841.8h10.0v10.3h-10.0zM1095.0 841.8h7.0v10.3h-7.0zM1108.0 841.8h8.0v10.3h-8.0zM1122.0 841.8h6.0v10.3h-6.0zM1339.0 852.1h20.0v10.3h-20.0zM292.0 862.3h6.0v10.3h-6.0zM470.0 862.3h31.0v10.3h-31.0zM1089.0 862.3h13.0v10.3h-13.0zM1422.0 862.3h16.0v10.3h-16.0zM1461.0 862.3h20.0v10.3h-20.0zM1544.0 862.3h21.0v10.3h-21.0zM1575.0 862.3h8.0v10.3h-8.0z"/><path fill="#980bf4" d="M470.0 215.4h10.0v10.3h-10.0zM494.0 215.4h8.0v10.3h-8.0zM716.0 687.8h3.0v10.3h-3.0zM762.0 687.8h1.0v10.3h-1.0zM809.0 687.8h2.0v10.3h-2.0zM854.0 687.8h3.0v10.3h-3.0zM900.0 687.8h3.0v10.3h-3.0zM233.0 759.7h4.0v10.3h-4.0zM265.0 759.7h4.0v10.3h-4.0zM520.0 759.7h3.0v10.3h-3.0zM581.0 759.7h2.0v10.3h-2.0zM622.0 759.7h4.0v10.3h-4.0zM878.0 759.7h3.0v10.3h-3.0zM1145.0 759.7h4.0v10.3h-4.0zM1266.0 759.7h4.0v10.3h-4.0zM1100.0 780.2h6.0v10.3h-6.0zM912.0 790.5h6.0v10.3h-6.0zM1073.0 800.7h14.0v10.3h-14.0zM1506.0 852.1h38.0v10.3h-38.0zM335.0 862.3h27.0v10.3h-27.0z"/><path fill="#ff659a" d="M480.0 215.4h14.0v10.3h-14.0zM432.0 790.5h10.0v10.3h-10.0zM1006.0 790.5h9.0v10.3h-9.0zM670.0 831.5h25.0v10.3h-25.0zM327.0 841.8h6.0v10.3h-6.0zM695.0 841.8h14.0v10.3h-14.0zM1481.0 852.1h25.0v10.3h-25.0zM1371.0 862.3h8.0v10.3h-8.0z"/><path fill="#5200ff" d="M510.0 215.4h3.0v10.3h-3.0zM531.0 215.4h17.0v10.3h-17.0zM1724.0 256.5h2.0v10.3h-2.0zM955.0 687.8h5.0v10.3h-5.0zM672.0 769.9h4.0v10.3h-4.0zM1361.0 769.9h4.0v10.3h-4.0zM644.0 780.2h33.0v10.3h-33.0zM1004.0 780.2h34.0v10.3h-34.0zM1550.0 780.2h11.0v10.3h-11.0zM1477.0 790.5h25.0v10.3h-25.0zM1750.0 790.5h4.0v10.3h-4.0zM1028.0 811.0h80.0v10.3h-80.0zM1112.0 811.0h8.0v10.3h-8.0zM1124.0 811.0h23.0v10.3h-23.0zM1160.0 811.0h5.0v10.3h-5.0zM1404.0 811.0h24.0v10.3h-24.0zM1026.0 821.3h45.0v10.3h-45.0zM384.0 831.5h9.0v10.3h-9.0zM705.0 831.5h25.0v10.3h-25.0zM746.0 831.5h6.0v10.3h-6.0zM266.0 841.8h16.0v10.3h-16.0zM1042.0 841.8h27.0v10.3h-27.0zM140.0 862.3h10.0v10.3h-10.0zM192.0 862.3h6.0v10.3h-6.0zM1273.0 862.3h7.0v10.3h-7.0z"/><path fill="#ff56a9" d="M568.0 215.4h12.0v10.3h-12.0zM196.0 698.0h2.0v10.3h-2.0zM1128.0 749.4h17.0v10.3h-17.0zM1116.0 759.7h4.0v10.3h-4.0zM233.0 769.9h4.0v10.3h-4.0zM265.0 769.9h4.0v10.3h-4.0zM520.0 769.9h3.0v10.3h-3.0zM581.0 769.9h2.0v10.3h-2.0zM622.0 769.9h4.0v10.3h-4.0zM878.0 769.9h3.0v10.3h-3.0zM1145.0 769.9h4.0v10.3h-4.0zM1266.0 769.9h4.0v10.3h-4.0zM1383.0 769.9h5.0v10.3h-5.0zM1656.0 780.2h11.0v10.3h-11.0zM869.0 790.5h8.0v10.3h-8.0zM967.0 790.5h8.0v10.3h-8.0zM1384.0 790.5h4.0v10.3h-4.0zM1442.0 790.5h2.0v10.3h-2.0zM1722.0 790.5h2.0v10.3h-2.0zM906.0 811.0h4.0v10.3h-4.0zM1400.0 811.0h3.0v10.3h-3.0zM1428.0 811.0h3.0v10.3h-3.0zM1418.0 821.3h7.0v10.3h-7.0zM1597.0 821.3h12.0v10.3h-12.0zM1683.0 821.3h4.0v10.3h-4.0zM501.0 831.5h20.0v10.3h-20.0zM376.0 841.8h7.0v10.3h-7.0zM390.0 841.8h7.0v10.3h-7.0zM648.0 841.8h14.0v10.3h-14.0zM1438.0 852.1h19.0v10.3h-19.0zM1481.0 862.3h21.0v10.3h-21.0zM1565.0 862.3h10.0v10.3h-10.0zM1583.0 862.3h8.0v10.3h-8.0zM1616.0 862.3h4.0v10.3h-4.0z"/><path fill="#0c00ff" d="M588.0 215.4h47.0v10.3h-47.0zM677.0 215.4h15.0v10.3h-15.0zM594.0 225.7h38.0v10.3h-38.0zM646.0 225.7h14.0v10.3h-14.0zM386.0 266.7h8.0v10.3h-8.0zM412.0 266.7h8.0v10.3h-8.0zM533.0 266.7h6.0v10.3h-6.0zM1031.0 266.7h23.0v10.3h-23.0zM1068.0 266.7h12.0v10.3h-12.0zM1450.0 277.0h3.0v10.3h-3.0zM1490.0 277.0h3.0v10.3h-3.0zM1171.0 749.4h55.0v10.3h-55.0zM960.0 759.7h2.0v10.3h-2.0zM965.0 759.7h22.0v10.3h-22.0zM1666.0 759.7h10.0v10.3h-10.0zM848.0 780.2h27.0v10.3h-27.0zM742.0 790.5h12.0v10.3h-12.0zM812.0 831.5h24.0v10.3h-24.0zM178.0 841.8h10.0v10.3h-10.0zM503.0 841.8h18.0v10.3h-18.0zM1544.0 852.1h16.0v10.3h-16.0z"/><path fill="#ffb04f" d="M644.0 215.4h8.0v10.3h-8.0zM660.0 215.4h6.0v10.3h-6.0zM684.0 790.5h9.0v10.3h-9.0zM723.0 790.5h9.0v10.3h-9.0zM1286.0 790.5h10.0v10.3h-10.0zM1438.0 862.3h17.0v10.3h-17.0z"/><path fill="#ffdd22" d="M652.0 215.4h8.0v10.3h-8.0zM775.0 841.8h10.0v10.3h-10.0zM1514.0 862.3h8.0v10.3h-8.0z"/><path fill="#0000d2" d="M666.0 215.4h11.0v10.3h-11.0zM871.0 266.7h35.0v10.3h-35.0zM1647.0 266.7h11.0v10.3h-11.0zM149.0 615.9h9.0v10.3h-9.0zM240.0 615.9h9.0v10.3h-9.0zM260.0 615.9h9.0v10.3h-9.0zM373.0 615.9h8.0v10.3h-8.0zM445.0 615.9h9.0v10.3h-9.0zM466.0 615.9h10.0v10.3h-10.0zM522.0 615.9h7.0v10.3h-7.0zM540.0 615.9h9.0v10.3h-9.0zM558.0 615.9h9.0v10.3h-9.0zM707.0 615.9h9.0v10.3h-9.0zM764.0 615.9h9.0v10.3h-9.0zM858.0 615.9h5.0v10.3h-5.0zM876.0 615.9h6.0v10.3h-6.0zM893.0 615.9h6.0v10.3h-6.0zM910.0 615.9h9.0v10.3h-9.0zM967.0 615.9h9.0v10.3h-9.0zM1004.0 615.9h7.0v10.3h-7.0zM1079.0 615.9h10.0v10.3h-10.0zM1098.0 615.9h6.0v10.3h-6.0zM1135.0 615.9h7.0v10.3h-7.0zM1191.0 615.9h9.0v10.3h-9.0zM1267.0 615.9h9.0v10.3h-9.0zM1303.0 615.9h8.0v10.3h-8.0zM1377.0 615.9h9.0v10.3h-9.0zM1528.0 615.9h8.0v10.3h-8.0zM1585.0 615.9h9.0v10.3h-9.0zM111.0 626.2h9.0v10.3h-9.0zM127.0 626.2h8.0v10.3h-8.0zM166.0 626.2h8.0v10.3h-8.0zM202.0 626.2h7.0v10.3h-7.0zM222.0 626.2h6.0v10.3h-6.0zM240.0 626.2h9.0v10.3h-9.0zM336.0 626.2h7.0v10.3h-7.0zM373.0 626.2h8.0v10.3h-8.0zM392.0 626.2h6.0v10.3h-6.0zM408.0 626.2h9.0v10.3h-9.0zM485.0 626.2h8.0v10.3h-8.0zM502.0 626.2h7.0v10.3h-7.0zM651.0 626.2h6.0v10.3h-6.0zM687.0 626.2h10.0v10.3h-10.0zM744.0 626.2h6.0v10.3h-6.0zM858.0 626.2h5.0v10.3h-5.0zM932.0 626.2h8.0v10.3h-8.0zM967.0 626.2h9.0v10.3h-9.0zM1079.0 626.2h10.0v10.3h-10.0zM1098.0 626.2h6.0v10.3h-6.0zM1116.0 626.2h9.0v10.3h-9.0zM1135.0 626.2h7.0v10.3h-7.0zM1156.0 626.2h6.0v10.3h-6.0zM1360.0 626.2h10.0v10.3h-10.0zM1470.0 626.2h6.0v10.3h-6.0zM1547.0 626.2h9.0v10.3h-9.0zM1565.0 626.2h10.0v10.3h-10.0zM1601.0 626.2h6.0v10.3h-6.0zM1641.0 626.2h9.0v10.3h-9.0zM1695.0 626.2h7.0v10.3h-7.0zM102.0 780.2h8.0v10.3h-8.0zM210.0 780.2h35.0v10.3h-35.0zM272.0 780.2h49.0v10.3h-49.0zM705.0 780.2h27.0v10.3h-27.0zM491.0 790.5h6.0v10.3h-6.0zM1552.0 790.5h58.0v10.3h-58.0zM1646.0 790.5h19.0v10.3h-19.0zM131.0 800.7h24.0v10.3h-24.0zM312.0 800.7h4.0v10.3h-4.0zM479.0 800.7h21.0v10.3h-21.0zM649.0 800.7h17.0v10.3h-17.0zM709.0 800.7h4.0v10.3h-4.0zM870.0 800.7h19.0v10.3h-19.0zM963.0 800.7h13.0v10.3h-13.0zM1087.0 800.7h1.0v10.3h-1.0zM1116.0 800.7h10.0v10.3h-10.0zM1229.0 800.7h8.0v10.3h-8.0zM1395.0 800.7h7.0v10.3h-7.0zM1448.0 800.7h9.0v10.3h-9.0zM1564.0 800.7h6.0v10.3h-6.0zM1588.0 800.7h8.0v10.3h-8.0zM1614.0 800.7h15.0v10.3h-15.0zM1766.0 800.7h9.0v10.3h-9.0zM1157.0 821.3h12.0v10.3h-12.0zM1626.0 821.3h14.0v10.3h-14.0zM1669.0 821.3h14.0v10.3h-14.0zM1700.0 821.3h10.0v10.3h-10.0zM491.0 831.5h10.0v10.3h-10.0zM102.0 841.8h16.0v10.3h-16.0zM335.0 841.8h9.0v10.3h-9.0zM409.0 841.8h10.0v10.3h-10.0zM974.0 841.8h7.0v10.3h-7.0zM1022.0 841.8h6.0v10.3h-6.0zM1081.0 841.8h6.0v10.3h-6.0zM599.0 852.1h18.0v10.3h-18.0zM746.0 852.1h31.0v10.3h-31.0zM1268.0 852.1h10.0v10.3h-10.0zM237.0 862.3h10.0v10.3h-10.0zM395.0 862.3h6.0v10.3h-6.0zM521.0 862.3h18.0v10.3h-18.0zM1151.0 862.3h11.0v10.3h-11.0zM1359.0 862.3h12.0v10.3h-12.0zM1591.0 862.3h8.0v10.3h-8.0zM1720.0 862.3h4.0v10.3h-4.0zM1764.0 862.3h8.0v10.3h-8.0zM129.0 872.6h86.0v10.3h-86.0zM521.0 872.6h18.0v10.3h-18.0zM1151.0 872.6h11.0v10.3h-11.0zM395.0 934.2h6.0v10.3h-6.0zM317.0 944.5h14.0v10.3h-14.0zM475.0 944.5h12.0v10.3h-12.0zM582.0 944.5h21.0v10.3h-21.0z"/><path fill="#2f00ff" d="M698.0 215.4h20.0v10.3h-20.0zM721.0 215.4h20.0v10.3h-20.0zM531.0 225.7h49.0v10.3h-49.0zM955.0 266.7h38.0v10.3h-38.0zM1112.0 266.7h40.0v10.3h-40.0zM1395.0 277.0h2.0v10.3h-2.0zM386.0 328.4h34.0v10.3h-34.0zM594.0 328.4h61.0v10.3h-61.0zM104.0 739.1h276.0v10.3h-276.0zM294.0 759.7h4.0v10.3h-4.0zM352.0 759.7h3.0v10.3h-3.0zM455.0 759.7h2.0v10.3h-2.0zM487.0 759.7h3.0v10.3h-3.0zM932.0 759.7h7.0v10.3h-7.0zM1038.0 759.7h2.0v10.3h-2.0zM1239.0 759.7h3.0v10.3h-3.0zM1341.0 759.7h3.0v10.3h-3.0zM1697.0 759.7h2.0v10.3h-2.0zM1724.0 759.7h2.0v10.3h-2.0zM1640.0 811.0h20.0v10.3h-20.0zM428.0 841.8h12.0v10.3h-12.0zM570.0 841.8h27.0v10.3h-27.0zM276.0 862.3h16.0v10.3h-16.0zM298.0 862.3h37.0v10.3h-37.0zM362.0 862.3h10.0v10.3h-10.0zM1071.0 862.3h18.0v10.3h-18.0zM1102.0 862.3h6.0v10.3h-6.0z"/><path fill="#0000b4" d="M741.0 215.4h64.0v10.3h-64.0zM183.0 225.7h23.0v10.3h-23.0zM747.0 235.9h49.0v10.3h-49.0zM1499.0 256.5h20.0v10.3h-20.0zM102.0 482.4h11.0v10.3h-11.0zM125.0 482.4h12.0v10.3h-12.0zM174.0 482.4h14.0v10.3h-14.0zM288.0 482.4h28.0v10.3h-28.0zM321.0 482.4h10.0v10.3h-10.0zM443.0 482.4h19.0v10.3h-19.0zM534.0 482.4h5.0v10.3h-5.0zM548.0 482.4h8.0v10.3h-8.0zM567.0 482.4h14.0v10.3h-14.0zM602.0 482.4h11.0v10.3h-11.0zM639.0 482.4h5.0v10.3h-5.0zM656.0 482.4h9.0v10.3h-9.0zM756.0 482.4h10.0v10.3h-10.0zM778.0 482.4h9.0v10.3h-9.0zM811.0 482.4h18.0v10.3h-18.0zM884.0 482.4h11.0v10.3h-11.0zM928.0 482.4h12.0v10.3h-12.0zM951.0 482.4h14.0v10.3h-14.0zM1015.0 482.4h7.0v10.3h-7.0zM1040.0 482.4h13.0v10.3h-13.0zM1125.0 482.4h18.0v10.3h-18.0zM1188.0 482.4h33.0v10.3h-33.0zM1257.0 482.4h9.0v10.3h-9.0zM1272.0 482.4h6.0v10.3h-6.0zM1314.0 482.4h6.0v10.3h-6.0zM1330.0 482.4h6.0v10.3h-6.0zM1361.0 482.4h8.0v10.3h-8.0zM1379.0 482.4h36.0v10.3h-36.0zM1450.0 482.4h12.0v10.3h-12.0zM1492.0 482.4h13.0v10.3h-13.0zM1528.0 482.4h12.0v10.3h-12.0zM1560.0 482.4h5.0v10.3h-5.0zM1575.0 482.4h18.0v10.3h-18.0zM1607.0 482.4h6.0v10.3h-6.0zM1627.0 482.4h11.0v10.3h-11.0zM102.0 502.9h23.0v10.3h-23.0zM128.0 502.9h25.0v10.3h-25.0zM156.0 502.9h25.0v10.3h-25.0zM184.0 502.9h25.0v10.3h-25.0zM212.0 502.9h25.0v10.3h-25.0zM240.0 502.9h24.0v10.3h-24.0zM268.0 502.9h24.0v10.3h-24.0zM295.0 502.9h25.0v10.3h-25.0zM323.0 502.9h25.0v10.3h-25.0zM351.0 502.9h25.0v10.3h-25.0zM379.0 502.9h25.0v10.3h-25.0zM407.0 502.9h25.0v10.3h-25.0zM435.0 502.9h25.0v10.3h-25.0zM463.0 502.9h25.0v10.3h-25.0zM491.0 502.9h25.0v10.3h-25.0zM519.0 502.9h24.0v10.3h-24.0zM546.0 502.9h25.0v10.3h-25.0zM574.0 502.9h25.0v10.3h-25.0zM602.0 502.9h25.0v10.3h-25.0zM630.0 502.9h25.0v10.3h-25.0zM658.0 502.9h25.0v10.3h-25.0zM686.0 502.9h25.0v10.3h-25.0zM714.0 502.9h25.0v10.3h-25.0zM742.0 502.9h25.0v10.3h-25.0zM770.0 502.9h25.0v10.3h-25.0zM798.0 502.9h24.0v10.3h-24.0zM825.0 502.9h25.0v10.3h-25.0zM853.0 502.9h25.0v10.3h-25.0zM881.0 502.9h25.0v10.3h-25.0zM909.0 502.9h25.0v10.3h-25.0zM937.0 502.9h25.0v10.3h-25.0zM965.0 502.9h25.0v10.3h-25.0zM993.0 502.9h25.0v10.3h-25.0zM1021.0 502.9h25.0v10.3h-25.0zM1049.0 502.9h25.0v10.3h-25.0zM1077.0 502.9h24.0v10.3h-24.0zM1104.0 502.9h25.0v10.3h-25.0zM1132.0 502.9h25.0v10.3h-25.0zM1160.0 502.9h25.0v10.3h-25.0zM1188.0 502.9h25.0v10.3h-25.0zM1216.0 502.9h25.0v10.3h-25.0zM1244.0 502.9h25.0v10.3h-25.0zM1272.0 502.9h25.0v10.3h-25.0zM1300.0 502.9h25.0v10.3h-25.0zM1328.0 502.9h25.0v10.3h-25.0zM1356.0 502.9h25.0v10.3h-25.0zM1384.0 502.9h24.0v10.3h-24.0zM1411.0 502.9h25.0v10.3h-25.0zM1439.0 502.9h25.0v10.3h-25.0zM1467.0 502.9h25.0v10.3h-25.0zM1495.0 502.9h25.0v10.3h-25.0zM1523.0 502.9h25.0v10.3h-25.0zM1551.0 502.9h25.0v10.3h-25.0zM1579.0 502.9h25.0v10.3h-25.0zM1607.0 502.9h25.0v10.3h-25.0zM1635.0 502.9h25.0v10.3h-25.0zM1663.0 502.9h24.0v10.3h-24.0zM1690.0 502.9h25.0v10.3h-25.0zM1718.0 502.9h25.0v10.3h-25.0zM1746.0 502.9h25.0v10.3h-25.0zM1774.0 502.9h2.0v10.3h-2.0zM121.0 544.0h7.0v10.3h-7.0zM153.0 544.0h9.0v10.3h-9.0zM241.0 544.0h48.0v10.3h-48.0zM342.0 544.0h17.0v10.3h-17.0zM384.0 544.0h9.0v10.3h-9.0zM417.0 544.0h15.0v10.3h-15.0zM522.0 544.0h7.0v10.3h-7.0zM536.0 544.0h22.0v10.3h-22.0zM567.0 544.0h12.0v10.3h-12.0zM612.0 544.0h9.0v10.3h-9.0zM643.0 544.0h22.0v10.3h-22.0zM683.0 544.0h10.0v10.3h-10.0zM746.0 544.0h13.0v10.3h-13.0zM814.0 544.0h9.0v10.3h-9.0zM862.0 544.0h17.0v10.3h-17.0zM891.0 544.0h6.0v10.3h-6.0zM951.0 544.0h9.0v10.3h-9.0zM990.0 544.0h24.0v10.3h-24.0zM1103.0 544.0h7.0v10.3h-7.0zM1138.0 544.0h13.0v10.3h-13.0zM1185.0 544.0h13.0v10.3h-13.0zM1204.0 544.0h6.0v10.3h-6.0zM1223.0 544.0h10.0v10.3h-10.0zM1266.0 544.0h5.0v10.3h-5.0zM1283.0 544.0h12.0v10.3h-12.0zM1331.0 544.0h13.0v10.3h-13.0zM1356.0 544.0h5.0v10.3h-5.0zM1369.0 544.0h12.0v10.3h-12.0zM1434.0 544.0h10.0v10.3h-10.0zM1470.0 544.0h36.0v10.3h-36.0zM1545.0 544.0h9.0v10.3h-9.0zM1623.0 544.0h15.0v10.3h-15.0zM1644.0 544.0h12.0v10.3h-12.0zM1661.0 544.0h9.0v10.3h-9.0zM1743.0 544.0h21.0v10.3h-21.0zM121.0 564.5h10.0v10.3h-10.0zM159.0 564.5h6.0v10.3h-6.0zM230.0 564.5h10.0v10.3h-10.0zM306.0 564.5h9.0v10.3h-9.0zM358.0 564.5h8.0v10.3h-8.0zM398.0 564.5h8.0v10.3h-8.0zM525.0 564.5h11.0v10.3h-11.0zM563.0 564.5h12.0v10.3h-12.0zM625.0 564.5h8.0v10.3h-8.0zM669.0 564.5h11.0v10.3h-11.0zM721.0 564.5h11.0v10.3h-11.0zM979.0 564.5h6.0v10.3h-6.0zM1014.0 564.5h14.0v10.3h-14.0zM1039.0 564.5h5.0v10.3h-5.0zM1049.0 564.5h12.0v10.3h-12.0zM1092.0 564.5h7.0v10.3h-7.0zM1138.0 564.5h12.0v10.3h-12.0zM1226.0 564.5h20.0v10.3h-20.0zM1298.0 564.5h9.0v10.3h-9.0zM1326.0 564.5h8.0v10.3h-8.0zM1354.0 564.5h25.0v10.3h-25.0zM1448.0 564.5h14.0v10.3h-14.0zM1488.0 564.5h13.0v10.3h-13.0zM1526.0 564.5h6.0v10.3h-6.0zM1633.0 564.5h9.0v10.3h-9.0zM1701.0 564.5h6.0v10.3h-6.0zM1758.0 564.5h11.0v10.3h-11.0zM102.0 677.5h4.0v10.3h-4.0zM111.0 677.5h12.0v10.3h-12.0zM126.0 677.5h3.0v10.3h-3.0zM134.0 677.5h16.0v10.3h-16.0zM157.0 677.5h7.0v10.3h-7.0zM181.0 677.5h6.0v10.3h-6.0zM195.0 677.5h3.0v10.3h-3.0zM203.0 677.5h1.0v10.3h-1.0zM220.0 677.5h1.0v10.3h-1.0zM232.0 677.5h4.0v10.3h-4.0zM243.0 677.5h1.0v10.3h-1.0zM249.0 677.5h1.0v10.3h-1.0zM279.0 677.5h7.0v10.3h-7.0zM295.0 677.5h18.0v10.3h-18.0zM318.0 677.5h5.0v10.3h-5.0zM331.0 677.5h3.0v10.3h-3.0zM349.0 677.5h8.0v10.3h-8.0zM368.0 677.5h6.0v10.3h-6.0zM399.0 677.5h3.0v10.3h-3.0zM409.0 677.5h3.0v10.3h-3.0zM421.0 677.5h6.0v10.3h-6.0zM432.0 677.5h18.0v10.3h-18.0zM455.0 677.5h12.0v10.3h-12.0zM485.0 677.5h8.0v10.3h-8.0zM504.0 677.5h8.0v10.3h-8.0zM515.0 677.5h4.0v10.3h-4.0zM528.0 677.5h8.0v10.3h-8.0zM563.0 677.5h2.0v10.3h-2.0zM570.0 677.5h1.0v10.3h-1.0zM580.0 677.5h8.0v10.3h-8.0zM593.0 677.5h18.0v10.3h-18.0zM618.0 677.5h5.0v10.3h-5.0zM639.0 677.5h2.0v10.3h-2.0zM654.0 677.5h2.0v10.3h-2.0zM940.0 677.5h5.0v10.3h-5.0zM961.0 677.5h7.0v10.3h-7.0zM984.0 677.5h7.0v10.3h-7.0zM1007.0 677.5h7.0v10.3h-7.0zM1030.0 677.5h7.0v10.3h-7.0zM1053.0 677.5h7.0v10.3h-7.0zM1076.0 677.5h7.0v10.3h-7.0zM1099.0 677.5h7.0v10.3h-7.0zM1122.0 677.5h7.0v10.3h-7.0zM1145.0 677.5h7.0v10.3h-7.0zM1168.0 677.5h7.0v10.3h-7.0zM1191.0 677.5h7.0v10.3h-7.0zM1214.0 677.5h7.0v10.3h-7.0zM1237.0 677.5h7.0v10.3h-7.0zM1260.0 677.5h7.0v10.3h-7.0zM1283.0 677.5h7.0v10.3h-7.0zM1306.0 677.5h7.0v10.3h-7.0zM1329.0 677.5h7.0v10.3h-7.0zM1352.0 677.5h7.0v10.3h-7.0zM1375.0 677.5h7.0v10.3h-7.0zM1397.0 677.5h7.0v10.3h-7.0zM1420.0 677.5h7.0v10.3h-7.0zM1443.0 677.5h7.0v10.3h-7.0zM1466.0 677.5h7.0v10.3h-7.0zM1489.0 677.5h7.0v10.3h-7.0zM1512.0 677.5h7.0v10.3h-7.0zM1535.0 677.5h7.0v10.3h-7.0zM1558.0 677.5h7.0v10.3h-7.0zM1581.0 677.5h7.0v10.3h-7.0zM1604.0 677.5h7.0v10.3h-7.0zM1627.0 677.5h7.0v10.3h-7.0zM1650.0 677.5h7.0v10.3h-7.0zM1673.0 677.5h7.0v10.3h-7.0zM1696.0 677.5h7.0v10.3h-7.0zM1719.0 677.5h7.0v10.3h-7.0zM1742.0 677.5h2.0v10.3h-2.0zM1359.0 687.8h4.0v10.3h-4.0zM1381.0 687.8h5.0v10.3h-5.0zM1404.0 687.8h5.0v10.3h-5.0zM1427.0 687.8h5.0v10.3h-5.0zM1450.0 687.8h5.0v10.3h-5.0zM1473.0 687.8h5.0v10.3h-5.0zM1496.0 687.8h5.0v10.3h-5.0zM1519.0 687.8h5.0v10.3h-5.0zM1542.0 687.8h5.0v10.3h-5.0zM1565.0 687.8h5.0v10.3h-5.0zM1588.0 687.8h5.0v10.3h-5.0zM1610.0 687.8h5.0v10.3h-5.0zM1633.0 687.8h5.0v10.3h-5.0zM1656.0 687.8h5.0v10.3h-5.0zM1679.0 687.8h5.0v10.3h-5.0zM1702.0 687.8h5.0v10.3h-5.0zM1725.0 687.8h5.0v10.3h-5.0zM1748.0 687.8h5.0v10.3h-5.0zM1771.0 687.8h5.0v10.3h-5.0zM1226.0 749.4h133.0v10.3h-133.0zM1648.0 759.7h18.0v10.3h-18.0zM1676.0 759.7h9.0v10.3h-9.0zM1160.0 790.5h30.0v10.3h-30.0zM1200.0 790.5h18.0v10.3h-18.0zM1220.0 790.5h29.0v10.3h-29.0zM1004.0 821.3h22.0v10.3h-22.0zM1230.0 821.3h45.0v10.3h-45.0zM178.0 831.5h10.0v10.3h-10.0zM266.0 831.5h41.0v10.3h-41.0zM621.0 841.8h12.0v10.3h-12.0zM1750.0 841.8h8.0v10.3h-8.0zM1122.0 852.1h22.0v10.3h-22.0zM582.0 862.3h17.0v10.3h-17.0zM611.0 862.3h37.0v10.3h-37.0zM709.0 862.3h41.0v10.3h-41.0zM1206.0 862.3h67.0v10.3h-67.0zM1280.0 862.3h20.0v10.3h-20.0zM1304.0 862.3h29.0v10.3h-29.0zM1347.0 862.3h12.0v10.3h-12.0zM235.0 872.6h41.0v10.3h-41.0zM372.0 872.6h68.0v10.3h-68.0zM572.0 872.6h26.0v10.3h-26.0zM709.0 872.6h25.0v10.3h-25.0zM1206.0 872.6h153.0v10.3h-153.0zM1726.0 872.6h50.0v10.3h-50.0zM163.0 944.5h8.0v10.3h-8.0zM445.0 944.5h8.0v10.3h-8.0z"/><path fill="#0000e1" d="M308.0 235.9h26.0v10.3h-26.0zM374.0 235.9h18.0v10.3h-18.0zM1609.0 246.2h14.0v10.3h-14.0zM1647.0 246.2h11.0v10.3h-11.0zM282.0 256.5h14.0v10.3h-14.0zM183.0 266.7h9.0v10.3h-9.0zM250.0 266.7h8.0v10.3h-8.0zM1429.0 266.7h6.0v10.3h-6.0zM102.0 328.4h284.0v10.3h-284.0zM188.0 482.4h11.0v10.3h-11.0zM221.0 482.4h10.0v10.3h-10.0zM462.0 482.4h13.0v10.3h-13.0zM485.0 482.4h7.0v10.3h-7.0zM621.0 482.4h18.0v10.3h-18.0zM787.0 482.4h8.0v10.3h-8.0zM801.0 482.4h10.0v10.3h-10.0zM829.0 482.4h11.0v10.3h-11.0zM854.0 482.4h7.0v10.3h-7.0zM895.0 482.4h7.0v10.3h-7.0zM1073.0 482.4h13.0v10.3h-13.0zM1238.0 482.4h11.0v10.3h-11.0zM1480.0 482.4h12.0v10.3h-12.0zM1652.0 482.4h5.0v10.3h-5.0zM1739.0 482.4h19.0v10.3h-19.0zM181.0 544.0h21.0v10.3h-21.0zM209.0 544.0h9.0v10.3h-9.0zM322.0 544.0h8.0v10.3h-8.0zM336.0 544.0h6.0v10.3h-6.0zM432.0 544.0h5.0v10.3h-5.0zM720.0 544.0h9.0v10.3h-9.0zM930.0 544.0h6.0v10.3h-6.0zM1210.0 544.0h13.0v10.3h-13.0zM1517.0 544.0h5.0v10.3h-5.0zM1594.0 544.0h12.0v10.3h-12.0zM1688.0 544.0h9.0v10.3h-9.0zM185.0 564.5h13.0v10.3h-13.0zM249.0 564.5h8.0v10.3h-8.0zM385.0 564.5h13.0v10.3h-13.0zM447.0 564.5h6.0v10.3h-6.0zM589.0 564.5h9.0v10.3h-9.0zM820.0 564.5h11.0v10.3h-11.0zM892.0 564.5h5.0v10.3h-5.0zM918.0 564.5h7.0v10.3h-7.0zM965.0 564.5h6.0v10.3h-6.0zM1079.0 564.5h13.0v10.3h-13.0zM1207.0 564.5h13.0v10.3h-13.0zM1279.0 564.5h10.0v10.3h-10.0zM1334.0 564.5h7.0v10.3h-7.0zM1437.0 564.5h11.0v10.3h-11.0zM1653.0 564.5h7.0v10.3h-7.0zM123.0 615.9h3.0v10.3h-3.0zM605.0 615.9h4.0v10.3h-4.0zM644.0 615.9h4.0v10.3h-4.0zM866.0 615.9h4.0v10.3h-4.0zM922.0 615.9h2.0v10.3h-2.0zM1315.0 615.9h2.0v10.3h-2.0zM1743.0 615.9h4.0v10.3h-4.0zM123.0 626.2h3.0v10.3h-3.0zM160.0 626.2h3.0v10.3h-3.0zM195.0 626.2h3.0v10.3h-3.0zM272.0 626.2h4.0v10.3h-4.0zM922.0 626.2h2.0v10.3h-2.0zM1350.0 626.2h4.0v10.3h-4.0zM1407.0 626.2h3.0v10.3h-3.0zM1743.0 626.2h4.0v10.3h-4.0zM164.0 677.5h11.0v10.3h-11.0zM187.0 677.5h8.0v10.3h-8.0zM236.0 677.5h7.0v10.3h-7.0zM250.0 677.5h7.0v10.3h-7.0zM274.0 677.5h5.0v10.3h-5.0zM286.0 677.5h4.0v10.3h-4.0zM323.0 677.5h8.0v10.3h-8.0zM341.0 677.5h8.0v10.3h-8.0zM357.0 677.5h1.0v10.3h-1.0zM363.0 677.5h5.0v10.3h-5.0zM386.0 677.5h6.0v10.3h-6.0zM396.0 677.5h3.0v10.3h-3.0zM412.0 677.5h3.0v10.3h-3.0zM478.0 677.5h7.0v10.3h-7.0zM493.0 677.5h3.0v10.3h-3.0zM536.0 677.5h6.0v10.3h-6.0zM547.0 677.5h6.0v10.3h-6.0zM556.0 677.5h7.0v10.3h-7.0zM616.0 677.5h2.0v10.3h-2.0zM641.0 677.5h9.0v10.3h-9.0zM686.0 677.5h7.0v10.3h-7.0zM709.0 677.5h7.0v10.3h-7.0zM732.0 677.5h7.0v10.3h-7.0zM755.0 677.5h7.0v10.3h-7.0zM778.0 677.5h7.0v10.3h-7.0zM801.0 677.5h7.0v10.3h-7.0zM824.0 677.5h7.0v10.3h-7.0zM847.0 677.5h7.0v10.3h-7.0zM870.0 677.5h7.0v10.3h-7.0zM893.0 677.5h7.0v10.3h-7.0zM916.0 677.5h7.0v10.3h-7.0zM938.0 677.5h2.0v10.3h-2.0zM1705.0 728.8h71.0v10.3h-71.0zM380.0 739.1h141.0v10.3h-141.0zM354.0 780.2h32.0v10.3h-32.0zM1239.0 780.2h12.0v10.3h-12.0zM1436.0 780.2h66.0v10.3h-66.0zM1705.0 780.2h25.0v10.3h-25.0zM1579.0 811.0h45.0v10.3h-45.0zM307.0 831.5h77.0v10.3h-77.0zM393.0 831.5h57.0v10.3h-57.0zM1157.0 841.8h10.0v10.3h-10.0zM1194.0 841.8h20.0v10.3h-20.0zM276.0 872.6h96.0v10.3h-96.0zM440.0 872.6h81.0v10.3h-81.0zM1383.0 872.6h23.0v10.3h-23.0zM1410.0 872.6h39.0v10.3h-39.0zM1506.0 872.6h36.0v10.3h-36.0zM364.0 893.1h16.0v10.3h-16.0zM592.0 893.1h11.0v10.3h-11.0zM1294.0 893.1h8.0v10.3h-8.0zM1465.0 893.1h12.0v10.3h-12.0zM364.0 903.4h16.0v10.3h-16.0zM592.0 903.4h11.0v10.3h-11.0zM1294.0 903.4h8.0v10.3h-8.0zM1465.0 903.4h12.0v10.3h-12.0zM137.0 944.5h8.0v10.3h-8.0z"/><path fill="#6900ff" d="M1647.0 256.5h14.0v10.3h-14.0zM106.0 677.5h5.0v10.3h-5.0zM129.0 677.5h5.0v10.3h-5.0zM152.0 677.5h5.0v10.3h-5.0zM175.0 677.5h5.0v10.3h-5.0zM198.0 677.5h5.0v10.3h-5.0zM221.0 677.5h5.0v10.3h-5.0zM244.0 677.5h5.0v10.3h-5.0zM267.0 677.5h5.0v10.3h-5.0zM290.0 677.5h5.0v10.3h-5.0zM313.0 677.5h5.0v10.3h-5.0zM335.0 677.5h5.0v10.3h-5.0zM358.0 677.5h5.0v10.3h-5.0zM381.0 677.5h5.0v10.3h-5.0zM404.0 677.5h5.0v10.3h-5.0zM427.0 677.5h5.0v10.3h-5.0zM450.0 677.5h5.0v10.3h-5.0zM473.0 677.5h5.0v10.3h-5.0zM496.0 677.5h5.0v10.3h-5.0zM519.0 677.5h5.0v10.3h-5.0zM542.0 677.5h5.0v10.3h-5.0zM565.0 677.5h5.0v10.3h-5.0zM588.0 677.5h5.0v10.3h-5.0zM611.0 677.5h5.0v10.3h-5.0zM634.0 677.5h5.0v10.3h-5.0zM115.0 687.8h3.0v10.3h-3.0zM122.0 687.8h3.0v10.3h-3.0zM138.0 687.8h3.0v10.3h-3.0zM145.0 687.8h3.0v10.3h-3.0zM161.0 687.8h3.0v10.3h-3.0zM168.0 687.8h3.0v10.3h-3.0zM184.0 687.8h3.0v10.3h-3.0zM191.0 687.8h3.0v10.3h-3.0zM207.0 687.8h3.0v10.3h-3.0zM214.0 687.8h3.0v10.3h-3.0zM230.0 687.8h3.0v10.3h-3.0zM237.0 687.8h3.0v10.3h-3.0zM253.0 687.8h3.0v10.3h-3.0zM260.0 687.8h3.0v10.3h-3.0zM276.0 687.8h3.0v10.3h-3.0zM283.0 687.8h3.0v10.3h-3.0zM299.0 687.8h3.0v10.3h-3.0zM306.0 687.8h3.0v10.3h-3.0zM322.0 687.8h3.0v10.3h-3.0zM329.0 687.8h3.0v10.3h-3.0zM344.0 687.8h3.0v10.3h-3.0zM351.0 687.8h3.0v10.3h-3.0zM367.0 687.8h3.0v10.3h-3.0zM374.0 687.8h3.0v10.3h-3.0zM390.0 687.8h3.0v10.3h-3.0zM397.0 687.8h3.0v10.3h-3.0zM413.0 687.8h3.0v10.3h-3.0zM420.0 687.8h3.0v10.3h-3.0zM436.0 687.8h3.0v10.3h-3.0zM443.0 687.8h3.0v10.3h-3.0zM459.0 687.8h3.0v10.3h-3.0zM466.0 687.8h3.0v10.3h-3.0zM482.0 687.8h3.0v10.3h-3.0zM489.0 687.8h3.0v10.3h-3.0zM505.0 687.8h3.0v10.3h-3.0zM512.0 687.8h3.0v10.3h-3.0zM528.0 687.8h3.0v10.3h-3.0zM535.0 687.8h3.0v10.3h-3.0zM551.0 687.8h3.0v10.3h-3.0zM558.0 687.8h3.0v10.3h-3.0zM574.0 687.8h3.0v10.3h-3.0zM580.0 687.8h17.0v10.3h-17.0zM603.0 687.8h16.0v10.3h-16.0zM627.0 687.8h16.0v10.3h-16.0zM649.0 687.8h7.0v10.3h-7.0zM670.0 687.8h4.0v10.3h-4.0zM946.0 687.8h3.0v10.3h-3.0zM1015.0 687.8h3.0v10.3h-3.0zM1084.0 687.8h3.0v10.3h-3.0zM1152.0 687.8h3.0v10.3h-3.0zM1221.0 687.8h3.0v10.3h-3.0zM1290.0 687.8h3.0v10.3h-3.0zM582.0 739.1h10.0v10.3h-10.0zM405.0 749.4h4.0v10.3h-4.0zM742.0 780.2h14.0v10.3h-14.0zM816.0 790.5h8.0v10.3h-8.0zM1288.0 811.0h29.0v10.3h-29.0zM1329.0 811.0h28.0v10.3h-28.0zM1724.0 821.3h52.0v10.3h-52.0zM633.0 841.8h15.0v10.3h-15.0zM995.0 841.8h11.0v10.3h-11.0zM1206.0 852.1h49.0v10.3h-49.0zM1258.0 852.1h10.0v10.3h-10.0zM1278.0 852.1h26.0v10.3h-26.0zM1560.0 852.1h34.0v10.3h-34.0zM444.0 893.1h10.0v10.3h-10.0zM444.0 903.4h10.0v10.3h-10.0z"/><path fill="#000087" d="M137.0 482.4h13.0v10.3h-13.0zM157.0 482.4h17.0v10.3h-17.0zM216.0 482.4h5.0v10.3h-5.0zM231.0 482.4h10.0v10.3h-10.0zM316.0 482.4h5.0v10.3h-5.0zM331.0 482.4h14.0v10.3h-14.0zM353.0 482.4h36.0v10.3h-36.0zM432.0 482.4h11.0v10.3h-11.0zM502.0 482.4h23.0v10.3h-23.0zM539.0 482.4h9.0v10.3h-9.0zM556.0 482.4h6.0v10.3h-6.0zM581.0 482.4h21.0v10.3h-21.0zM613.0 482.4h8.0v10.3h-8.0zM665.0 482.4h17.0v10.3h-17.0zM694.0 482.4h27.0v10.3h-27.0zM729.0 482.4h27.0v10.3h-27.0zM766.0 482.4h12.0v10.3h-12.0zM795.0 482.4h6.0v10.3h-6.0zM840.0 482.4h8.0v10.3h-8.0zM874.0 482.4h10.0v10.3h-10.0zM902.0 482.4h10.0v10.3h-10.0zM922.0 482.4h6.0v10.3h-6.0zM965.0 482.4h12.0v10.3h-12.0zM1003.0 482.4h12.0v10.3h-12.0zM1022.0 482.4h18.0v10.3h-18.0zM1098.0 482.4h27.0v10.3h-27.0zM1156.0 482.4h11.0v10.3h-11.0zM1177.0 482.4h11.0v10.3h-11.0zM1266.0 482.4h6.0v10.3h-6.0zM1278.0 482.4h21.0v10.3h-21.0zM1306.0 482.4h8.0v10.3h-8.0zM1415.0 482.4h16.0v10.3h-16.0zM1443.0 482.4h7.0v10.3h-7.0zM1468.0 482.4h12.0v10.3h-12.0zM1505.0 482.4h12.0v10.3h-12.0zM1540.0 482.4h20.0v10.3h-20.0zM1565.0 482.4h10.0v10.3h-10.0zM1593.0 482.4h14.0v10.3h-14.0zM1663.0 482.4h11.0v10.3h-11.0zM1720.0 482.4h19.0v10.3h-19.0zM1758.0 482.4h7.0v10.3h-7.0zM1772.0 482.4h4.0v10.3h-4.0zM108.0 544.0h13.0v10.3h-13.0zM128.0 544.0h25.0v10.3h-25.0zM202.0 544.0h7.0v10.3h-7.0zM218.0 544.0h5.0v10.3h-5.0zM234.0 544.0h7.0v10.3h-7.0zM308.0 544.0h14.0v10.3h-14.0zM330.0 544.0h6.0v10.3h-6.0zM359.0 544.0h25.0v10.3h-25.0zM393.0 544.0h13.0v10.3h-13.0zM437.0 544.0h21.0v10.3h-21.0zM470.0 544.0h10.0v10.3h-10.0zM493.0 544.0h9.0v10.3h-9.0zM529.0 544.0h7.0v10.3h-7.0zM558.0 544.0h9.0v10.3h-9.0zM579.0 544.0h33.0v10.3h-33.0zM621.0 544.0h22.0v10.3h-22.0zM665.0 544.0h18.0v10.3h-18.0zM693.0 544.0h11.0v10.3h-11.0zM729.0 544.0h17.0v10.3h-17.0zM767.0 544.0h13.0v10.3h-13.0zM792.0 544.0h12.0v10.3h-12.0zM823.0 544.0h39.0v10.3h-39.0zM879.0 544.0h12.0v10.3h-12.0zM897.0 544.0h33.0v10.3h-33.0zM936.0 544.0h8.0v10.3h-8.0zM972.0 544.0h18.0v10.3h-18.0zM1014.0 544.0h19.0v10.3h-19.0zM1042.0 544.0h9.0v10.3h-9.0zM1110.0 544.0h15.0v10.3h-15.0zM1162.0 544.0h11.0v10.3h-11.0zM1198.0 544.0h6.0v10.3h-6.0zM1233.0 544.0h33.0v10.3h-33.0zM1271.0 544.0h12.0v10.3h-12.0zM1309.0 544.0h8.0v10.3h-8.0zM1344.0 544.0h12.0v10.3h-12.0zM1450.0 544.0h20.0v10.3h-20.0zM1506.0 544.0h11.0v10.3h-11.0zM1606.0 544.0h7.0v10.3h-7.0zM1638.0 544.0h6.0v10.3h-6.0zM1656.0 544.0h5.0v10.3h-5.0zM1675.0 544.0h13.0v10.3h-13.0zM1713.0 544.0h30.0v10.3h-30.0zM1774.0 544.0h2.0v10.3h-2.0zM102.0 564.5h6.0v10.3h-6.0zM139.0 564.5h20.0v10.3h-20.0zM198.0 564.5h12.0v10.3h-12.0zM223.0 564.5h7.0v10.3h-7.0zM269.0 564.5h12.0v10.3h-12.0zM336.0 564.5h15.0v10.3h-15.0zM366.0 564.5h19.0v10.3h-19.0zM413.0 564.5h9.0v10.3h-9.0zM436.0 564.5h11.0v10.3h-11.0zM478.0 564.5h5.0v10.3h-5.0zM497.0 564.5h28.0v10.3h-28.0zM550.0 564.5h13.0v10.3h-13.0zM598.0 564.5h27.0v10.3h-27.0zM633.0 564.5h18.0v10.3h-18.0zM657.0 564.5h12.0v10.3h-12.0zM687.0 564.5h27.0v10.3h-27.0zM732.0 564.5h13.0v10.3h-13.0zM755.0 564.5h9.0v10.3h-9.0zM844.0 564.5h21.0v10.3h-21.0zM873.0 564.5h5.0v10.3h-5.0zM925.0 564.5h19.0v10.3h-19.0zM971.0 564.5h8.0v10.3h-8.0zM985.0 564.5h11.0v10.3h-11.0zM1007.0 564.5h7.0v10.3h-7.0zM1028.0 564.5h11.0v10.3h-11.0zM1061.0 564.5h12.0v10.3h-12.0zM1099.0 564.5h9.0v10.3h-9.0zM1126.0 564.5h12.0v10.3h-12.0zM1158.0 564.5h14.0v10.3h-14.0zM1178.0 564.5h29.0v10.3h-29.0zM1313.0 564.5h13.0v10.3h-13.0zM1341.0 564.5h13.0v10.3h-13.0zM1379.0 564.5h8.0v10.3h-8.0zM1400.0 564.5h21.0v10.3h-21.0zM1501.0 564.5h17.0v10.3h-17.0zM1556.0 564.5h11.0v10.3h-11.0zM1586.0 564.5h9.0v10.3h-9.0zM1608.0 564.5h25.0v10.3h-25.0zM1660.0 564.5h5.0v10.3h-5.0zM1685.0 564.5h16.0v10.3h-16.0zM1707.0 564.5h42.0v10.3h-42.0zM123.0 677.5h3.0v10.3h-3.0zM150.0 677.5h2.0v10.3h-2.0zM180.0 677.5h1.0v10.3h-1.0zM204.0 677.5h16.0v10.3h-16.0zM226.0 677.5h6.0v10.3h-6.0zM257.0 677.5h10.0v10.3h-10.0zM272.0 677.5h2.0v10.3h-2.0zM334.0 677.5h1.0v10.3h-1.0zM340.0 677.5h1.0v10.3h-1.0zM374.0 677.5h7.0v10.3h-7.0zM392.0 677.5h4.0v10.3h-4.0zM402.0 677.5h2.0v10.3h-2.0zM415.0 677.5h6.0v10.3h-6.0zM467.0 677.5h6.0v10.3h-6.0zM501.0 677.5h3.0v10.3h-3.0zM512.0 677.5h3.0v10.3h-3.0zM524.0 677.5h4.0v10.3h-4.0zM553.0 677.5h3.0v10.3h-3.0zM571.0 677.5h9.0v10.3h-9.0zM623.0 677.5h11.0v10.3h-11.0zM650.0 677.5h4.0v10.3h-4.0zM1071.0 821.3h37.0v10.3h-37.0zM1577.0 841.8h16.0v10.3h-16.0zM755.0 872.6h79.0v10.3h-79.0zM1359.0 872.6h24.0v10.3h-24.0zM1607.0 872.6h14.0v10.3h-14.0z"/><path fill="#000000" d="M125.0 502.9h3.0v10.3h-3.0zM153.0 502.9h3.0v10.3h-3.0zM181.0 502.9h3.0v10.3h-3.0zM209.0 502.9h3.0v10.3h-3.0zM237.0 502.9h3.0v10.3h-3.0zM264.0 502.9h4.0v10.3h-4.0zM292.0 502.9h3.0v10.3h-3.0zM320.0 502.9h3.0v10.3h-3.0zM348.0 502.9h3.0v10.3h-3.0zM376.0 502.9h3.0v10.3h-3.0zM404.0 502.9h3.0v10.3h-3.0zM432.0 502.9h3.0v10.3h-3.0zM460.0 502.9h3.0v10.3h-3.0zM488.0 502.9h3.0v10.3h-3.0zM516.0 502.9h3.0v10.3h-3.0zM543.0 502.9h3.0v10.3h-3.0zM571.0 502.9h3.0v10.3h-3.0zM599.0 502.9h3.0v10.3h-3.0zM627.0 502.9h3.0v10.3h-3.0zM655.0 502.9h3.0v10.3h-3.0zM683.0 502.9h3.0v10.3h-3.0zM711.0 502.9h3.0v10.3h-3.0zM739.0 502.9h3.0v10.3h-3.0zM767.0 502.9h3.0v10.3h-3.0zM795.0 502.9h3.0v10.3h-3.0zM822.0 502.9h3.0v10.3h-3.0zM850.0 502.9h3.0v10.3h-3.0zM878.0 502.9h3.0v10.3h-3.0zM906.0 502.9h3.0v10.3h-3.0zM934.0 502.9h3.0v10.3h-3.0zM962.0 502.9h3.0v10.3h-3.0zM990.0 502.9h3.0v10.3h-3.0zM1018.0 502.9h3.0v10.3h-3.0zM1046.0 502.9h3.0v10.3h-3.0zM1074.0 502.9h3.0v10.3h-3.0zM1101.0 502.9h3.0v10.3h-3.0zM1129.0 502.9h3.0v10.3h-3.0zM1157.0 502.9h3.0v10.3h-3.0zM1185.0 502.9h3.0v10.3h-3.0zM1213.0 502.9h3.0v10.3h-3.0zM1241.0 502.9h3.0v10.3h-3.0zM1269.0 502.9h3.0v10.3h-3.0zM1297.0 502.9h3.0v10.3h-3.0zM1325.0 502.9h3.0v10.3h-3.0zM1353.0 502.9h3.0v10.3h-3.0zM1381.0 502.9h3.0v10.3h-3.0zM1408.0 502.9h3.0v10.3h-3.0zM1436.0 502.9h3.0v10.3h-3.0zM1464.0 502.9h3.0v10.3h-3.0zM1492.0 502.9h3.0v10.3h-3.0zM1520.0 502.9h3.0v10.3h-3.0zM1548.0 502.9h3.0v10.3h-3.0zM1576.0 502.9h3.0v10.3h-3.0zM1604.0 502.9h3.0v10.3h-3.0zM1632.0 502.9h3.0v10.3h-3.0zM1660.0 502.9h3.0v10.3h-3.0zM1687.0 502.9h3.0v10.3h-3.0zM1715.0 502.9h3.0v10.3h-3.0zM1743.0 502.9h3.0v10.3h-3.0zM1771.0 502.9h3.0v10.3h-3.0zM120.0 615.9h3.0v10.3h-3.0zM140.0 615.9h7.0v10.3h-7.0zM163.0 615.9h3.0v10.3h-3.0zM174.0 615.9h11.0v10.3h-11.0zM193.0 615.9h6.0v10.3h-6.0zM209.0 615.9h13.0v10.3h-13.0zM228.0 615.9h4.0v10.3h-4.0zM249.0 615.9h11.0v10.3h-11.0zM274.0 615.9h5.0v10.3h-5.0zM285.0 615.9h14.0v10.3h-14.0zM314.0 615.9h1.0v10.3h-1.0zM321.0 615.9h15.0v10.3h-15.0zM343.0 615.9h11.0v10.3h-11.0zM361.0 615.9h5.0v10.3h-5.0zM372.0 615.9h1.0v10.3h-1.0zM381.0 615.9h11.0v10.3h-11.0zM398.0 615.9h2.0v10.3h-2.0zM421.0 615.9h4.0v10.3h-4.0zM432.0 615.9h13.0v10.3h-13.0zM457.0 615.9h7.0v10.3h-7.0zM476.0 615.9h4.0v10.3h-4.0zM484.0 615.9h1.0v10.3h-1.0zM493.0 615.9h9.0v10.3h-9.0zM529.0 615.9h11.0v10.3h-11.0zM567.0 615.9h5.0v10.3h-5.0zM585.0 615.9h1.0v10.3h-1.0zM613.0 615.9h1.0v10.3h-1.0zM623.0 615.9h4.0v10.3h-4.0zM632.0 615.9h1.0v10.3h-1.0zM642.0 615.9h2.0v10.3h-2.0zM648.0 615.9h1.0v10.3h-1.0zM659.0 615.9h5.0v10.3h-5.0zM676.0 615.9h6.0v10.3h-6.0zM697.0 615.9h2.0v10.3h-2.0zM706.0 615.9h1.0v10.3h-1.0zM716.0 615.9h3.0v10.3h-3.0zM722.0 615.9h3.0v10.3h-3.0zM731.0 615.9h13.0v10.3h-13.0zM756.0 615.9h8.0v10.3h-8.0zM773.0 615.9h7.0v10.3h-7.0zM786.0 615.9h6.0v10.3h-6.0zM800.0 615.9h2.0v10.3h-2.0zM812.0 615.9h6.0v10.3h-6.0zM827.0 615.9h1.0v10.3h-1.0zM831.0 615.9h8.0v10.3h-8.0zM847.0 615.9h11.0v10.3h-11.0zM863.0 615.9h3.0v10.3h-3.0zM901.0 615.9h9.0v10.3h-9.0zM919.0 615.9h3.0v10.3h-3.0zM924.0 615.9h8.0v10.3h-8.0zM940.0 615.9h11.0v10.3h-11.0zM959.0 615.9h8.0v10.3h-8.0zM976.0 615.9h10.0v10.3h-10.0zM991.0 615.9h13.0v10.3h-13.0zM1011.0 615.9h12.0v10.3h-12.0zM1031.0 615.9h11.0v10.3h-11.0zM1049.0 615.9h12.0v10.3h-12.0zM1068.0 615.9h11.0v10.3h-11.0zM1094.0 615.9h4.0v10.3h-4.0zM1113.0 615.9h3.0v10.3h-3.0zM1143.0 615.9h13.0v10.3h-13.0zM1162.0 615.9h10.0v10.3h-10.0zM1180.0 615.9h11.0v10.3h-11.0zM1200.0 615.9h2.0v10.3h-2.0zM1207.0 615.9h3.0v10.3h-3.0zM1237.0 615.9h7.0v10.3h-7.0zM1254.0 615.9h13.0v10.3h-13.0zM1276.0 615.9h11.0v10.3h-11.0zM1295.0 615.9h6.0v10.3h-6.0zM1311.0 615.9h4.0v10.3h-4.0zM1317.0 615.9h6.0v10.3h-6.0zM1347.0 615.9h13.0v10.3h-13.0zM1386.0 615.9h11.0v10.3h-11.0zM1407.0 615.9h5.0v10.3h-5.0zM1423.0 615.9h11.0v10.3h-11.0zM1443.0 615.9h8.0v10.3h-8.0zM1460.0 615.9h10.0v10.3h-10.0zM1482.0 615.9h10.0v10.3h-10.0zM1504.0 615.9h4.0v10.3h-4.0zM1517.0 615.9h4.0v10.3h-4.0zM1536.0 615.9h4.0v10.3h-4.0zM1577.0 615.9h8.0v10.3h-8.0zM1600.0 615.9h1.0v10.3h-1.0zM1607.0 615.9h6.0v10.3h-6.0zM1615.0 615.9h5.0v10.3h-5.0zM1633.0 615.9h8.0v10.3h-8.0zM1650.0 615.9h4.0v10.3h-4.0zM1668.0 615.9h8.0v10.3h-8.0zM1684.0 615.9h2.0v10.3h-2.0zM1692.0 615.9h3.0v10.3h-3.0zM1702.0 615.9h14.0v10.3h-14.0zM1725.0 615.9h9.0v10.3h-9.0zM1762.0 615.9h7.0v10.3h-7.0zM102.0 626.2h9.0v10.3h-9.0zM135.0 626.2h14.0v10.3h-14.0zM163.0 626.2h2.0v10.3h-2.0zM174.0 626.2h8.0v10.3h-8.0zM193.0 626.2h2.0v10.3h-2.0zM198.0 626.2h4.0v10.3h-4.0zM209.0 626.2h13.0v10.3h-13.0zM228.0 626.2h4.0v10.3h-4.0zM236.0 626.2h4.0v10.3h-4.0zM255.0 626.2h5.0v10.3h-5.0zM269.0 626.2h3.0v10.3h-3.0zM276.0 626.2h3.0v10.3h-3.0zM285.0 626.2h5.0v10.3h-5.0zM298.0 626.2h1.0v10.3h-1.0zM314.0 626.2h1.0v10.3h-1.0zM321.0 626.2h15.0v10.3h-15.0zM361.0 626.2h12.0v10.3h-12.0zM381.0 626.2h11.0v10.3h-11.0zM398.0 626.2h10.0v10.3h-10.0zM417.0 626.2h8.0v10.3h-8.0zM432.0 626.2h3.0v10.3h-3.0zM443.0 626.2h2.0v10.3h-2.0zM454.0 626.2h10.0v10.3h-10.0zM478.0 626.2h7.0v10.3h-7.0zM509.0 626.2h3.0v10.3h-3.0zM516.0 626.2h6.0v10.3h-6.0zM529.0 626.2h11.0v10.3h-11.0zM549.0 626.2h9.0v10.3h-9.0zM567.0 626.2h11.0v10.3h-11.0zM586.0 626.2h8.0v10.3h-8.0zM600.0 626.2h1.0v10.3h-1.0zM606.0 626.2h8.0v10.3h-8.0zM623.0 626.2h5.0v10.3h-5.0zM631.0 626.2h2.0v10.3h-2.0zM657.0 626.2h11.0v10.3h-11.0zM676.0 626.2h6.0v10.3h-6.0zM686.0 626.2h1.0v10.3h-1.0zM716.0 626.2h1.0v10.3h-1.0zM723.0 626.2h2.0v10.3h-2.0zM731.0 626.2h2.0v10.3h-2.0zM736.0 626.2h8.0v10.3h-8.0zM750.0 626.2h14.0v10.3h-14.0zM773.0 626.2h7.0v10.3h-7.0zM793.0 626.2h9.0v10.3h-9.0zM812.0 626.2h6.0v10.3h-6.0zM827.0 626.2h1.0v10.3h-1.0zM837.0 626.2h2.0v10.3h-2.0zM847.0 626.2h2.0v10.3h-2.0zM854.0 626.2h4.0v10.3h-4.0zM863.0 626.2h13.0v10.3h-13.0zM903.0 626.2h7.0v10.3h-7.0zM919.0 626.2h3.0v10.3h-3.0zM924.0 626.2h8.0v10.3h-8.0zM959.0 626.2h6.0v10.3h-6.0zM991.0 626.2h13.0v10.3h-13.0zM1020.0 626.2h3.0v10.3h-3.0zM1031.0 626.2h4.0v10.3h-4.0zM1049.0 626.2h12.0v10.3h-12.0zM1077.0 626.2h2.0v10.3h-2.0zM1089.0 626.2h3.0v10.3h-3.0zM1096.0 626.2h2.0v10.3h-2.0zM1104.0 626.2h12.0v10.3h-12.0zM1129.0 626.2h6.0v10.3h-6.0zM1142.0 626.2h10.0v10.3h-10.0zM1162.0 626.2h10.0v10.3h-10.0zM1181.0 626.2h10.0v10.3h-10.0zM1200.0 626.2h5.0v10.3h-5.0zM1220.0 626.2h28.0v10.3h-28.0zM1254.0 626.2h13.0v10.3h-13.0zM1281.0 626.2h6.0v10.3h-6.0zM1295.0 626.2h4.0v10.3h-4.0zM1311.0 626.2h12.0v10.3h-12.0zM1332.0 626.2h7.0v10.3h-7.0zM1347.0 626.2h3.0v10.3h-3.0zM1370.0 626.2h7.0v10.3h-7.0zM1385.0 626.2h15.0v10.3h-15.0zM1410.0 626.2h7.0v10.3h-7.0zM1423.0 626.2h7.0v10.3h-7.0zM1443.0 626.2h10.0v10.3h-10.0zM1455.0 626.2h15.0v10.3h-15.0zM1481.0 626.2h8.0v10.3h-8.0zM1500.0 626.2h15.0v10.3h-15.0zM1517.0 626.2h11.0v10.3h-11.0zM1556.0 626.2h9.0v10.3h-9.0zM1575.0 626.2h10.0v10.3h-10.0zM1594.0 626.2h7.0v10.3h-7.0zM1607.0 626.2h8.0v10.3h-8.0zM1628.0 626.2h13.0v10.3h-13.0zM1650.0 626.2h8.0v10.3h-8.0zM1668.0 626.2h4.0v10.3h-4.0zM1684.0 626.2h11.0v10.3h-11.0zM1705.0 626.2h11.0v10.3h-11.0zM1721.0 626.2h8.0v10.3h-8.0zM1742.0 626.2h1.0v10.3h-1.0zM1758.0 626.2h9.0v10.3h-9.0z"/><path fill="#00002d" d="M102.0 615.9h9.0v10.3h-9.0zM126.0 615.9h1.0v10.3h-1.0zM135.0 615.9h5.0v10.3h-5.0zM236.0 615.9h4.0v10.3h-4.0zM269.0 615.9h5.0v10.3h-5.0zM306.0 615.9h8.0v10.3h-8.0zM366.0 615.9h6.0v10.3h-6.0zM417.0 615.9h4.0v10.3h-4.0zM454.0 615.9h3.0v10.3h-3.0zM464.0 615.9h2.0v10.3h-2.0zM480.0 615.9h4.0v10.3h-4.0zM509.0 615.9h3.0v10.3h-3.0zM549.0 615.9h4.0v10.3h-4.0zM600.0 615.9h5.0v10.3h-5.0zM609.0 615.9h4.0v10.3h-4.0zM682.0 615.9h5.0v10.3h-5.0zM699.0 615.9h7.0v10.3h-7.0zM882.0 615.9h11.0v10.3h-11.0zM899.0 615.9h2.0v10.3h-2.0zM1089.0 615.9h5.0v10.3h-5.0zM1104.0 615.9h9.0v10.3h-9.0zM1126.0 615.9h9.0v10.3h-9.0zM1142.0 615.9h1.0v10.3h-1.0zM1202.0 615.9h5.0v10.3h-5.0zM1220.0 615.9h8.0v10.3h-8.0zM1244.0 615.9h4.0v10.3h-4.0zM1332.0 615.9h8.0v10.3h-8.0zM1412.0 615.9h5.0v10.3h-5.0zM1451.0 615.9h2.0v10.3h-2.0zM1476.0 615.9h6.0v10.3h-6.0zM1501.0 615.9h3.0v10.3h-3.0zM1524.0 615.9h4.0v10.3h-4.0zM1540.0 615.9h7.0v10.3h-7.0zM1575.0 615.9h2.0v10.3h-2.0zM1594.0 615.9h6.0v10.3h-6.0zM1628.0 615.9h5.0v10.3h-5.0zM1686.0 615.9h6.0v10.3h-6.0zM1721.0 615.9h4.0v10.3h-4.0zM1742.0 615.9h1.0v10.3h-1.0zM1747.0 615.9h4.0v10.3h-4.0zM1758.0 615.9h4.0v10.3h-4.0zM121.0 626.2h2.0v10.3h-2.0zM126.0 626.2h1.0v10.3h-1.0zM158.0 626.2h2.0v10.3h-2.0zM165.0 626.2h1.0v10.3h-1.0zM182.0 626.2h3.0v10.3h-3.0zM249.0 626.2h6.0v10.3h-6.0zM290.0 626.2h8.0v10.3h-8.0zM306.0 626.2h8.0v10.3h-8.0zM343.0 626.2h8.0v10.3h-8.0zM435.0 626.2h8.0v10.3h-8.0zM464.0 626.2h2.0v10.3h-2.0zM493.0 626.2h9.0v10.3h-9.0zM628.0 626.2h3.0v10.3h-3.0zM644.0 626.2h7.0v10.3h-7.0zM682.0 626.2h4.0v10.3h-4.0zM697.0 626.2h10.0v10.3h-10.0zM733.0 626.2h3.0v10.3h-3.0zM786.0 626.2h3.0v10.3h-3.0zM831.0 626.2h6.0v10.3h-6.0zM882.0 626.2h4.0v10.3h-4.0zM940.0 626.2h11.0v10.3h-11.0zM965.0 626.2h2.0v10.3h-2.0zM976.0 626.2h10.0v10.3h-10.0zM1035.0 626.2h7.0v10.3h-7.0zM1068.0 626.2h9.0v10.3h-9.0zM1092.0 626.2h4.0v10.3h-4.0zM1125.0 626.2h4.0v10.3h-4.0zM1152.0 626.2h4.0v10.3h-4.0zM1180.0 626.2h1.0v10.3h-1.0zM1205.0 626.2h5.0v10.3h-5.0zM1276.0 626.2h5.0v10.3h-5.0zM1299.0 626.2h4.0v10.3h-4.0zM1339.0 626.2h1.0v10.3h-1.0zM1476.0 626.2h5.0v10.3h-5.0zM1489.0 626.2h3.0v10.3h-3.0zM1536.0 626.2h8.0v10.3h-8.0zM1615.0 626.2h5.0v10.3h-5.0zM1672.0 626.2h4.0v10.3h-4.0zM1702.0 626.2h3.0v10.3h-3.0zM1729.0 626.2h5.0v10.3h-5.0zM1767.0 626.2h2.0v10.3h-2.0zM380.0 728.8h70.0v10.3h-70.0zM848.0 739.1h612.0v10.3h-612.0zM1595.0 739.1h181.0v10.3h-181.0zM582.0 749.4h110.0v10.3h-110.0zM110.0 780.2h50.0v10.3h-50.0zM386.0 780.2h9.0v10.3h-9.0zM677.0 780.2h28.0v10.3h-28.0zM875.0 780.2h37.0v10.3h-37.0zM155.0 800.7h13.0v10.3h-13.0zM183.0 800.7h21.0v10.3h-21.0zM225.0 800.7h9.0v10.3h-9.0zM240.0 800.7h6.0v10.3h-6.0zM263.0 800.7h11.0v10.3h-11.0zM280.0 800.7h21.0v10.3h-21.0zM316.0 800.7h11.0v10.3h-11.0zM340.0 800.7h12.0v10.3h-12.0zM374.0 800.7h9.0v10.3h-9.0zM413.0 800.7h12.0v10.3h-12.0zM446.0 800.7h16.0v10.3h-16.0zM467.0 800.7h12.0v10.3h-12.0zM529.0 800.7h7.0v10.3h-7.0zM544.0 800.7h21.0v10.3h-21.0zM588.0 800.7h12.0v10.3h-12.0zM611.0 800.7h10.0v10.3h-10.0zM666.0 800.7h8.0v10.3h-8.0zM713.0 800.7h44.0v10.3h-44.0zM768.0 800.7h20.0v10.3h-20.0zM844.0 800.7h14.0v10.3h-14.0zM911.0 800.7h19.0v10.3h-19.0zM952.0 800.7h11.0v10.3h-11.0zM1156.0 800.7h7.0v10.3h-7.0zM1174.0 800.7h14.0v10.3h-14.0zM1261.0 800.7h11.0v10.3h-11.0zM1315.0 800.7h22.0v10.3h-22.0zM1378.0 800.7h7.0v10.3h-7.0zM1402.0 800.7h7.0v10.3h-7.0zM1457.0 800.7h4.0v10.3h-4.0zM1492.0 800.7h12.0v10.3h-12.0zM1509.0 800.7h8.0v10.3h-8.0zM1553.0 800.7h11.0v10.3h-11.0zM1596.0 800.7h6.0v10.3h-6.0zM1641.0 800.7h6.0v10.3h-6.0zM1659.0 800.7h13.0v10.3h-13.0zM1680.0 800.7h23.0v10.3h-23.0zM598.0 872.6h7.0v10.3h-7.0zM734.0 872.6h21.0v10.3h-21.0zM177.0 893.1h17.0v10.3h-17.0zM252.0 893.1h12.0v10.3h-12.0zM321.0 893.1h30.0v10.3h-30.0zM395.0 893.1h12.0v10.3h-12.0zM424.0 893.1h10.0v10.3h-10.0zM454.0 893.1h9.0v10.3h-9.0zM528.0 893.1h6.0v10.3h-6.0zM604.0 893.1h14.0v10.3h-14.0zM682.0 893.1h3.0v10.3h-3.0zM695.0 893.1h1.0v10.3h-1.0zM837.0 893.1h15.0v10.3h-15.0zM880.0 893.1h10.0v10.3h-10.0zM905.0 893.1h8.0v10.3h-8.0zM962.0 893.1h31.0v10.3h-31.0zM1065.0 893.1h8.0v10.3h-8.0zM1268.0 893.1h13.0v10.3h-13.0zM1316.0 893.1h15.0v10.3h-15.0zM1348.0 893.1h18.0v10.3h-18.0zM1403.0 893.1h9.0v10.3h-9.0zM1432.0 893.1h16.0v10.3h-16.0zM1590.0 893.1h8.0v10.3h-8.0zM1671.0 893.1h8.0v10.3h-8.0zM1706.0 893.1h6.0v10.3h-6.0zM126.0 903.4h9.0v10.3h-9.0zM156.0 903.4h12.0v10.3h-12.0zM362.0 903.4h2.0v10.3h-2.0zM380.0 903.4h5.0v10.3h-5.0zM399.0 903.4h36.0v10.3h-36.0zM488.0 903.4h15.0v10.3h-15.0zM707.0 903.4h8.0v10.3h-8.0zM726.0 903.4h8.0v10.3h-8.0zM820.0 903.4h8.0v10.3h-8.0zM1030.0 903.4h7.0v10.3h-7.0zM1067.0 903.4h11.0v10.3h-11.0zM1093.0 903.4h21.0v10.3h-21.0zM1330.0 903.4h15.0v10.3h-15.0zM1357.0 903.4h9.0v10.3h-9.0zM1401.0 903.4h13.0v10.3h-13.0zM1441.0 903.4h14.0v10.3h-14.0zM1499.0 903.4h14.0v10.3h-14.0zM1531.0 903.4h24.0v10.3h-24.0zM1605.0 903.4h15.0v10.3h-15.0zM1704.0 903.4h35.0v10.3h-35.0z"/><path fill="#3b00ff" d="M279.0 615.9h6.0v10.3h-6.0zM299.0 615.9h7.0v10.3h-7.0zM336.0 615.9h7.0v10.3h-7.0zM425.0 615.9h7.0v10.3h-7.0zM578.0 615.9h7.0v10.3h-7.0zM614.0 615.9h9.0v10.3h-9.0zM744.0 615.9h6.0v10.3h-6.0zM780.0 615.9h6.0v10.3h-6.0zM802.0 615.9h10.0v10.3h-10.0zM1023.0 615.9h8.0v10.3h-8.0zM1210.0 615.9h10.0v10.3h-10.0zM1287.0 615.9h8.0v10.3h-8.0zM1417.0 615.9h6.0v10.3h-6.0zM1492.0 615.9h9.0v10.3h-9.0zM1547.0 615.9h9.0v10.3h-9.0zM1620.0 615.9h8.0v10.3h-8.0zM1676.0 615.9h8.0v10.3h-8.0zM425.0 626.2h7.0v10.3h-7.0zM540.0 626.2h9.0v10.3h-9.0zM558.0 626.2h9.0v10.3h-9.0zM707.0 626.2h9.0v10.3h-9.0zM876.0 626.2h6.0v10.3h-6.0zM893.0 626.2h6.0v10.3h-6.0zM951.0 626.2h8.0v10.3h-8.0zM1004.0 626.2h7.0v10.3h-7.0zM1340.0 626.2h7.0v10.3h-7.0zM1492.0 626.2h8.0v10.3h-8.0zM1585.0 626.2h9.0v10.3h-9.0z"/><path fill="#00003c" d="M656.0 677.5h30.0v10.3h-30.0zM693.0 677.5h16.0v10.3h-16.0zM716.0 677.5h16.0v10.3h-16.0zM739.0 677.5h16.0v10.3h-16.0zM762.0 677.5h16.0v10.3h-16.0zM785.0 677.5h16.0v10.3h-16.0zM808.0 677.5h16.0v10.3h-16.0zM831.0 677.5h16.0v10.3h-16.0zM854.0 677.5h16.0v10.3h-16.0zM877.0 677.5h16.0v10.3h-16.0zM900.0 677.5h16.0v10.3h-16.0zM923.0 677.5h15.0v10.3h-15.0zM945.0 677.5h16.0v10.3h-16.0zM968.0 677.5h16.0v10.3h-16.0zM991.0 677.5h16.0v10.3h-16.0zM1014.0 677.5h16.0v10.3h-16.0zM1037.0 677.5h16.0v10.3h-16.0zM1060.0 677.5h16.0v10.3h-16.0zM1083.0 677.5h16.0v10.3h-16.0zM1106.0 677.5h16.0v10.3h-16.0zM1129.0 677.5h16.0v10.3h-16.0zM1152.0 677.5h16.0v10.3h-16.0zM1175.0 677.5h16.0v10.3h-16.0zM1198.0 677.5h16.0v10.3h-16.0zM1221.0 677.5h16.0v10.3h-16.0zM1244.0 677.5h16.0v10.3h-16.0zM1267.0 677.5h16.0v10.3h-16.0zM1290.0 677.5h16.0v10.3h-16.0zM1313.0 677.5h16.0v10.3h-16.0zM1336.0 677.5h16.0v10.3h-16.0zM1359.0 677.5h16.0v10.3h-16.0zM1382.0 677.5h15.0v10.3h-15.0zM1404.0 677.5h16.0v10.3h-16.0zM1427.0 677.5h16.0v10.3h-16.0zM1450.0 677.5h16.0v10.3h-16.0zM1473.0 677.5h16.0v10.3h-16.0zM1496.0 677.5h16.0v10.3h-16.0zM1519.0 677.5h16.0v10.3h-16.0zM1542.0 677.5h16.0v10.3h-16.0zM1565.0 677.5h16.0v10.3h-16.0zM1588.0 677.5h16.0v10.3h-16.0zM1611.0 677.5h16.0v10.3h-16.0zM1634.0 677.5h16.0v10.3h-16.0zM1657.0 677.5h16.0v10.3h-16.0zM1680.0 677.5h16.0v10.3h-16.0zM1703.0 677.5h16.0v10.3h-16.0zM1726.0 677.5h16.0v10.3h-16.0zM1756.0 677.5h8.0v10.3h-8.0zM1774.0 677.5h2.0v10.3h-2.0zM746.0 728.8h62.0v10.3h-62.0zM742.0 739.1h106.0v10.3h-106.0zM102.0 749.4h246.0v10.3h-246.0zM192.0 780.2h18.0v10.3h-18.0zM245.0 780.2h27.0v10.3h-27.0zM1106.0 780.2h69.0v10.3h-69.0zM1300.0 780.2h77.0v10.3h-77.0zM1502.0 780.2h48.0v10.3h-48.0zM1561.0 780.2h32.0v10.3h-32.0zM1610.0 780.2h14.0v10.3h-14.0zM102.0 790.5h61.0v10.3h-61.0zM165.0 790.5h117.0v10.3h-117.0zM291.0 790.5h38.0v10.3h-38.0zM334.0 790.5h44.0v10.3h-44.0zM379.0 790.5h53.0v10.3h-53.0zM442.0 790.5h49.0v10.3h-49.0zM497.0 790.5h26.0v10.3h-26.0zM527.0 790.5h28.0v10.3h-28.0zM562.0 790.5h55.0v10.3h-55.0zM627.0 790.5h25.0v10.3h-25.0zM668.0 790.5h16.0v10.3h-16.0zM693.0 790.5h30.0v10.3h-30.0zM732.0 790.5h10.0v10.3h-10.0zM754.0 790.5h62.0v10.3h-62.0zM824.0 790.5h45.0v10.3h-45.0zM877.0 790.5h35.0v10.3h-35.0zM918.0 790.5h49.0v10.3h-49.0zM975.0 790.5h31.0v10.3h-31.0zM1015.0 790.5h66.0v10.3h-66.0zM1087.0 790.5h66.0v10.3h-66.0zM1257.0 790.5h29.0v10.3h-29.0zM1296.0 790.5h45.0v10.3h-45.0zM1349.0 790.5h10.0v10.3h-10.0zM1361.0 790.5h23.0v10.3h-23.0zM1388.0 790.5h54.0v10.3h-54.0zM1444.0 790.5h26.0v10.3h-26.0zM1472.0 790.5h5.0v10.3h-5.0zM1502.0 790.5h50.0v10.3h-50.0zM1610.0 790.5h14.0v10.3h-14.0zM1634.0 790.5h2.0v10.3h-2.0zM1665.0 790.5h6.0v10.3h-6.0zM1679.0 790.5h10.0v10.3h-10.0zM1693.0 790.5h29.0v10.3h-29.0zM1724.0 790.5h26.0v10.3h-26.0zM1754.0 790.5h22.0v10.3h-22.0zM521.0 821.3h78.0v10.3h-78.0zM981.0 841.8h14.0v10.3h-14.0zM1379.0 862.3h3.0v10.3h-3.0zM1406.0 872.6h4.0v10.3h-4.0z"/><path fill="#ff837c" d="M118.0 687.8h4.0v10.3h-4.0zM141.0 687.8h4.0v10.3h-4.0zM164.0 687.8h4.0v10.3h-4.0zM187.0 687.8h4.0v10.3h-4.0zM210.0 687.8h4.0v10.3h-4.0zM233.0 687.8h4.0v10.3h-4.0zM256.0 687.8h4.0v10.3h-4.0zM279.0 687.8h4.0v10.3h-4.0zM302.0 687.8h4.0v10.3h-4.0zM325.0 687.8h4.0v10.3h-4.0zM347.0 687.8h4.0v10.3h-4.0zM370.0 687.8h4.0v10.3h-4.0zM393.0 687.8h4.0v10.3h-4.0zM416.0 687.8h4.0v10.3h-4.0zM439.0 687.8h4.0v10.3h-4.0zM462.0 687.8h4.0v10.3h-4.0zM485.0 687.8h4.0v10.3h-4.0zM508.0 687.8h4.0v10.3h-4.0zM531.0 687.8h4.0v10.3h-4.0zM554.0 687.8h4.0v10.3h-4.0zM577.0 687.8h3.0v10.3h-3.0zM383.0 841.8h7.0v10.3h-7.0z"/><path fill="#ffa15e" d="M597.0 687.8h6.0v10.3h-6.0zM1506.0 862.3h8.0v10.3h-8.0zM1522.0 862.3h22.0v10.3h-22.0z"/><path fill="#ff748b" d="M619.0 687.8h8.0v10.3h-8.0zM643.0 687.8h6.0v10.3h-6.0zM164.0 769.9h4.0v10.3h-4.0zM322.0 769.9h4.0v10.3h-4.0zM426.0 769.9h4.0v10.3h-4.0zM551.0 769.9h11.0v10.3h-11.0zM702.0 769.9h3.0v10.3h-3.0zM729.0 769.9h4.0v10.3h-4.0zM1008.0 769.9h3.0v10.3h-3.0zM1671.0 780.2h6.0v10.3h-6.0zM1624.0 790.5h10.0v10.3h-10.0zM388.0 811.0h2.0v10.3h-2.0zM975.0 821.3h3.0v10.3h-3.0zM730.0 841.8h20.0v10.3h-20.0zM1317.0 852.1h8.0v10.3h-8.0zM1382.0 862.3h22.0v10.3h-22.0zM1409.0 862.3h13.0v10.3h-13.0zM1676.0 862.3h8.0v10.3h-8.0zM1692.0 862.3h4.0v10.3h-4.0zM1708.0 862.3h4.0v10.3h-4.0zM1742.0 862.3h4.0v10.3h-4.0zM1756.0 862.3h6.0v10.3h-6.0z"/><path fill="#00000f" d="M656.0 687.8h12.0v10.3h-12.0zM676.0 687.8h15.0v10.3h-15.0zM698.0 687.8h16.0v10.3h-16.0zM721.0 687.8h16.0v10.3h-16.0zM744.0 687.8h16.0v10.3h-16.0zM767.0 687.8h16.0v10.3h-16.0zM790.0 687.8h15.0v10.3h-15.0zM813.0 687.8h16.0v10.3h-16.0zM836.0 687.8h16.0v10.3h-16.0zM859.0 687.8h16.0v10.3h-16.0zM882.0 687.8h16.0v10.3h-16.0zM905.0 687.8h16.0v10.3h-16.0zM928.0 687.8h16.0v10.3h-16.0zM950.0 687.8h5.0v10.3h-5.0zM960.0 687.8h7.0v10.3h-7.0zM973.0 687.8h17.0v10.3h-17.0zM996.0 687.8h17.0v10.3h-17.0zM1019.0 687.8h17.0v10.3h-17.0zM1042.0 687.8h17.0v10.3h-17.0zM1065.0 687.8h17.0v10.3h-17.0zM1088.0 687.8h17.0v10.3h-17.0zM1111.0 687.8h17.0v10.3h-17.0zM1134.0 687.8h16.0v10.3h-16.0zM1156.0 687.8h17.0v10.3h-17.0zM1179.0 687.8h17.0v10.3h-17.0zM1202.0 687.8h17.0v10.3h-17.0zM1225.0 687.8h17.0v10.3h-17.0zM1248.0 687.8h17.0v10.3h-17.0zM1271.0 687.8h17.0v10.3h-17.0zM1294.0 687.8h17.0v10.3h-17.0zM1317.0 687.8h17.0v10.3h-17.0zM1340.0 687.8h17.0v10.3h-17.0zM1363.0 687.8h18.0v10.3h-18.0zM1386.0 687.8h18.0v10.3h-18.0zM1409.0 687.8h18.0v10.3h-18.0zM1432.0 687.8h18.0v10.3h-18.0zM1455.0 687.8h18.0v10.3h-18.0zM1478.0 687.8h18.0v10.3h-18.0zM1501.0 687.8h18.0v10.3h-18.0zM1524.0 687.8h18.0v10.3h-18.0zM1547.0 687.8h18.0v10.3h-18.0zM1570.0 687.8h18.0v10.3h-18.0zM1593.0 687.8h17.0v10.3h-17.0zM1615.0 687.8h18.0v10.3h-18.0zM1638.0 687.8h18.0v10.3h-18.0zM1661.0 687.8h18.0v10.3h-18.0zM1684.0 687.8h18.0v10.3h-18.0zM1707.0 687.8h18.0v10.3h-18.0zM1730.0 687.8h18.0v10.3h-18.0zM1753.0 687.8h18.0v10.3h-18.0zM157.0 831.5h21.0v10.3h-21.0zM225.0 831.5h41.0v10.3h-41.0zM881.0 831.5h141.0v10.3h-141.0zM1038.0 831.5h113.0v10.3h-113.0zM1167.0 831.5h410.0v10.3h-410.0zM1595.0 831.5h181.0v10.3h-181.0zM157.0 841.8h21.0v10.3h-21.0zM188.0 841.8h78.0v10.3h-78.0zM344.0 841.8h32.0v10.3h-32.0zM440.0 841.8h22.0v10.3h-22.0zM556.0 841.8h14.0v10.3h-14.0zM881.0 841.8h63.0v10.3h-63.0zM1006.0 841.8h16.0v10.3h-16.0zM1069.0 841.8h12.0v10.3h-12.0zM1128.0 841.8h23.0v10.3h-23.0zM1214.0 841.8h363.0v10.3h-363.0zM1593.0 841.8h157.0v10.3h-157.0zM1758.0 841.8h18.0v10.3h-18.0zM102.0 852.1h205.0v10.3h-205.0zM376.0 852.1h145.0v10.3h-145.0zM894.0 852.1h52.0v10.3h-52.0zM1012.0 852.1h110.0v10.3h-110.0zM1144.0 852.1h7.0v10.3h-7.0zM1404.0 852.1h4.0v10.3h-4.0zM102.0 862.3h27.0v10.3h-27.0zM170.0 862.3h22.0v10.3h-22.0zM198.0 862.3h39.0v10.3h-39.0zM247.0 862.3h29.0v10.3h-29.0zM372.0 862.3h23.0v10.3h-23.0zM401.0 862.3h39.0v10.3h-39.0zM539.0 862.3h43.0v10.3h-43.0zM599.0 862.3h12.0v10.3h-12.0zM668.0 862.3h41.0v10.3h-41.0zM750.0 862.3h12.0v10.3h-12.0zM1162.0 862.3h44.0v10.3h-44.0z"/><path fill="#c729d6" d="M763.0 687.8h4.0v10.3h-4.0zM805.0 687.8h4.0v10.3h-4.0zM634.0 831.5h30.0v10.3h-30.0zM752.0 831.5h18.0v10.3h-18.0zM790.0 831.5h22.0v10.3h-22.0z"/><path fill="#2300ff" d="M106.0 728.8h274.0v10.3h-274.0z"/><path fill="#bc21de" d="M164.0 759.7h4.0v10.3h-4.0zM322.0 759.7h4.0v10.3h-4.0zM426.0 759.7h4.0v10.3h-4.0zM551.0 759.7h4.0v10.3h-4.0zM702.0 759.7h3.0v10.3h-3.0zM729.0 759.7h4.0v10.3h-4.0z"/><path fill="#b01ae5" d="M555.0 759.7h25.0v10.3h-25.0zM1008.0 759.7h3.0v10.3h-3.0zM1132.0 759.7h13.0v10.3h-13.0zM962.0 769.9h3.0v10.3h-3.0zM1065.0 769.9h4.0v10.3h-4.0zM1098.0 769.9h2.0v10.3h-2.0zM1217.0 769.9h2.0v10.3h-2.0zM1317.0 769.9h4.0v10.3h-4.0zM1377.0 780.2h15.0v10.3h-15.0zM163.0 790.5h2.0v10.3h-2.0zM617.0 790.5h10.0v10.3h-10.0zM192.0 811.0h4.0v10.3h-4.0zM396.0 811.0h2.0v10.3h-2.0zM1108.0 821.3h37.0v10.3h-37.0zM1147.0 821.3h10.0v10.3h-10.0zM1276.0 821.3h30.0v10.3h-30.0zM1571.0 821.3h26.0v10.3h-26.0zM1609.0 821.3h17.0v10.3h-17.0zM695.0 831.5h10.0v10.3h-10.0zM288.0 841.8h8.0v10.3h-8.0zM709.0 841.8h21.0v10.3h-21.0zM816.0 841.8h20.0v10.3h-20.0zM844.0 841.8h15.0v10.3h-15.0zM1359.0 852.1h45.0v10.3h-45.0zM1408.0 852.1h30.0v10.3h-30.0zM1457.0 852.1h24.0v10.3h-24.0zM1333.0 862.3h6.0v10.3h-6.0zM1343.0 862.3h4.0v10.3h-4.0z"/><path fill="#df38c7" d="M603.0 759.7h3.0v10.3h-3.0zM646.0 759.7h4.0v10.3h-4.0zM1110.0 759.7h6.0v10.3h-6.0zM185.0 769.9h3.0v10.3h-3.0zM987.0 769.9h3.0v10.3h-3.0zM1169.0 769.9h3.0v10.3h-3.0zM1196.0 769.9h3.0v10.3h-3.0zM1300.0 769.9h3.0v10.3h-3.0zM1772.0 769.9h4.0v10.3h-4.0zM282.0 790.5h9.0v10.3h-9.0zM329.0 790.5h5.0v10.3h-5.0zM378.0 790.5h1.0v10.3h-1.0zM523.0 790.5h4.0v10.3h-4.0zM1081.0 790.5h6.0v10.3h-6.0zM1218.0 790.5h2.0v10.3h-2.0zM1359.0 790.5h2.0v10.3h-2.0zM1671.0 790.5h8.0v10.3h-8.0zM208.0 811.0h7.0v10.3h-7.0zM1108.0 811.0h4.0v10.3h-4.0zM1120.0 811.0h4.0v10.3h-4.0zM1147.0 811.0h13.0v10.3h-13.0zM982.0 821.3h6.0v10.3h-6.0zM1640.0 821.3h29.0v10.3h-29.0zM474.0 831.5h6.0v10.3h-6.0zM562.0 831.5h26.0v10.3h-26.0zM307.0 841.8h20.0v10.3h-20.0zM333.0 841.8h2.0v10.3h-2.0zM462.0 841.8h15.0v10.3h-15.0zM865.0 841.8h16.0v10.3h-16.0zM948.0 841.8h5.0v10.3h-5.0zM1151.0 841.8h6.0v10.3h-6.0zM1182.0 841.8h8.0v10.3h-8.0zM1255.0 852.1h3.0v10.3h-3.0zM1304.0 852.1h13.0v10.3h-13.0zM1325.0 852.1h14.0v10.3h-14.0zM1300.0 862.3h4.0v10.3h-4.0zM1724.0 862.3h18.0v10.3h-18.0zM1746.0 862.3h10.0v10.3h-10.0zM1762.0 862.3h2.0v10.3h-2.0z"/><path fill="#5e00ff" d="M962.0 759.7h3.0v10.3h-3.0zM1065.0 759.7h4.0v10.3h-4.0zM1098.0 759.7h2.0v10.3h-2.0zM1217.0 759.7h2.0v10.3h-2.0zM1317.0 759.7h4.0v10.3h-4.0z"/><path fill="#ff926d" d="M603.0 769.9h3.0v10.3h-3.0zM646.0 769.9h4.0v10.3h-4.0zM1110.0 769.9h10.0v10.3h-10.0zM1470.0 790.5h2.0v10.3h-2.0zM797.0 841.8h19.0v10.3h-19.0z"/><path fill="#ffce31" d="M1668.0 769.9h1.0v10.3h-1.0zM1190.0 790.5h10.0v10.3h-10.0zM1249.0 790.5h8.0v10.3h-8.0zM1145.0 821.3h2.0v10.3h-2.0z"/><path fill="#ffec13" d="M1673.0 769.9h2.0v10.3h-2.0zM677.0 841.8h18.0v10.3h-18.0zM760.0 841.8h7.0v10.3h-7.0z"/><path fill="#f647b8" d="M597.0 831.5h33.0v10.3h-33.0zM770.0 831.5h20.0v10.3h-20.0zM597.0 841.8h24.0v10.3h-24.0zM1673.0 862.3h3.0v10.3h-3.0zM1684.0 862.3h8.0v10.3h-8.0zM1696.0 862.3h12.0v10.3h-12.0zM1712.0 862.3h8.0v10.3h-8.0z"/><path fill="#ffbf40" d="M750.0 841.8h10.0v10.3h-10.0zM767.0 841.8h8.0v10.3h-8.0zM785.0 841.8h12.0v10.3h-12.0z"/><path fill="#8d03fc" d="M1603.0 862.3h13.0v10.3h-13.0zM1620.0 862.3h45.0v10.3h-45.0z"/><rect x="102.0" y="51.10" width="1674.0" height="10.27" fill="url(#d0)"/><rect x="102.0" y="51.10" width="1674.0" height="10.27" fill="url(#l0)" style="mix-blend-mode:color-dodge"/><rect x="102.0" y="61.37" width="1674.0" height="10.27" fill="url(#d7)"/><rect x="102.0" y="61.37" width="1674.0" height="10.27" fill="url(#l7)" style="mix-blend-mode:color-dodge"/><rect x="102.0" y="71.64" width="1674.0" height="10.27" fill="url(#d14)"/><rect x="102.0" y="71.64" width="1674.0" height="10.27" fill="url(#l14)" style="mix-blend-mode:color-dodge"/><rect x="102.0" y="81.91" width="1674.0" height="10.27" fill="url(#d6)"/><rect x="102.0" y="81.91" width="1674.0" height="10.27" fill="url(#l6)" style="mix-blend-mode:color-dodge"/><rect x="102.0" y="92.18" width="1674.0" height="10.27" fill="url(#d13)"/><rect x="102.0" y="92.18" width="1674.0" height="10.27" fill="url(#l13)" style="mix-blend-mode:color-dodge"/><rect x="102.0" y="102.44" width="1674.0" height="10.27" fill="url(#d5)"/><rect x="102.0" y="102.44" width="1674.0" height="10.27" fill="url(#l5)" style="mix-blend-mode:color-dodge"/><rect x="102.0" y="112.71" width="1674.0" height="10.27" fill="url(#d12)"/><rect x="102.0" y="112.71" width="1674.0" height="10.27" fill="url(#l12)" style="mix-blend-mode:color-dodge"/><rect x="102.0" y="122.98" width="1674.0" height="10.27" fill="url(#d4)"/><rect x="102.0" y="122.98" width="1674.0" height="10.27" fill="url(#l4)" style="mix-blend-mode:color-dodge"/><rect x="102.0" y="133.25" width="1674.0" height="10.27" fill="url(#d11)"/><rect x="102.0" y="133.25" width="1674.0" height="10.27" fill="url(#l11)" style="mix-blend-mode:color-dodge"/><rect x="102.0" y="143.52" width="1674.0" height="10.27" fill="url(#d3)"/><rect x="102.0" y="143.52" width="1674.0" height="10.27" fill="url(#l3)" style="mix-blend-mode:color-dodge"/><rect x="102.0" y="153.79" width="1674.0" height="10.27" fill="url(#d10)"/><rect x="102.0" y="153.79" width="1674.0" height="10.27" fill="url(#l10)" style="mix-blend-mode:color-dodge"/><rect x="102.0" y="164.06" width="1674.0" height="10.27" fill="url(#d2)"/><rect x="102.0" y="164.06" width="1674.0" height="10.27" fill="url(#l2)" style="mix-blend-mode:color-dodge"/><rect x="102.0" y="174.33" width="1674.0" height="10.27" fill="url(#d9)"/><rect x="102.0" y="174.33" width="1674.0" height="10.27" fill="url(#l9)" style="mix-blend-mode:color-dodge"/><rect x="102.0" y="184.60" width="1674.0" height="10.27" fill="url(#d1)"/><rect x="102.0" y="184.60" width="1674.0" height="10.27" fill="url(#l1)" style="mix-blend-mode:color-dodge"/><rect x="102.0" y="194.86" width="1674.0" height="10.27" fill="url(#d8)"/><rect x="102.0" y="194.86" width="1674.0" height="10.27" fill="url(#l8)" style="mix-blend-mode:color-dodge"/><rect x="102.0" y="205.13" width="1674.0" height="10.27" fill="url(#d0)"/><rect x="102.0" y="205.13" width="1674.0" height="10.27" fill="url(#l0)" style="mix-blend-mode:color-dodge"/><rect x="102.0" y="215.40" width="1674.0" height="10.27" fill="url(#d7)"/><rect x="102.0" y="215.40" width="1674.0" height="10.27" fill="url(#l7)" style="mix-blend-mode:color-dodge"/><rect x="102.0" y="225.67" width="1674.0" height="10.27" fill="url(#d14)"/><rect x="102.0" y="225.67" width="1674.0" height="10.27" fill="url(#l14)" style="mix-blend-mode:color-dodge"/><rect x="102.0" y="235.94" width="1674.0" height="10.27" fill="url(#d6)"/><rect x="102.0" y="235.94" width="1674.0" height="10.27" fill="url(#l6)" style="mix-blend-mode:color-dodge"/><rect x="102.0" y="246.21" width="1674.0" height="10.27" fill="url(#d13)"/><rect x="102.0" y="246.21" width="1674.0" height="10.27" fill="url(#l13)" style="mix-blend-mode:color-dodge"/><rect x="102.0" y="256.48" width="1674.0" height="10.27" fill="url(#d5)"/><rect x="102.0" y="256.48" width="1674.0" height="10.27" fill="url(#l5)" style="mix-blend-mode:color-dodge"/><rect x="102.0" y="266.75" width="1674.0" height="10.27" fill="url(#d12)"/><rect x="102.0" y="266.75" width="1674.0" height="10.27" fill="url(#l12)" style="mix-blend-mode:color-dodge"/><rect x="102.0" y="277.02" width="1674.0" height="10.27" fill="url(#d4)"/><rect x="102.0" y="277.02" width="1674.0" height="10.27" fill="url(#l4)" style="mix-blend-mode:color-dodge"/><rect x="102.0" y="287.28" width="1674.0" height="10.27" fill="url(#d11)"/><rect x="102.0" y="287.28" width="1674.0" height="10.27" fill="url(#l11)" style="mix-blend-mode:color-dodge"/><rect x="102.0" y="297.55" width="1674.0" height="10.27" fill="url(#d3)"/><rect x="102.0" y="297.55" width="1674.0" height="10.27" fill="url(#l3)" style="mix-blend-mode:color-dodge"/><rect x="102.0" y="307.82" width="1674.0" height="10.27" fill="url(#d10)"/><rect x="102.0" y="307.82" width="1674.0" height="10.27" fill="url(#l10)" style="mix-blend-mode:color-dodge"/><rect x="102.0" y="318.09" width="1674.0" height="10.27" fill="url(#d2)"/><rect x="102.0" y="318.09" width="1674.0" height="10.27" fill="url(#l2)" style="mix-blend-mode:color-dodge"/><rect x="102.0" y="328.36" width="1674.0" height="10.27" fill="url(#d9)"/><rect x="102.0" y="328.36" width="1674.0" height="10.27" fill="url(#l9)" style="mix-blend-mode:color-dodge"/><rect x="102.0" y="338.63" width="1674.0" height="10.27" fill="url(#d1)"/><rect x="102.0" y="338.63" width="1674.0" height="10.27" fill="url(#l1)" style="mix-blend-mode:color-dodge"/><rect x="102.0" y="348.90" width="1674.0" height="10.27" fill="url(#d8)"/><rect x="102.0" y="348.90" width="1674.0" height="10.27" fill="url(#l8)" style="mix-blend-mode:color-dodge"/><rect x="102.0" y="359.17" width="1674.0" height="10.27" fill="url(#d0)"/><rect x="102.0" y="359.17" width="1674.0" height="10.27" fill="url(#l0)" style="mix-blend-mode:color-dodge"/><rect x="102.0" y="369.44" width="1674.0" height="10.27" fill="url(#d7)"/><rect x="102.0" y="369.44" width="1674.0" height="10.27" fill="url(#l7)" style="mix-blend-mode:color-dodge"/><rect x="102.0" y="379.70" width="1674.0" height="10.27" fill="url(#d14)"/><rect x="102.0" y="379.70" width="1674.0" height="10.27" fill="url(#l14)" style="mix-blend-mode:color-dodge"/><rect x="102.0" y="389.97" width="1674.0" height="10.27" fill="url(#d6)"/><rect x="102.0" y="389.97" width="1674.0" height="10.27" fill="url(#l6)" style="mix-blend-mode:color-dodge"/><rect x="102.0" y="400.24" width="1674.0" height="10.27" fill="url(#d13)"/><rect x="102.0" y="400.24" width="1674.0" height="10.27" fill="url(#l13)" style="mix-blend-mode:color-dodge"/><rect x="102.0" y="410.51" width="1674.0" height="10.27" fill="url(#d5)"/><rect x="102.0" y="410.51" width="1674.0" height="10.27" fill="url(#l5)" style="mix-blend-mode:color-dodge"/><rect x="102.0" y="420.78" width="1674.0" height="10.27" fill="url(#d12)"/><rect x="102.0" y="420.78" width="1674.0" height="10.27" fill="url(#l12)" style="mix-blend-mode:color-dodge"/><rect x="102.0" y="431.05" width="1674.0" height="10.27" fill="url(#d4)"/><rect x="102.0" y="431.05" width="1674.0" height="10.27" fill="url(#l4)" style="mix-blend-mode:color-dodge"/><rect x="102.0" y="441.32" width="1674.0" height="10.27" fill="url(#d11)"/><rect x="102.0" y="441.32" width="1674.0" height="10.27" fill="url(#l11)" style="mix-blend-mode:color-dodge"/><rect x="102.0" y="451.59" width="1674.0" height="10.27" fill="url(#d3)"/><rect x="102.0" y="451.59" width="1674.0" height="10.27" fill="url(#l3)" style="mix-blend-mode:color-dodge"/><rect x="102.0" y="461.86" width="1674.0" height="10.27" fill="url(#d10)"/><rect x="102.0" y="461.86" width="1674.0" height="10.27" fill="url(#l10)" style="mix-blend-mode:color-dodge"/><rect x="102.0" y="472.12" width="1674.0" height="10.27" fill="url(#d2)"/><rect x="102.0" y="472.12" width="1674.0" height="10.27" fill="url(#l2)" style="mix-blend-mode:color-dodge"/><rect x="102.0" y="482.39" width="1674.0" height="10.27" fill="url(#d9)"/><rect x="102.0" y="482.39" width="1674.0" height="10.27" fill="url(#l9)" style="mix-blend-mode:color-dodge"/><rect x="102.0" y="492.66" width="1674.0" height="10.27" fill="url(#d1)"/><rect x="102.0" y="492.66" width="1674.0" height="10.27" fill="url(#l1)" style="mix-blend-mode:color-dodge"/><rect x="102.0" y="502.93" width="1674.0" height="10.27" fill="url(#d8)"/><rect x="102.0" y="502.93" width="1674.0" height="10.27" fill="url(#l8)" style="mix-blend-mode:color-dodge"/><rect x="102.0" y="513.20" width="1674.0" height="10.27" fill="url(#d0)"/><rect x="102.0" y="513.20" width="1674.0" height="10.27" fill="url(#l0)" style="mix-blend-mode:color-dodge"/><rect x="102.0" y="523.47" width="1674.0" height="10.27" fill="url(#d7)"/><rect x="102.0" y="523.47" width="1674.0" height="10.27" fill="url(#l7)" style="mix-blend-mode:color-dodge"/><rect x="102.0" y="533.74" width="1674.0" height="10.27" fill="url(#d14)"/><rect x="102.0" y="533.74" width="1674.0" height="10.27" fill="url(#l14)" style="mix-blend-mode:color-dodge"/><rect x="102.0" y="544.01" width="1674.0" height="10.27" fill="url(#d6)"/><rect x="102.0" y="544.01" width="1674.0" height="10.27" fill="url(#l6)" style="mix-blend-mode:color-dodge"/><rect x="102.0" y="554.28" width="1674.0" height="10.27" fill="url(#d13)"/><rect x="102.0" y="554.28" width="1674.0" height="10.27" fill="url(#l13)" style="mix-blend-mode:color-dodge"/><rect x="102.0" y="564.54" width="1674.0" height="10.27" fill="url(#d5)"/><rect x="102.0" y="564.54" width="1674.0" height="10.27" fill="url(#l5)" style="mix-blend-mode:color-dodge"/><rect x="102.0" y="574.81" width="1674.0" height="10.27" fill="url(#d12)"/><rect x="102.0" y="574.81" width="1674.0" height="10.27" fill="url(#l12)" style="mix-blend-mode:color-dodge"/><rect x="102.0" y="585.08" width="1674.0" height="10.27" fill="url(#d4)"/><rect x="102.0" y="585.08" width="1674.0" height="10.27" fill="url(#l4)" style="mix-blend-mode:color-dodge"/><rect x="102.0" y="595.35" width="1674.0" height="10.27" fill="url(#d11)"/><rect x="102.0" y="595.35" width="1674.0" height="10.27" fill="url(#l11)" style="mix-blend-mode:color-dodge"/><rect x="102.0" y="605.62" width="1674.0" height="10.27" fill="url(#d3)"/><rect x="102.0" y="605.62" width="1674.0" height="10.27" fill="url(#l3)" style="mix-blend-mode:color-dodge"/><rect x="102.0" y="615.89" width="1674.0" height="10.27" fill="url(#d10)"/><rect x="102.0" y="615.89" width="1674.0" height="10.27" fill="url(#l10)" style="mix-blend-mode:color-dodge"/><rect x="102.0" y="626.16" width="1674.0" height="10.27" fill="url(#d2)"/><rect x="102.0" y="626.16" width="1674.0" height="10.27" fill="url(#l2)" style="mix-blend-mode:color-dodge"/><rect x="102.0" y="636.43" width="1674.0" height="10.27" fill="url(#d9)"/><rect x="102.0" y="636.43" width="1674.0" height="10.27" fill="url(#l9)" style="mix-blend-mode:color-dodge"/><rect x="102.0" y="646.70" width="1674.0" height="10.27" fill="url(#d1)"/><rect x="102.0" y="646.70" width="1674.0" height="10.27" fill="url(#l1)" style="mix-blend-mode:color-dodge"/><rect x="102.0" y="656.96" width="1674.0" height="10.27" fill="url(#d8)"/><rect x="102.0" y="656.96" width="1674.0" height="10.27" fill="url(#l8)" style="mix-blend-mode:color-dodge"/><rect x="102.0" y="667.23" width="1674.0" height="10.27" fill="url(#d0)"/><rect x="102.0" y="667.23" width="1674.0" height="10.27" fill="url(#l0)" style="mix-blend-mode:color-dodge"/><rect x="102.0" y="677.50" width="1674.0" height="10.27" fill="url(#d7)"/><rect x="102.0" y="677.50" width="1674.0" height="10.27" fill="url(#l7)" style="mix-blend-mode:color-dodge"/><rect x="102.0" y="687.77" width="1674.0" height="10.27" fill="url(#d14)"/><rect x="102.0" y="687.77" width="1674.0" height="10.27" fill="url(#l14)" style="mix-blend-mode:color-dodge"/><rect x="102.0" y="698.04" width="1674.0" height="10.27" fill="url(#d6)"/><rect x="102.0" y="698.04" width="1674.0" height="10.27" fill="url(#l6)" style="mix-blend-mode:color-dodge"/><rect x="102.0" y="708.31" width="1674.0" height="10.27" fill="url(#d13)"/><rect x="102.0" y="708.31" width="1674.0" height="10.27" fill="url(#l13)" style="mix-blend-mode:color-dodge"/><rect x="102.0" y="718.58" width="1674.0" height="10.27" fill="url(#d5)"/><rect x="102.0" y="718.58" width="1674.0" height="10.27" fill="url(#l5)" style="mix-blend-mode:color-dodge"/><rect x="102.0" y="728.85" width="1674.0" height="10.27" fill="url(#d12)"/><rect x="102.0" y="728.85" width="1674.0" height="10.27" fill="url(#l12)" style="mix-blend-mode:color-dodge"/><rect x="102.0" y="739.12" width="1674.0" height="10.27" fill="url(#d4)"/><rect x="102.0" y="739.12" width="1674.0" height="10.27" fill="url(#l4)" style="mix-blend-mode:color-dodge"/><rect x="102.0" y="749.38" width="1674.0" height="10.27" fill="url(#d11)"/><rect x="102.0" y="749.38" width="1674.0" height="10.27" fill="url(#l11)" style="mix-blend-mode:color-dodge"/><rect x="102.0" y="759.65" width="1674.0" height="10.27" fill="url(#d3)"/><rect x="102.0" y="759.65" width="1674.0" height="10.27" fill="url(#l3)" style="mix-blend-mode:color-dodge"/><rect x="102.0" y="769.92" width="1674.0" height="10.27" fill="url(#d10)"/><rect x="102.0" y="769.92" width="1674.0" height="10.27" fill="url(#l10)" style="mix-blend-mode:color-dodge"/><rect x="102.0" y="780.19" width="1674.0" height="10.27" fill="url(#d2)"/><rect x="102.0" y="780.19" width="1674.0" height="10.27" fill="url(#l2)" style="mix-blend-mode:color-dodge"/><rect x="102.0" y="790.46" width="1674.0" height="10.27" fill="url(#d9)"/><rect x="102.0" y="790.46" width="1674.0" height="10.27" fill="url(#l9)" style="mix-blend-mode:color-dodge"/><rect x="102.0" y="800.73" width="1674.0" height="10.27" fill="url(#d1)"/><rect x="102.0" y="800.73" width="1674.0" height="10.27" fill="url(#l1)" style="mix-blend-mode:color-dodge"/><rect x="102.0" y="811.00" width="1674.0" height="10.27" fill="url(#d8)"/><rect x="102.0" y="811.00" width="1674.0" height="10.27" fill="url(#l8)" style="mix-blend-mode:color-dodge"/><rect x="102.0" y="821.27" width="1674.0" height="10.27" fill="url(#d0)"/><rect x="102.0" y="821.27" width="1674.0" height="10.27" fill="url(#l0)" style="mix-blend-mode:color-dodge"/><rect x="102.0" y="831.54" width="1674.0" height="10.27" fill="url(#d7)"/><rect x="102.0" y="831.54" width="1674.0" height="10.27" fill="url(#l7)" style="mix-blend-mode:color-dodge"/><rect x="102.0" y="841.80" width="1674.0" height="10.27" fill="url(#d14)"/><rect x="102.0" y="841.80" width="1674.0" height="10.27" fill="url(#l14)" style="mix-blend-mode:color-dodge"/><rect x="102.0" y="852.07" width="1674.0" height="10.27" fill="url(#d6)"/><rect x="102.0" y="852.07" width="1674.0" height="10.27" fill="url(#l6)" style="mix-blend-mode:color-dodge"/><rect x="102.0" y="862.34" width="1674.0" height="10.27" fill="url(#d13)"/><rect x="102.0" y="862.34" width="1674.0" height="10.27" fill="url(#l13)" style="mix-blend-mode:color-dodge"/><rect x="102.0" y="872.61" width="1674.0" height="10.27" fill="url(#d5)"/><rect x="102.0" y="872.61" width="1674.0" height="10.27" fill="url(#l5)" style="mix-blend-mode:color-dodge"/><rect x="102.0" y="882.88" width="1674.0" height="10.27" fill="url(#d12)"/><rect x="102.0" y="882.88" width="1674.0" height="10.27" fill="url(#l12)" style="mix-blend-mode:color-dodge"/><rect x="102.0" y="893.15" width="1674.0" height="10.27" fill="url(#d4)"/><rect x="102.0" y="893.15" width="1674.0" height="10.27" fill="url(#l4)" style="mix-blend-mode:color-dodge"/><rect x="102.0" y="903.42" width="1674.0" height="10.27" fill="url(#d11)"/><rect x="102.0" y="903.42" width="1674.0" height="10.27" fill="url(#l11)" style="mix-blend-mode:color-dodge"/><rect x="102.0" y="913.69" width="1674.0" height="10.27" fill="url(#d3)"/><rect x="102.0" y="913.69" width="1674.0" height="10.27" fill="url(#l3)" style="mix-blend-mode:color-dodge"/><rect x="102.0" y="923.96" width="1674.0" height="10.27" fill="url(#d10)"/><rect x="102.0" y="923.96" width="1674.0" height="10.27" fill="url(#l10)" style="mix-blend-mode:color-dodge"/><rect x="102.0" y="934.22" width="1674.0" height="10.27" fill="url(#d2)"/><rect x="102.0" y="934.22" width="1674.0" height="10.27" fill="url(#l2)" style="mix-blend-mode:color-dodge"/><rect x="102.0" y="944.49" width="1674.0" height="10.27" fill="url(#d9)"/><rect x="102.0" y="944.49" width="1674.0" height="10.27" fill="url(#l9)" style="mix-blend-mode:color-dodge"/><rect x="102.0" y="954.76" width="1674.0" height="10.27" fill="url(#d1)"/><rect x="102.0" y="954.76" width="1674.0" height="10.27" fill="url(#l1)" style="mix-blend-mode:color-dodge"/><rect x="102.0" y="965.03" width="1674.0" height="10.27" fill="url(#d8)"/><rect x="102.0" y="965.03" width="1674.0" height="10.27" fill="url(#l8)" style="mix-blend-mode:color-dodge"/><path fill="#8100ff" fill-opacity="0.5" d="M447.0 215.4h17.0v10.3h-17.0zM566.0 749.4h16.0v10.3h-16.0zM185.0 759.7h3.0v10.3h-3.0zM987.0 759.7h3.0v10.3h-3.0zM1169.0 759.7h3.0v10.3h-3.0zM1196.0 759.7h3.0v10.3h-3.0zM1300.0 759.7h3.0v10.3h-3.0zM1383.0 759.7h5.0v10.3h-5.0zM1545.0 759.7h2.0v10.3h-2.0zM1772.0 759.7h4.0v10.3h-4.0zM294.0 769.9h4.0v10.3h-4.0zM352.0 769.9h3.0v10.3h-3.0zM455.0 769.9h2.0v10.3h-2.0zM487.0 769.9h3.0v10.3h-3.0zM932.0 769.9h7.0v10.3h-7.0zM1038.0 769.9h2.0v10.3h-2.0zM1239.0 769.9h3.0v10.3h-3.0zM1341.0 769.9h3.0v10.3h-3.0zM1697.0 769.9h2.0v10.3h-2.0zM1724.0 769.9h2.0v10.3h-2.0zM554.0 780.2h8.0v10.3h-8.0zM555.0 790.5h7.0v10.3h-7.0zM652.0 790.5h16.0v10.3h-16.0zM1153.0 790.5h7.0v10.3h-7.0zM1341.0 790.5h8.0v10.3h-8.0zM1636.0 790.5h10.0v10.3h-10.0zM1689.0 790.5h4.0v10.3h-4.0zM940.0 811.0h61.0v10.3h-61.0zM1487.0 811.0h6.0v10.3h-6.0zM1770.0 811.0h6.0v10.3h-6.0zM940.0 821.3h35.0v10.3h-35.0zM978.0 821.3h4.0v10.3h-4.0zM988.0 821.3h16.0v10.3h-16.0zM1329.0 821.3h89.0v10.3h-89.0zM1425.0 821.3h3.0v10.3h-3.0zM1489.0 821.3h39.0v10.3h-39.0zM450.0 831.5h24.0v10.3h-24.0zM480.0 831.5h11.0v10.3h-11.0zM521.0 831.5h41.0v10.3h-41.0zM588.0 831.5h9.0v10.3h-9.0zM630.0 831.5h4.0v10.3h-4.0zM664.0 831.5h6.0v10.3h-6.0zM730.0 831.5h16.0v10.3h-16.0zM662.0 841.8h15.0v10.3h-15.0zM944.0 841.8h4.0v10.3h-4.0zM953.0 841.8h14.0v10.3h-14.0zM1030.0 841.8h10.0v10.3h-10.0zM1095.0 841.8h7.0v10.3h-7.0zM1108.0 841.8h8.0v10.3h-8.0zM1122.0 841.8h6.0v10.3h-6.0zM1339.0 852.1h20.0v10.3h-20.0zM292.0 862.3h6.0v10.3h-6.0zM470.0 862.3h31.0v10.3h-31.0zM1089.0 862.3h13.0v10.3h-13.0zM1422.0 862.3h16.0v10.3h-16.0zM1461.0 862.3h20.0v10.3h-20.0zM1544.0 862.3h21.0v10.3h-21.0zM1575.0 862.3h8.0v10.3h-8.0z"/><path fill="#980bf4" fill-opacity="0.5" d="M470.0 215.4h10.0v10.3h-10.0zM494.0 215.4h8.0v10.3h-8.0zM716.0 687.8h3.0v10.3h-3.0zM762.0 687.8h1.0v10.3h-1.0zM809.0 687.8h2.0v10.3h-2.0zM854.0 687.8h3.0v10.3h-3.0zM900.0 687.8h3.0v10.3h-3.0zM233.0 759.7h4.0v10.3h-4.0zM265.0 759.7h4.0v10.3h-4.0zM520.0 759.7h3.0v10.3h-3.0zM581.0 759.7h2.0v10.3h-2.0zM622.0 759.7h4.0v10.3h-4.0zM878.0 759.7h3.0v10.3h-3.0zM1145.0 759.7h4.0v10.3h-4.0zM1266.0 759.7h4.0v10.3h-4.0zM1100.0 780.2h6.0v10.3h-6.0zM912.0 790.5h6.0v10.3h-6.0zM1073.0 800.7h14.0v10.3h-14.0zM1506.0 852.1h38.0v10.3h-38.0zM335.0 862.3h27.0v10.3h-27.0z"/><path fill="#ff659a" fill-opacity="0.5" d="M480.0 215.4h14.0v10.3h-14.0zM432.0 790.5h10.0v10.3h-10.0zM1006.0 790.5h9.0v10.3h-9.0zM670.0 831.5h25.0v10.3h-25.0zM327.0 841.8h6.0v10.3h-6.0zM695.0 841.8h14.0v10.3h-14.0zM1481.0 852.1h25.0v10.3h-25.0zM1371.0 862.3h8.0v10.3h-8.0z"/><path fill="#ff56a9" fill-opacity="0.5" d="M568.0 215.4h12.0v10.3h-12.0zM196.0 698.0h2.0v10.3h-2.0zM1128.0 749.4h17.0v10.3h-17.0zM1116.0 759.7h4.0v10.3h-4.0zM233.0 769.9h4.0v10.3h-4.0zM265.0 769.9h4.0v10.3h-4.0zM520.0 769.9h3.0v10.3h-3.0zM581.0 769.9h2.0v10.3h-2.0zM622.0 769.9h4.0v10.3h-4.0zM878.0 769.9h3.0v10.3h-3.0zM1145.0 769.9h4.0v10.3h-4.0zM1266.0 769.9h4.0v10.3h-4.0zM1383.0 769.9h5.0v10.3h-5.0zM1656.0 780.2h11.0v10.3h-11.0zM869.0 790.5h8.0v10.3h-8.0zM967.0 790.5h8.0v10.3h-8.0zM1384.0 790.5h4.0v10.3h-4.0zM1442.0 790.5h2.0v10.3h-2.0zM1722.0 790.5h2.0v10.3h-2.0zM906.0 811.0h4.0v10.3h-4.0zM1400.0 811.0h3.0v10.3h-3.0zM1428.0 811.0h3.0v10.3h-3.0zM1418.0 821.3h7.0v10.3h-7.0zM1597.0 821.3h12.0v10.3h-12.0zM1683.0 821.3h4.0v10.3h-4.0zM501.0 831.5h20.0v10.3h-20.0zM376.0 841.8h7.0v10.3h-7.0zM390.0 841.8h7.0v10.3h-7.0zM648.0 841.8h14.0v10.3h-14.0zM1438.0 852.1h19.0v10.3h-19.0zM1481.0 862.3h21.0v10.3h-21.0zM1565.0 862.3h10.0v10.3h-10.0zM1583.0 862.3h8.0v10.3h-8.0zM1616.0 862.3h4.0v10.3h-4.0z"/><path fill="#ffb04f" fill-opacity="0.5" d="M644.0 215.4h8.0v10.3h-8.0zM660.0 215.4h6.0v10.3h-6.0zM684.0 790.5h9.0v10.3h-9.0zM723.0 790.5h9.0v10.3h-9.0zM1286.0 790.5h10.0v10.3h-10.0zM1438.0 862.3h17.0v10.3h-17.0z"/><path fill="#ffdd22" fill-opacity="0.5" d="M652.0 215.4h8.0v10.3h-8.0zM775.0 841.8h10.0v10.3h-10.0zM1514.0 862.3h8.0v10.3h-8.0z"/><path fill="#ff837c" fill-opacity="0.5" d="M118.0 687.8h4.0v10.3h-4.0zM141.0 687.8h4.0v10.3h-4.0zM164.0 687.8h4.0v10.3h-4.0zM187.0 687.8h4.0v10.3h-4.0zM210.0 687.8h4.0v10.3h-4.0zM233.0 687.8h4.0v10.3h-4.0zM256.0 687.8h4.0v10.3h-4.0zM279.0 687.8h4.0v10.3h-4.0zM302.0 687.8h4.0v10.3h-4.0zM325.0 687.8h4.0v10.3h-4.0zM347.0 687.8h4.0v10.3h-4.0zM370.0 687.8h4.0v10.3h-4.0zM393.0 687.8h4.0v10.3h-4.0zM416.0 687.8h4.0v10.3h-4.0zM439.0 687.8h4.0v10.3h-4.0zM462.0 687.8h4.0v10.3h-4.0zM485.0 687.8h4.0v10.3h-4.0zM508.0 687.8h4.0v10.3h-4.0zM531.0 687.8h4.0v10.3h-4.0zM554.0 687.8h4.0v10.3h-4.0zM577.0 687.8h3.0v10.3h-3.0zM383.0 841.8h7.0v10.3h-7.0z"/><path fill="#ffa15e" fill-opacity="0.5" d="M597.0 687.8h6.0v10.3h-6.0zM1506.0 862.3h8.0v10.3h-8.0zM1522.0 862.3h22.0v10.3h-22.0z"/><path fill="#ff748b" fill-opacity="0.5" d="M619.0 687.8h8.0v10.3h-8.0zM643.0 687.8h6.0v10.3h-6.0zM164.0 769.9h4.0v10.3h-4.0zM322.0 769.9h4.0v10.3h-4.0zM426.0 769.9h4.0v10.3h-4.0zM551.0 769.9h11.0v10.3h-11.0zM702.0 769.9h3.0v10.3h-3.0zM729.0 769.9h4.0v10.3h-4.0zM1008.0 769.9h3.0v10.3h-3.0zM1671.0 780.2h6.0v10.3h-6.0zM1624.0 790.5h10.0v10.3h-10.0zM388.0 811.0h2.0v10.3h-2.0zM975.0 821.3h3.0v10.3h-3.0zM730.0 841.8h20.0v10.3h-20.0zM1317.0 852.1h8.0v10.3h-8.0zM1382.0 862.3h22.0v10.3h-22.0zM1409.0 862.3h13.0v10.3h-13.0zM1676.0 862.3h8.0v10.3h-8.0zM1692.0 862.3h4.0v10.3h-4.0zM1708.0 862.3h4.0v10.3h-4.0zM1742.0 862.3h4.0v10.3h-4.0zM1756.0 862.3h6.0v10.3h-6.0z"/><path fill="#c729d6" fill-opacity="0.5" d="M763.0 687.8h4.0v10.3h-4.0zM805.0 687.8h4.0v10.3h-4.0zM634.0 831.5h30.0v10.3h-30.0zM752.0 831.5h18.0v10.3h-18.0zM790.0 831.5h22.0v10.3h-22.0z"/><path fill="#bc21de" fill-opacity="0.5" d="M164.0 759.7h4.0v10.3h-4.0zM322.0 759.7h4.0v10.3h-4.0zM426.0 759.7h4.0v10.3h-4.0zM551.0 759.7h4.0v10.3h-4.0zM702.0 759.7h3.0v10.3h-3.0zM729.0 759.7h4.0v10.3h-4.0z"/><path fill="#b01ae5" fill-opacity="0.5" d="M555.0 759.7h25.0v10.3h-25.0zM1008.0 759.7h3.0v10.3h-3.0zM1132.0 759.7h13.0v10.3h-13.0zM962.0 769.9h3.0v10.3h-3.0zM1065.0 769.9h4.0v10.3h-4.0zM1098.0 769.9h2.0v10.3h-2.0zM1217.0 769.9h2.0v10.3h-2.0zM1317.0 769.9h4.0v10.3h-4.0zM1377.0 780.2h15.0v10.3h-15.0zM163.0 790.5h2.0v10.3h-2.0zM617.0 790.5h10.0v10.3h-10.0zM192.0 811.0h4.0v10.3h-4.0zM396.0 811.0h2.0v10.3h-2.0zM1108.0 821.3h37.0v10.3h-37.0zM1147.0 821.3h10.0v10.3h-10.0zM1276.0 821.3h30.0v10.3h-30.0zM1571.0 821.3h26.0v10.3h-26.0zM1609.0 821.3h17.0v10.3h-17.0zM695.0 831.5h10.0v10.3h-10.0zM288.0 841.8h8.0v10.3h-8.0zM709.0 841.8h21.0v10.3h-21.0zM816.0 841.8h20.0v10.3h-20.0zM844.0 841.8h15.0v10.3h-15.0zM1359.0 852.1h45.0v10.3h-45.0zM1408.0 852.1h30.0v10.3h-30.0zM1457.0 852.1h24.0v10.3h-24.0zM1333.0 862.3h6.0v10.3h-6.0zM1343.0 862.3h4.0v10.3h-4.0z"/><path fill="#df38c7" fill-opacity="0.5" d="M603.0 759.7h3.0v10.3h-3.0zM646.0 759.7h4.0v10.3h-4.0zM1110.0 759.7h6.0v10.3h-6.0zM185.0 769.9h3.0v10.3h-3.0zM987.0 769.9h3.0v10.3h-3.0zM1169.0 769.9h3.0v10.3h-3.0zM1196.0 769.9h3.0v10.3h-3.0zM1300.0 769.9h3.0v10.3h-3.0zM1772.0 769.9h4.0v10.3h-4.0zM282.0 790.5h9.0v10.3h-9.0zM329.0 790.5h5.0v10.3h-5.0zM378.0 790.5h1.0v10.3h-1.0zM523.0 790.5h4.0v10.3h-4.0zM1081.0 790.5h6.0v10.3h-6.0zM1218.0 790.5h2.0v10.3h-2.0zM1359.0 790.5h2.0v10.3h-2.0zM1671.0 790.5h8.0v10.3h-8.0zM208.0 811.0h7.0v10.3h-7.0zM1108.0 811.0h4.0v10.3h-4.0zM1120.0 811.0h4.0v10.3h-4.0zM1147.0 811.0h13.0v10.3h-13.0zM982.0 821.3h6.0v10.3h-6.0zM1640.0 821.3h29.0v10.3h-29.0zM474.0 831.5h6.0v10.3h-6.0zM562.0 831.5h26.0v10.3h-26.0zM307.0 841.8h20.0v10.3h-20.0zM333.0 841.8h2.0v10.3h-2.0zM462.0 841.8h15.0v10.3h-15.0zM865.0 841.8h16.0v10.3h-16.0zM948.0 841.8h5.0v10.3h-5.0zM1151.0 841.8h6.0v10.3h-6.0zM1182.0 841.8h8.0v10.3h-8.0zM1255.0 852.1h3.0v10.3h-3.0zM1304.0 852.1h13.0v10.3h-13.0zM1325.0 852.1h14.0v10.3h-14.0zM1300.0 862.3h4.0v10.3h-4.0zM1724.0 862.3h18.0v10.3h-18.0zM1746.0 862.3h10.0v10.3h-10.0zM1762.0 862.3h2.0v10.3h-2.0z"/><path fill="#ff926d" fill-opacity="0.5" d="M603.0 769.9h3.0v10.3h-3.0zM646.0 769.9h4.0v10.3h-4.0zM1110.0 769.9h10.0v10.3h-10.0zM1470.0 790.5h2.0v10.3h-2.0zM797.0 841.8h19.0v10.3h-19.0z"/><path fill="#ffce31" fill-opacity="0.5" d="M1668.0 769.9h1.0v10.3h-1.0zM1190.0 790.5h10.0v10.3h-10.0zM1249.0 790.5h8.0v10.3h-8.0zM1145.0 821.3h2.0v10.3h-2.0z"/><path fill="#ffec13" fill-opacity="0.5" d="M1673.0 769.9h2.0v10.3h-2.0zM677.0 841.8h18.0v10.3h-18.0zM760.0 841.8h7.0v10.3h-7.0z"/><path fill="#f647b8" fill-opacity="0.5" d="M597.0 831.5h33.0v10.3h-33.0zM770.0 831.5h20.0v10.3h-20.0zM597.0 841.8h24.0v10.3h-24.0zM1673.0 862.3h3.0v10.3h-3.0zM1684.0 862.3h8.0v10.3h-8.0zM1696.0 862.3h12.0v10.3h-12.0zM1712.0 862.3h8.0v10.3h-8.0z"/><path fill="#ffbf40" fill-opacity="0.5" d="M750.0 841.8h10.0v10.3h-10.0zM767.0 841.8h8.0v10.3h-8.0zM785.0 841.8h12.0v10.3h-12.0z"/><path fill="#8d03fc" fill-opacity="0.5" d="M1603.0 862.3h13.0v10.3h-13.0zM1620.0 862.3h45.0v10.3h-45.0z"/></g><rect x="102.00" y="51.10" width="1674.00" height="924.20" fill="none" stroke="#000" stroke-width="1.5" shape-rendering="geometricPrecision"/><g fill="#000"><text x="199.09" y="40.80" font-size="39.00" textLength="210.43" lengthAdjust="spacingAndGlyphs">2022/11/12</text><text x="432.03" y="40.80" font-size="39.00" textLength="104.04" lengthAdjust="spacingAndGlyphs">Radio</text><text x="549.00" y="40.80" font-size="39.00" textLength="65.85" lengthAdjust="spacingAndGlyphs">flux</text><text x="627.50" y="40.80" font-size="39.00" textLength="147.34" lengthAdjust="spacingAndGlyphs">density,</text><text x="785.02" y="40.80" font-size="39.00" textLength="212.45" lengthAdjust="spacingAndGlyphs">e-CALLISTO</text><text x="1009.20" y="40.80" font-size="39.00" textLength="394.14" lengthAdjust="spacingAndGlyphs">(SWISS-HEITERSWIL),</text><text x="1412.69" y="40.80" font-size="39.00" textLength="208.49" lengthAdjust="spacingAndGlyphs">Focuscode:</text><text x="1631.73" y="40.80" font-size="39.00" textLength="46.45" lengthAdjust="spacingAndGlyphs">59</text><rect x="95.80" y="908.40" width="6.2" height="1.4"/><text x="52.10" y="920.40" font-size="31.00" textLength="37.51" lengthAdjust="spacingAndGlyphs">20</text><rect x="95.80" y="774.20" width="6.2" height="1.4"/><text x="52.53" y="786.20" font-size="31.00" textLength="37.07" lengthAdjust="spacingAndGlyphs">30</text><rect x="95.80" y="640.00" width="6.2" height="1.4"/><text x="53.05" y="652.00" font-size="31.00" textLength="36.54" lengthAdjust="spacingAndGlyphs">40</text><rect x="95.80" y="505.80" width="6.2" height="1.4"/><text x="52.46" y="517.80" font-size="31.00" textLength="37.14" lengthAdjust="spacingAndGlyphs">50</text><rect x="95.80" y="371.60" width="6.2" height="1.4"/><text x="52.09" y="383.60" font-size="31.00" textLength="37.53" lengthAdjust="spacingAndGlyphs">60</text><rect x="95.80" y="237.40" width="6.2" height="1.4"/><text x="52.07" y="249.40" font-size="31.00" textLength="37.55" lengthAdjust="spacingAndGlyphs">70</text><rect x="95.80" y="103.20" width="6.2" height="1.4"/><text x="52.34" y="115.20" font-size="31.00" textLength="37.26" lengthAdjust="spacingAndGlyphs">80</text><rect x="101.30" y="975.30" width="1.4" height="6.2"/><text x="58.37" y="1009.80" font-size="31.00" textLength="85.36" lengthAdjust="spacingAndGlyphs">09:15</text><rect x="212.90" y="975.30" width="1.4" height="6.2"/><text x="169.97" y="1009.80" font-size="31.00" textLength="85.43" lengthAdjust="spacingAndGlyphs">09:16</text><rect x="324.50" y="975.30" width="1.4" height="6.2"/><text x="281.56" y="1009.80" font-size="31.00" textLength="85.66" lengthAdjust="spacingAndGlyphs">09:17</text><rect x="436.10" y="975.30" width="1.4" height="6.2"/><text x="393.17" y="1009.80" font-size="31.00" textLength="85.42" lengthAdjust="spacingAndGlyphs">09:18</text><rect x="547.70" y="975.30" width="1.4" height="6.2"/><text x="504.76" y="1009.80" font-size="31.00" textLength="85.55" lengthAdjust="spacingAndGlyphs">09:19</text><rect x="659.30" y="975.30" width="1.4" height="6.2"/><text x="616.37" y="1009.80" font-size="31.00" textLength="85.26" lengthAdjust="spacingAndGlyphs">09:20</text><rect x="770.90" y="975.30" width="1.4" height="6.2"/><text x="727.96" y="1009.80" font-size="31.00" textLength="85.61" lengthAdjust="spacingAndGlyphs">09:21</text><rect x="882.50" y="975.30" width="1.4" height="6.2"/><text x="839.56" y="1009.80" font-size="31.00" textLength="85.66" lengthAdjust="spacingAndGlyphs">09:22</text><rect x="994.10" y="975.30" width="1.4" height="6.2"/><text x="951.17" y="1009.80" font-size="31.00" textLength="85.43" lengthAdjust="spacingAndGlyphs">09:23</text><rect x="1105.70" y="975.30" width="1.4" height="6.2"/><text x="1062.77" y="1009.80" font-size="31.00" textLength="84.92" lengthAdjust="spacingAndGlyphs">09:24</text><rect x="1217.30" y="975.30" width="1.4" height="6.2"/><text x="1174.37" y="1009.80" font-size="31.00" textLength="85.36" lengthAdjust="spacingAndGlyphs">09:25</text><rect x="1328.90" y="975.30" width="1.4" height="6.2"/><text x="1285.97" y="1009.80" font-size="31.00" textLength="85.43" lengthAdjust="spacingAndGlyphs">09:26</text><rect x="1440.50" y="975.30" width="1.4" height="6.2"/><text x="1397.56" y="1009.80" font-size="31.00" textLength="85.66" lengthAdjust="spacingAndGlyphs">09:27</text><rect x="1552.10" y="975.30" width="1.4" height="6.2"/><text x="1509.17" y="1009.80" font-size="31.00" textLength="85.42" lengthAdjust="spacingAndGlyphs">09:28</text><rect x="1663.70" y="975.30" width="1.4" height="6.2"/><text x="1620.76" y="1009.80" font-size="31.00" textLength="85.55" lengthAdjust="spacingAndGlyphs">09:29</text><text x="741.80" y="1048.80" font-size="35.50" textLength="204.97" lengthAdjust="spacingAndGlyphs">Observation</text><text x="955.89" y="1048.80" font-size="35.50" textLength="75.69" lengthAdjust="spacingAndGlyphs">time</text><text x="1041.85" y="1048.80" font-size="35.50" textLength="93.40" lengthAdjust="spacingAndGlyphs">[UTC]</text><text transform="translate(36.90 652.80) rotate(-90)" x="-3.03" y="0" font-size="35.50" textLength="174.60" lengthAdjust="spacingAndGlyphs">Frequency</text><text transform="translate(36.90 466.60) rotate(-90)" x="-2.63" y="0" font-size="35.50" textLength="96.47" lengthAdjust="spacingAndGlyphs">[MHz]</text><text transform="translate(2027.00 689.40) rotate(-90)" x="-1.48" y="0" font-size="35.50" textLength="43.25" lengthAdjust="spacingAndGlyphs">dB</text><text transform="translate(2027.00 633.80) rotate(-90)" x="-1.59" y="0" font-size="35.50" textLength="102.06" lengthAdjust="spacingAndGlyphs">above</text><text transform="translate(2027.00 520.20) rotate(-90)" x="-2.44" y="0" font-size="35.50" textLength="197.47" lengthAdjust="spacingAndGlyphs">background</text></g><linearGradient id="cb" x1="0" y1="0" x2="0" y2="1"><stop offset="0.0000" stop-color="#ffffff"/><stop offset="0.0147" stop-color="#ffffd0"/><stop offset="0.0294" stop-color="#ffffa1"/><stop offset="0.0441" stop-color="#ffff72"/><stop offset="0.0588" stop-color="#ffff43"/><stop offset="0.0735" stop-color="#ffff15"/><stop offset="0.0882" stop-color="#fffb04"/><stop offset="0.1029" stop-color="#fff30c"/><stop offset="0.1176" stop-color="#ffec13"/><stop offset="0.1324" stop-color="#ffe41b"/><stop offset="0.1471" stop-color="#ffdd22"/><stop offset="0.1618" stop-color="#ffd52a"/><stop offset="0.1765" stop-color="#ffce31"/><stop offset="0.1912" stop-color="#ffc639"/><stop offset="0.2059" stop-color="#ffbf40"/><stop offset="0.2206" stop-color="#ffb748"/><stop offset="0.2353" stop-color="#ffb04f"/><stop offset="0.2500" stop-color="#ffa857"/><stop offset="0.2647" stop-color="#ffa15e"/><stop offset="0.2794" stop-color="#ff9966"/><stop offset="0.2941" stop-color="#ff926d"/><stop offset="0.3088" stop-color="#ff8a75"/><stop offset="0.3235" stop-color="#ff837c"/><stop offset="0.3382" stop-color="#ff7b84"/><stop offset="0.3529" stop-color="#ff748b"/><stop offset="0.3676" stop-color="#ff6c93"/><stop offset="0.3824" stop-color="#ff659a"/><stop offset="0.3971" stop-color="#ff5da2"/><stop offset="0.4118" stop-color="#ff56a9"/><stop offset="0.4265" stop-color="#ff4eb1"/><stop offset="0.4412" stop-color="#f647b8"/><stop offset="0.4559" stop-color="#ea3fc0"/><stop offset="0.4706" stop-color="#df38c7"/><stop offset="0.4853" stop-color="#d330cf"/><stop offset="0.5000" stop-color="#c729d6"/><stop offset="0.5147" stop-color="#bc21de"/><stop offset="0.5294" stop-color="#b01ae5"/><stop offset="0.5441" stop-color="#a412ed"/><stop offset="0.5588" stop-color="#980bf4"/><stop offset="0.5735" stop-color="#8d03fc"/><stop offset="0.5882" stop-color="#8100ff"/><stop offset="0.6029" stop-color="#7500ff"/><stop offset="0.6176" stop-color="#6900ff"/><stop offset="0.6324" stop-color="#5e00ff"/><stop offset="0.6471" stop-color="#5200ff"/><stop offset="0.6618" stop-color="#4600ff"/><stop offset="0.6765" stop-color="#3b00ff"/><stop offset="0.6912" stop-color="#2f00ff"/><stop offset="0.7059" stop-color="#2300ff"/><stop offset="0.7206" stop-color="#1700ff"/><stop offset="0.7353" stop-color="#0c00ff"/><stop offset="0.7500" stop-color="#0000ff"/><stop offset="0.7647" stop-color="#0000f0"/><stop offset="0.7794" stop-color="#0000e1"/><stop offset="0.7941" stop-color="#0000d2"/><stop offset="0.8088" stop-color="#0000c3"/><stop offset="0.8235" stop-color="#0000b4"/><stop offset="0.8382" stop-color="#0000a5"/><stop offset="0.8529" stop-color="#000096"/><stop offset="0.8676" stop-color="#000087"/><stop offset="0.8824" stop-color="#000078"/><stop offset="0.8971" stop-color="#000069"/><stop offset="0.9118" stop-color="#00005a"/><stop offset="0.9265" stop-color="#00004b"/><stop offset="0.9412" stop-color="#00003c"/><stop offset="0.9559" stop-color="#00002d"/><stop offset="0.9706" stop-color="#00001e"/><stop offset="0.9853" stop-color="#00000f"/><stop offset="1.0000" stop-color="#000000"/></linearGradient><rect x="1916.60" y="27.00" width="42.80" height="960.30" fill="url(#cb)" stroke="#000" stroke-width="1.4"/><g fill="#000"><rect x="1959.40" y="986.60" width="6" height="1.4"/><text x="1972.03" y="993.70" font-size="17.60" textLength="22.46" lengthAdjust="spacingAndGlyphs">&#8722;2</text><rect x="1959.40" y="873.62" width="6" height="1.4"/><text x="1972.22" y="880.72" font-size="17.60" textLength="11.05" lengthAdjust="spacingAndGlyphs">0</text><rect x="1959.40" y="760.65" width="6" height="1.4"/><text x="1971.95" y="767.75" font-size="17.60" textLength="11.60" lengthAdjust="spacingAndGlyphs">2</text><rect x="1959.40" y="647.67" width="6" height="1.4"/><text x="1972.57" y="654.77" font-size="17.60" textLength="10.48" lengthAdjust="spacingAndGlyphs">4</text><rect x="1959.40" y="534.69" width="6" height="1.4"/><text x="1971.95" y="541.79" font-size="17.60" textLength="11.45" lengthAdjust="spacingAndGlyphs">6</text><rect x="1959.40" y="421.72" width="6" height="1.4"/><text x="1972.12" y="428.82" font-size="17.60" textLength="11.26" lengthAdjust="spacingAndGlyphs">8</text><rect x="1959.40" y="308.74" width="6" height="1.4"/><text x="1971.66" y="315.84" font-size="17.60" textLength="19.63" lengthAdjust="spacingAndGlyphs">10</text><rect x="1959.40" y="195.76" width="6" height="1.4"/><text x="1971.64" y="202.86" font-size="17.60" textLength="19.86" lengthAdjust="spacingAndGlyphs">12</text><rect x="1959.40" y="82.79" width="6" height="1.4"/><text x="1971.67" y="89.89" font-size="17.60" textLength="19.44" lengthAdjust="spacingAndGlyphs">14</text></g></svg></body></html>
